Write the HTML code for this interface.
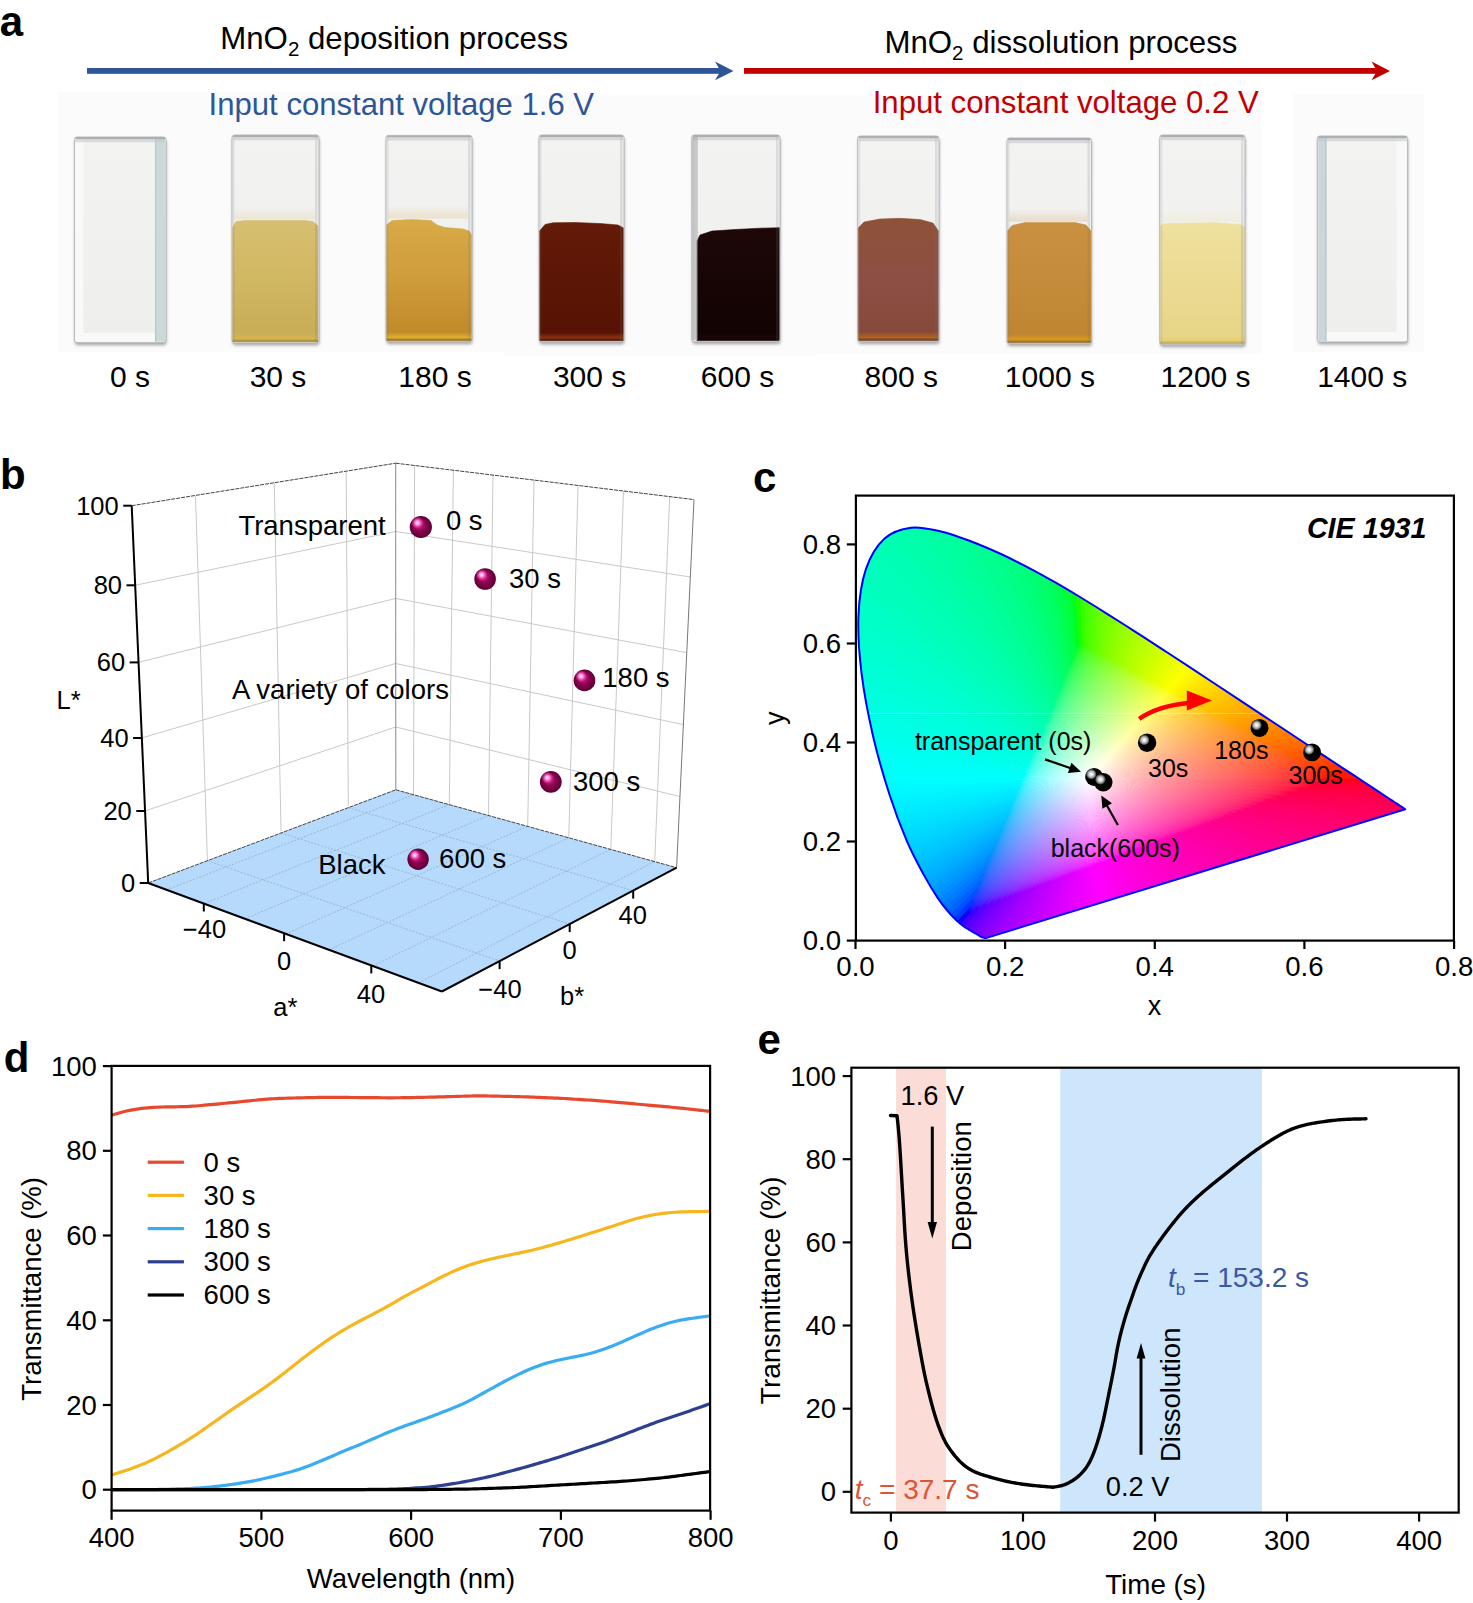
<!DOCTYPE html>
<html><head><meta charset="utf-8"><title>figure</title>
<style>html,body{margin:0;padding:0;background:#fff;}svg{display:block;}</style></head>
<body><svg width="1473" height="1603" viewBox="0 0 1473 1603" font-family="Liberation Sans, sans-serif">
<defs>
<filter id="shblur" x="-10%" y="-10%" width="120%" height="120%"><feGaussianBlur stdDeviation="1.4"/></filter>
<linearGradient id="emptyg" x1="0" y1="0" x2="0" y2="1"><stop offset="0" stop-color="#f3f3f2"/><stop offset="1" stop-color="#eeeeed"/></linearGradient>
<linearGradient id="liq1" gradientUnits="userSpaceOnUse" x1="0" y1="220.5" x2="0" y2="341.8"><stop offset="0" stop-color="#d6bf70"/><stop offset="0.5" stop-color="#d0b762"/><stop offset="0.93" stop-color="#c9ad56"/><stop offset="0.975" stop-color="#d6b64c"/><stop offset="1" stop-color="#978240"/></linearGradient>
<linearGradient id="sb1" x1="0" y1="0" x2="0" y2="1"><stop offset="0" stop-color="#d6bf70" stop-opacity="0"/><stop offset="1" stop-color="#d6bf70" stop-opacity="0.22"/></linearGradient>
<linearGradient id="liq2" gradientUnits="userSpaceOnUse" x1="0" y1="219.5" x2="0" y2="340.5"><stop offset="0" stop-color="#d8aa48"/><stop offset="0.5" stop-color="#cf9c3a"/><stop offset="0.93" stop-color="#c18a2a"/><stop offset="0.975" stop-color="#e0b02c"/><stop offset="1" stop-color="#916820"/></linearGradient>
<linearGradient id="sb2" x1="0" y1="0" x2="0" y2="1"><stop offset="0" stop-color="#d8aa48" stop-opacity="0"/><stop offset="1" stop-color="#d8aa48" stop-opacity="0.22"/></linearGradient>
<linearGradient id="liq3" gradientUnits="userSpaceOnUse" x1="0" y1="222.5" x2="0" y2="340.8"><stop offset="0" stop-color="#641b08"/><stop offset="0.5" stop-color="#5c1605"/><stop offset="0.93" stop-color="#561204"/><stop offset="0.975" stop-color="#8a3210"/><stop offset="1" stop-color="#400e03"/></linearGradient>
<linearGradient id="sb3" x1="0" y1="0" x2="0" y2="1"><stop offset="0" stop-color="#641b08" stop-opacity="0"/><stop offset="1" stop-color="#641b08" stop-opacity="0.22"/></linearGradient>
<linearGradient id="liq4" gradientUnits="userSpaceOnUse" x1="0" y1="227.7" x2="0" y2="340.5"><stop offset="0" stop-color="#1e0807"/><stop offset="0.5" stop-color="#170505"/><stop offset="0.93" stop-color="#120303"/><stop offset="0.975" stop-color="#1a0605"/><stop offset="1" stop-color="#0e0202"/></linearGradient>
<linearGradient id="sb4" x1="0" y1="0" x2="0" y2="1"><stop offset="0" stop-color="#1e0807" stop-opacity="0"/><stop offset="1" stop-color="#1e0807" stop-opacity="0.22"/></linearGradient>
<linearGradient id="liq5" gradientUnits="userSpaceOnUse" x1="0" y1="218.3" x2="0" y2="340.5"><stop offset="0" stop-color="#8f5238"/><stop offset="0.5" stop-color="#8c4f44"/><stop offset="0.93" stop-color="#864a3c"/><stop offset="0.975" stop-color="#b0651e"/><stop offset="1" stop-color="#64382d"/></linearGradient>
<linearGradient id="sb5" x1="0" y1="0" x2="0" y2="1"><stop offset="0" stop-color="#8f5238" stop-opacity="0"/><stop offset="1" stop-color="#8f5238" stop-opacity="0.22"/></linearGradient>
<linearGradient id="liq6" gradientUnits="userSpaceOnUse" x1="0" y1="222.6" x2="0" y2="342.5"><stop offset="0" stop-color="#c89040"/><stop offset="0.5" stop-color="#c48c3a"/><stop offset="0.93" stop-color="#bf8532"/><stop offset="0.975" stop-color="#d89a1e"/><stop offset="1" stop-color="#8f6426"/></linearGradient>
<linearGradient id="sb6" x1="0" y1="0" x2="0" y2="1"><stop offset="0" stop-color="#c89040" stop-opacity="0"/><stop offset="1" stop-color="#c89040" stop-opacity="0.22"/></linearGradient>
<linearGradient id="liq7" gradientUnits="userSpaceOnUse" x1="0" y1="222.8" x2="0" y2="343.6"><stop offset="0" stop-color="#eee09e"/><stop offset="0.5" stop-color="#ebdb92"/><stop offset="0.93" stop-color="#e7d588"/><stop offset="0.975" stop-color="#e8d070"/><stop offset="1" stop-color="#ada066"/></linearGradient>
<linearGradient id="sb7" x1="0" y1="0" x2="0" y2="1"><stop offset="0" stop-color="#eee09e" stop-opacity="0"/><stop offset="1" stop-color="#eee09e" stop-opacity="0.22"/></linearGradient>
<radialGradient id="sph" cx="0.5" cy="0.5" r="0.5" fx="0.36" fy="0.3"><stop offset="0" stop-color="#f070c0"/><stop offset="0.25" stop-color="#c8207e"/><stop offset="0.55" stop-color="#8e0350"/><stop offset="0.85" stop-color="#6c003c"/><stop offset="1" stop-color="#5a0032"/></radialGradient>
<radialGradient id="mhl"><stop offset="0" stop-color="#ffe2ff"/><stop offset="0.3" stop-color="#ffb0ec" stop-opacity="0.95"/><stop offset="0.65" stop-color="#ff5cc4" stop-opacity="0.55"/><stop offset="1" stop-color="#ff40b0" stop-opacity="0"/></radialGradient>
<clipPath id="cieclip"><path d="M985.76,938.12 C985.11,937.97 983.08,937.67 981.87,937.18 C980.66,936.70 980.04,936.09 978.50,935.20 C976.97,934.31 974.34,932.81 972.67,931.83 C971.00,930.86 970.05,930.35 968.48,929.36 C966.91,928.37 965.17,927.31 963.24,925.89 C961.31,924.47 959.36,923.16 956.88,920.84 C954.40,918.52 951.58,915.85 948.35,911.97 C945.12,908.10 941.59,903.79 937.50,897.61 C933.41,891.43 928.91,884.28 923.81,874.88 C918.71,865.48 912.63,854.60 906.90,841.20 C901.18,827.81 895.10,812.00 889.47,794.50 C883.83,777.00 877.72,756.30 873.08,736.21 C868.44,716.12 864.08,693.94 861.64,673.96 C859.19,653.97 857.71,633.79 858.42,616.31 C859.13,598.83 861.54,582.04 865.90,569.06 C870.26,556.09 877.07,545.36 884.60,538.46 C892.14,531.56 901.70,528.83 911.09,527.66 C920.48,526.49 930.92,529.12 940.94,531.42 C950.97,533.73 961.43,537.80 971.25,541.48 C981.06,545.16 990.49,549.25 999.83,553.51 C1009.17,557.77 1018.20,562.30 1027.29,567.03 C1036.38,571.76 1045.39,576.77 1054.37,581.89 C1063.35,587.01 1072.24,592.34 1081.16,597.74 C1090.07,603.14 1098.95,608.68 1107.87,614.28 C1116.78,619.88 1125.75,625.60 1134.65,631.32 C1143.56,637.04 1152.44,642.84 1161.29,648.60 C1170.14,654.36 1179.03,660.16 1187.78,665.88 C1196.52,671.61 1205.21,677.35 1213.74,682.97 C1222.27,688.59 1230.72,694.18 1238.95,699.61 C1247.18,705.04 1255.30,710.41 1263.12,715.56 C1270.94,720.71 1278.62,725.74 1285.86,730.51 C1293.11,735.29 1300.13,739.97 1306.59,744.23 C1313.05,748.50 1318.97,752.40 1324.62,756.12 C1330.27,759.84 1335.64,763.39 1340.48,766.57 C1345.32,769.75 1349.67,772.57 1353.65,775.19 C1357.63,777.80 1361.15,780.15 1364.35,782.27 C1367.56,784.39 1370.32,786.23 1372.88,787.91 C1375.44,789.60 1377.64,791.03 1379.69,792.37 C1381.73,793.72 1383.48,794.88 1385.15,795.99 C1386.82,797.09 1388.33,798.09 1389.71,799.01 C1391.10,799.92 1392.33,800.75 1393.46,801.48 C1394.58,802.22 1395.29,802.66 1396.45,803.42 C1397.61,804.18 1398.96,805.07 1400.41,806.04 C1401.87,807.01 1404.40,808.68 1405.20,809.21 Z"/></clipPath>
<linearGradient id="w0" gradientUnits="userSpaceOnUse" x1="1089.5" y1="777.7" x2="1362.4" y2="781.0"><stop offset="0.000" stop-color="#ffffff"/><stop offset="0.062" stop-color="#ffdfdf"/><stop offset="0.138" stop-color="#ffc1c2"/><stop offset="0.225" stop-color="#ffa6a8"/><stop offset="0.325" stop-color="#ff8d8f"/><stop offset="0.750" stop-color="#ff323c"/><stop offset="0.825" stop-color="#ff1a2b"/><stop offset="0.863" stop-color="#ff011f"/><stop offset="1.000" stop-color="#ff001f"/></linearGradient>
<linearGradient id="w1" gradientUnits="userSpaceOnUse" x1="1089.5" y1="777.7" x2="1372.9" y2="787.9"><stop offset="0.000" stop-color="#ffffff"/><stop offset="0.050" stop-color="#ffe3e4"/><stop offset="0.100" stop-color="#ffcccf"/><stop offset="0.250" stop-color="#ff9aa0"/><stop offset="0.412" stop-color="#ff727b"/><stop offset="0.675" stop-color="#ff344b"/><stop offset="0.738" stop-color="#ff1f3f"/><stop offset="0.787" stop-color="#ff0036"/><stop offset="1.000" stop-color="#ff0036"/></linearGradient>
<linearGradient id="w2" gradientUnits="userSpaceOnUse" x1="1089.5" y1="777.7" x2="1384.4" y2="795.5"><stop offset="0.000" stop-color="#ffffff"/><stop offset="0.050" stop-color="#ffe1e3"/><stop offset="0.100" stop-color="#ffcacd"/><stop offset="0.237" stop-color="#ff99a1"/><stop offset="0.388" stop-color="#ff707f"/><stop offset="0.613" stop-color="#ff3555"/><stop offset="0.675" stop-color="#ff1c4a"/><stop offset="0.713" stop-color="#ff0044"/><stop offset="1.000" stop-color="#ff0044"/></linearGradient>
<linearGradient id="w3" gradientUnits="userSpaceOnUse" x1="1089.5" y1="777.7" x2="1396.9" y2="803.7"><stop offset="0.000" stop-color="#ffffff"/><stop offset="0.050" stop-color="#ffe0e2"/><stop offset="0.100" stop-color="#ffc7cc"/><stop offset="0.225" stop-color="#ff97a3"/><stop offset="0.362" stop-color="#ff6f83"/><stop offset="0.550" stop-color="#ff385f"/><stop offset="0.613" stop-color="#ff1d55"/><stop offset="0.637" stop-color="#ff0750"/><stop offset="0.650" stop-color="#ff0050"/><stop offset="1.000" stop-color="#ff0050"/></linearGradient>
<linearGradient id="w4" gradientUnits="userSpaceOnUse" x1="1089.5" y1="777.7" x2="1398.2" y2="811.4"><stop offset="0.000" stop-color="#ffffff"/><stop offset="0.050" stop-color="#ffdfe2"/><stop offset="0.100" stop-color="#ffc5cc"/><stop offset="0.225" stop-color="#ff95a4"/><stop offset="0.350" stop-color="#ff6e86"/><stop offset="0.525" stop-color="#ff3766"/><stop offset="0.575" stop-color="#ff1f5e"/><stop offset="0.613" stop-color="#ff0059"/><stop offset="1.000" stop-color="#ff0059"/></linearGradient>
<linearGradient id="w5" gradientUnits="userSpaceOnUse" x1="1089.5" y1="777.7" x2="1381.0" y2="816.6"><stop offset="0.000" stop-color="#ffffff"/><stop offset="0.050" stop-color="#ffe0e4"/><stop offset="0.100" stop-color="#ffc7cf"/><stop offset="0.225" stop-color="#ff97a8"/><stop offset="0.362" stop-color="#ff6c89"/><stop offset="0.525" stop-color="#ff396e"/><stop offset="0.588" stop-color="#ff1a64"/><stop offset="0.613" stop-color="#ff0061"/><stop offset="1.000" stop-color="#ff0061"/></linearGradient>
<linearGradient id="w6" gradientUnits="userSpaceOnUse" x1="1089.5" y1="777.7" x2="1365.6" y2="821.4"><stop offset="0.000" stop-color="#ffffff"/><stop offset="0.050" stop-color="#ffe1e5"/><stop offset="0.100" stop-color="#ffc8d1"/><stop offset="0.237" stop-color="#ff94a9"/><stop offset="0.362" stop-color="#ff6e8f"/><stop offset="0.525" stop-color="#ff3b74"/><stop offset="0.575" stop-color="#ff256d"/><stop offset="0.600" stop-color="#ff136a"/><stop offset="0.613" stop-color="#ff0468"/><stop offset="0.625" stop-color="#ff0068"/><stop offset="1.000" stop-color="#ff0068"/></linearGradient>
<linearGradient id="w7" gradientUnits="userSpaceOnUse" x1="1089.5" y1="777.7" x2="1351.6" y2="825.7"><stop offset="0.000" stop-color="#ffffff"/><stop offset="0.050" stop-color="#ffe2e6"/><stop offset="0.100" stop-color="#ffc9d3"/><stop offset="0.237" stop-color="#ff96ac"/><stop offset="0.375" stop-color="#ff6c91"/><stop offset="0.537" stop-color="#ff3879"/><stop offset="0.588" stop-color="#ff2072"/><stop offset="0.625" stop-color="#ff006e"/><stop offset="1.000" stop-color="#ff006e"/></linearGradient>
<linearGradient id="w8" gradientUnits="userSpaceOnUse" x1="1089.5" y1="777.7" x2="1338.8" y2="829.6"><stop offset="0.000" stop-color="#ffffff"/><stop offset="0.100" stop-color="#ffcbd5"/><stop offset="0.237" stop-color="#ff98b0"/><stop offset="0.375" stop-color="#ff6e96"/><stop offset="0.537" stop-color="#ff3a7e"/><stop offset="0.588" stop-color="#ff2278"/><stop offset="0.600" stop-color="#ff1a76"/><stop offset="0.625" stop-color="#ff0074"/><stop offset="1.000" stop-color="#ff0074"/></linearGradient>
<linearGradient id="w9" gradientUnits="userSpaceOnUse" x1="1089.5" y1="777.7" x2="1327.1" y2="833.2"><stop offset="0.000" stop-color="#ffffff"/><stop offset="0.100" stop-color="#ffccd7"/><stop offset="0.237" stop-color="#ff99b3"/><stop offset="0.375" stop-color="#ff709a"/><stop offset="0.537" stop-color="#ff3c83"/><stop offset="0.600" stop-color="#ff1c7c"/><stop offset="0.613" stop-color="#ff117a"/><stop offset="0.625" stop-color="#ff0079"/><stop offset="1.000" stop-color="#ff0079"/></linearGradient>
<linearGradient id="w10" gradientUnits="userSpaceOnUse" x1="1089.5" y1="777.7" x2="1316.4" y2="836.5"><stop offset="0.000" stop-color="#ffffff"/><stop offset="0.100" stop-color="#ffcdd8"/><stop offset="0.250" stop-color="#ff97b3"/><stop offset="0.375" stop-color="#ff719d"/><stop offset="0.537" stop-color="#ff3d88"/><stop offset="0.588" stop-color="#ff2682"/><stop offset="0.613" stop-color="#ff147f"/><stop offset="0.625" stop-color="#ff047e"/><stop offset="0.637" stop-color="#ff007e"/><stop offset="1.000" stop-color="#ff007e"/></linearGradient>
<linearGradient id="w11" gradientUnits="userSpaceOnUse" x1="1089.5" y1="777.7" x2="1306.4" y2="839.6"><stop offset="0.000" stop-color="#ffffff"/><stop offset="0.050" stop-color="#ffe4eb"/><stop offset="0.113" stop-color="#ffc8d6"/><stop offset="0.250" stop-color="#ff98b6"/><stop offset="0.375" stop-color="#ff72a1"/><stop offset="0.537" stop-color="#ff3f8c"/><stop offset="0.600" stop-color="#ff2085"/><stop offset="0.613" stop-color="#ff1784"/><stop offset="0.625" stop-color="#ff0883"/><stop offset="0.637" stop-color="#ff0082"/><stop offset="1.000" stop-color="#ff0082"/></linearGradient>
<linearGradient id="w12" gradientUnits="userSpaceOnUse" x1="1089.5" y1="777.7" x2="1297.2" y2="842.4"><stop offset="0.000" stop-color="#ffffff"/><stop offset="0.087" stop-color="#ffd4df"/><stop offset="0.212" stop-color="#ffa5c0"/><stop offset="0.362" stop-color="#ff77a6"/><stop offset="0.550" stop-color="#ff3b8f"/><stop offset="0.600" stop-color="#ff228a"/><stop offset="0.637" stop-color="#ff0086"/><stop offset="1.000" stop-color="#ff0086"/></linearGradient>
<linearGradient id="w13" gradientUnits="userSpaceOnUse" x1="1089.5" y1="777.7" x2="1288.6" y2="845.0"><stop offset="0.000" stop-color="#ffffff"/><stop offset="0.087" stop-color="#ffd5e0"/><stop offset="0.212" stop-color="#ffa6c2"/><stop offset="0.362" stop-color="#ff79a9"/><stop offset="0.550" stop-color="#ff3d93"/><stop offset="0.600" stop-color="#ff248e"/><stop offset="0.613" stop-color="#ff1b8c"/><stop offset="0.637" stop-color="#ff008a"/><stop offset="1.000" stop-color="#ff008a"/></linearGradient>
<linearGradient id="w14" gradientUnits="userSpaceOnUse" x1="1089.5" y1="777.7" x2="1280.6" y2="847.5"><stop offset="0.000" stop-color="#ffffff"/><stop offset="0.087" stop-color="#ffd5e2"/><stop offset="0.212" stop-color="#ffa8c4"/><stop offset="0.362" stop-color="#ff7aac"/><stop offset="0.550" stop-color="#ff3e96"/><stop offset="0.613" stop-color="#ff1d90"/><stop offset="0.625" stop-color="#ff128f"/><stop offset="0.637" stop-color="#ff008e"/><stop offset="1.000" stop-color="#ff008e"/></linearGradient>
<linearGradient id="w15" gradientUnits="userSpaceOnUse" x1="1089.5" y1="777.7" x2="1273.0" y2="849.8"><stop offset="0.000" stop-color="#ffffff"/><stop offset="0.100" stop-color="#ffd1df"/><stop offset="0.225" stop-color="#ffa5c4"/><stop offset="0.375" stop-color="#ff77ad"/><stop offset="0.550" stop-color="#ff3f9a"/><stop offset="0.613" stop-color="#ff1f94"/><stop offset="0.625" stop-color="#ff1493"/><stop offset="0.637" stop-color="#ff0292"/><stop offset="1.000" stop-color="#ff0092"/></linearGradient>
<linearGradient id="w16" gradientUnits="userSpaceOnUse" x1="1089.5" y1="777.7" x2="1265.9" y2="852.0"><stop offset="0.000" stop-color="#ffffff"/><stop offset="0.100" stop-color="#ffd2e1"/><stop offset="0.225" stop-color="#ffa6c6"/><stop offset="0.375" stop-color="#ff79b0"/><stop offset="0.550" stop-color="#ff409d"/><stop offset="0.600" stop-color="#ff2998"/><stop offset="0.625" stop-color="#ff1696"/><stop offset="0.637" stop-color="#ff0595"/><stop offset="0.650" stop-color="#ff0095"/><stop offset="1.000" stop-color="#ff0095"/></linearGradient>
<linearGradient id="w17" gradientUnits="userSpaceOnUse" x1="1089.5" y1="777.7" x2="1259.2" y2="854.1"><stop offset="0.000" stop-color="#ffffff"/><stop offset="0.100" stop-color="#ffd2e2"/><stop offset="0.225" stop-color="#ffa7c8"/><stop offset="0.375" stop-color="#ff7ab2"/><stop offset="0.550" stop-color="#ff41a0"/><stop offset="0.613" stop-color="#ff229b"/><stop offset="0.625" stop-color="#ff189a"/><stop offset="0.637" stop-color="#ff0899"/><stop offset="0.650" stop-color="#ff0098"/><stop offset="1.000" stop-color="#ff0098"/></linearGradient>
<linearGradient id="w18" gradientUnits="userSpaceOnUse" x1="1089.5" y1="777.7" x2="1252.9" y2="856.0"><stop offset="0.000" stop-color="#ffffff"/><stop offset="0.100" stop-color="#ffd3e3"/><stop offset="0.225" stop-color="#ffa8ca"/><stop offset="0.375" stop-color="#ff7bb5"/><stop offset="0.550" stop-color="#ff42a3"/><stop offset="0.613" stop-color="#ff249e"/><stop offset="0.650" stop-color="#ff009b"/><stop offset="1.000" stop-color="#ff009b"/></linearGradient>
<linearGradient id="w19" gradientUnits="userSpaceOnUse" x1="1089.5" y1="777.7" x2="1246.9" y2="857.9"><stop offset="0.000" stop-color="#ffffff"/><stop offset="0.100" stop-color="#ffd4e4"/><stop offset="0.225" stop-color="#ffa9cc"/><stop offset="0.375" stop-color="#ff7cb7"/><stop offset="0.550" stop-color="#ff44a6"/><stop offset="0.613" stop-color="#ff25a1"/><stop offset="0.625" stop-color="#ff1ca0"/><stop offset="0.650" stop-color="#ff009e"/><stop offset="1.000" stop-color="#ff009e"/></linearGradient>
<linearGradient id="w20" gradientUnits="userSpaceOnUse" x1="1089.5" y1="777.7" x2="1241.2" y2="859.6"><stop offset="0.000" stop-color="#ffffff"/><stop offset="0.100" stop-color="#ffd4e5"/><stop offset="0.225" stop-color="#ffa9cd"/><stop offset="0.375" stop-color="#ff7dba"/><stop offset="0.550" stop-color="#ff45a9"/><stop offset="0.613" stop-color="#ff26a4"/><stop offset="0.625" stop-color="#ff1da3"/><stop offset="0.650" stop-color="#ff00a1"/><stop offset="1.000" stop-color="#ff00a1"/></linearGradient>
<linearGradient id="w21" gradientUnits="userSpaceOnUse" x1="1089.5" y1="777.7" x2="1235.7" y2="861.3"><stop offset="0.000" stop-color="#ffffff"/><stop offset="0.100" stop-color="#ffd5e6"/><stop offset="0.225" stop-color="#ffaacf"/><stop offset="0.463" stop-color="#ff64b3"/><stop offset="0.550" stop-color="#ff46ab"/><stop offset="0.613" stop-color="#ff27a7"/><stop offset="0.637" stop-color="#ff12a5"/><stop offset="0.650" stop-color="#ff00a4"/><stop offset="1.000" stop-color="#ff00a4"/></linearGradient>
<linearGradient id="w22" gradientUnits="userSpaceOnUse" x1="1089.5" y1="777.7" x2="1230.5" y2="862.9"><stop offset="0.000" stop-color="#ffffff"/><stop offset="0.100" stop-color="#ffd5e7"/><stop offset="0.225" stop-color="#ffabd1"/><stop offset="0.463" stop-color="#ff64b5"/><stop offset="0.550" stop-color="#ff47ae"/><stop offset="0.600" stop-color="#ff30aa"/><stop offset="0.625" stop-color="#ff20a8"/><stop offset="0.637" stop-color="#ff14a8"/><stop offset="0.650" stop-color="#ff00a7"/><stop offset="1.000" stop-color="#ff00a7"/></linearGradient>
<linearGradient id="w23" gradientUnits="userSpaceOnUse" x1="1089.5" y1="777.7" x2="1225.5" y2="864.4"><stop offset="0.000" stop-color="#ffffff"/><stop offset="0.100" stop-color="#ffd6e7"/><stop offset="0.225" stop-color="#ffacd2"/><stop offset="0.463" stop-color="#ff65b8"/><stop offset="0.550" stop-color="#ff47b0"/><stop offset="0.600" stop-color="#ff31ad"/><stop offset="0.625" stop-color="#ff21ab"/><stop offset="0.637" stop-color="#ff16aa"/><stop offset="0.650" stop-color="#ff03a9"/><stop offset="1.000" stop-color="#ff00a9"/></linearGradient>
<linearGradient id="w24" gradientUnits="userSpaceOnUse" x1="1089.5" y1="777.7" x2="1220.7" y2="865.9"><stop offset="0.000" stop-color="#ffffff"/><stop offset="0.100" stop-color="#ffd6e8"/><stop offset="0.225" stop-color="#ffadd4"/><stop offset="0.450" stop-color="#ff6abb"/><stop offset="0.550" stop-color="#ff48b3"/><stop offset="0.613" stop-color="#ff2bae"/><stop offset="0.637" stop-color="#ff18ad"/><stop offset="0.650" stop-color="#ff05ac"/><stop offset="0.662" stop-color="#ff00ac"/><stop offset="1.000" stop-color="#ff00ac"/></linearGradient>
<linearGradient id="w25" gradientUnits="userSpaceOnUse" x1="1089.5" y1="777.7" x2="1216.1" y2="867.3"><stop offset="0.000" stop-color="#ffffff"/><stop offset="0.100" stop-color="#ffd7e9"/><stop offset="0.225" stop-color="#ffadd5"/><stop offset="0.450" stop-color="#ff6bbd"/><stop offset="0.550" stop-color="#ff49b5"/><stop offset="0.613" stop-color="#ff2cb1"/><stop offset="0.637" stop-color="#ff19af"/><stop offset="0.650" stop-color="#ff08ae"/><stop offset="0.662" stop-color="#ff00ae"/><stop offset="1.000" stop-color="#ff00ae"/></linearGradient>
<linearGradient id="w26" gradientUnits="userSpaceOnUse" x1="1089.5" y1="777.7" x2="1211.6" y2="868.7"><stop offset="0.000" stop-color="#ffffff"/><stop offset="0.100" stop-color="#ffd7ea"/><stop offset="0.225" stop-color="#ffaed7"/><stop offset="0.450" stop-color="#ff6cbf"/><stop offset="0.550" stop-color="#ff4ab7"/><stop offset="0.588" stop-color="#ff3ab5"/><stop offset="0.625" stop-color="#ff25b2"/><stop offset="0.662" stop-color="#ff00b1"/><stop offset="1.000" stop-color="#ff00b1"/></linearGradient>
<linearGradient id="w27" gradientUnits="userSpaceOnUse" x1="1089.5" y1="777.7" x2="1207.3" y2="870.0"><stop offset="0.000" stop-color="#ffffff"/><stop offset="0.100" stop-color="#ffd8eb"/><stop offset="0.225" stop-color="#ffafd8"/><stop offset="0.450" stop-color="#ff6dc1"/><stop offset="0.550" stop-color="#ff4bba"/><stop offset="0.588" stop-color="#ff3bb7"/><stop offset="0.625" stop-color="#ff26b5"/><stop offset="0.662" stop-color="#ff00b3"/><stop offset="1.000" stop-color="#ff00b3"/></linearGradient>
<linearGradient id="w28" gradientUnits="userSpaceOnUse" x1="1089.5" y1="777.7" x2="1203.2" y2="871.3"><stop offset="0.000" stop-color="#ffffff"/><stop offset="0.100" stop-color="#ffd8eb"/><stop offset="0.225" stop-color="#ffb0d9"/><stop offset="0.450" stop-color="#ff6dc3"/><stop offset="0.550" stop-color="#ff4cbc"/><stop offset="0.588" stop-color="#ff3cb9"/><stop offset="0.625" stop-color="#ff27b7"/><stop offset="0.637" stop-color="#ff1db6"/><stop offset="0.662" stop-color="#ff00b5"/><stop offset="1.000" stop-color="#ff00b5"/></linearGradient>
<linearGradient id="w29" gradientUnits="userSpaceOnUse" x1="1089.5" y1="777.7" x2="1199.2" y2="872.5"><stop offset="0.000" stop-color="#ffffff"/><stop offset="0.100" stop-color="#ffd9ec"/><stop offset="0.225" stop-color="#ffb0db"/><stop offset="0.450" stop-color="#ff6ec5"/><stop offset="0.550" stop-color="#ff4dbe"/><stop offset="0.625" stop-color="#ff28b9"/><stop offset="0.637" stop-color="#ff1eb9"/><stop offset="0.662" stop-color="#ff00b8"/><stop offset="1.000" stop-color="#ff00b8"/></linearGradient>
<linearGradient id="w30" gradientUnits="userSpaceOnUse" x1="1089.5" y1="777.7" x2="1195.3" y2="873.7"><stop offset="0.000" stop-color="#ffffff"/><stop offset="0.100" stop-color="#ffd9ed"/><stop offset="0.225" stop-color="#ffb1dc"/><stop offset="0.450" stop-color="#ff6fc7"/><stop offset="0.550" stop-color="#ff4dc0"/><stop offset="0.625" stop-color="#ff29bc"/><stop offset="0.650" stop-color="#ff12ba"/><stop offset="0.662" stop-color="#ff00ba"/><stop offset="1.000" stop-color="#ff00ba"/></linearGradient>
<linearGradient id="w31" gradientUnits="userSpaceOnUse" x1="1089.5" y1="777.7" x2="1191.5" y2="874.9"><stop offset="0.000" stop-color="#ffffff"/><stop offset="0.100" stop-color="#ffdaed"/><stop offset="0.225" stop-color="#ffb2dd"/><stop offset="0.450" stop-color="#ff70c9"/><stop offset="0.550" stop-color="#ff4ec2"/><stop offset="0.625" stop-color="#ff2abe"/><stop offset="0.650" stop-color="#ff14bd"/><stop offset="0.662" stop-color="#ff00bc"/><stop offset="1.000" stop-color="#ff00bc"/></linearGradient>
<linearGradient id="w32" gradientUnits="userSpaceOnUse" x1="1089.5" y1="777.7" x2="1187.8" y2="876.0"><stop offset="0.000" stop-color="#ffffff"/><stop offset="0.100" stop-color="#ffdaee"/><stop offset="0.237" stop-color="#ffafdd"/><stop offset="0.450" stop-color="#ff71cb"/><stop offset="0.550" stop-color="#ff4fc4"/><stop offset="0.625" stop-color="#ff2bc0"/><stop offset="0.650" stop-color="#ff15bf"/><stop offset="0.662" stop-color="#ff00be"/><stop offset="1.000" stop-color="#ff00be"/></linearGradient>
<linearGradient id="w33" gradientUnits="userSpaceOnUse" x1="1089.5" y1="777.7" x2="1184.2" y2="877.1"><stop offset="0.000" stop-color="#ffffff"/><stop offset="0.100" stop-color="#ffdaef"/><stop offset="0.237" stop-color="#ffafde"/><stop offset="0.450" stop-color="#ff71cc"/><stop offset="0.550" stop-color="#ff50c6"/><stop offset="0.625" stop-color="#ff2cc2"/><stop offset="0.650" stop-color="#ff16c1"/><stop offset="0.662" stop-color="#ff01c0"/><stop offset="1.000" stop-color="#ff00c0"/></linearGradient>
<linearGradient id="w34" gradientUnits="userSpaceOnUse" x1="1089.5" y1="777.7" x2="1180.7" y2="878.2"><stop offset="0.000" stop-color="#ffffff"/><stop offset="0.100" stop-color="#ffdbef"/><stop offset="0.237" stop-color="#ffb0df"/><stop offset="0.450" stop-color="#ff72ce"/><stop offset="0.550" stop-color="#ff50c8"/><stop offset="0.625" stop-color="#ff2dc4"/><stop offset="0.650" stop-color="#ff18c3"/><stop offset="0.662" stop-color="#ff03c2"/><stop offset="0.675" stop-color="#ff00c2"/><stop offset="1.000" stop-color="#ff00c2"/></linearGradient>
<linearGradient id="w35" gradientUnits="userSpaceOnUse" x1="1089.5" y1="777.7" x2="1177.3" y2="879.3"><stop offset="0.000" stop-color="#ffffff"/><stop offset="0.100" stop-color="#ffdbf0"/><stop offset="0.237" stop-color="#ffb1e1"/><stop offset="0.450" stop-color="#ff73d0"/><stop offset="0.550" stop-color="#ff51ca"/><stop offset="0.625" stop-color="#ff2ec6"/><stop offset="0.650" stop-color="#ff19c5"/><stop offset="0.662" stop-color="#ff05c5"/><stop offset="0.675" stop-color="#ff00c4"/><stop offset="1.000" stop-color="#ff00c4"/></linearGradient>
<linearGradient id="w36" gradientUnits="userSpaceOnUse" x1="1089.5" y1="777.7" x2="1173.9" y2="880.3"><stop offset="0.000" stop-color="#ffffff"/><stop offset="0.100" stop-color="#ffdcf1"/><stop offset="0.237" stop-color="#ffb1e2"/><stop offset="0.450" stop-color="#ff74d2"/><stop offset="0.550" stop-color="#ff52cc"/><stop offset="0.625" stop-color="#ff2ec8"/><stop offset="0.650" stop-color="#ff1ac7"/><stop offset="0.662" stop-color="#ff07c7"/><stop offset="0.675" stop-color="#ff00c6"/><stop offset="1.000" stop-color="#ff00c6"/></linearGradient>
<linearGradient id="w37" gradientUnits="userSpaceOnUse" x1="1089.5" y1="777.7" x2="1170.7" y2="881.3"><stop offset="0.000" stop-color="#ffffff"/><stop offset="0.100" stop-color="#ffdcf1"/><stop offset="0.237" stop-color="#ffb2e3"/><stop offset="0.450" stop-color="#ff74d3"/><stop offset="0.550" stop-color="#ff53ce"/><stop offset="0.625" stop-color="#ff2fca"/><stop offset="0.650" stop-color="#ff1bc9"/><stop offset="0.662" stop-color="#ff09c9"/><stop offset="0.675" stop-color="#ff00c9"/><stop offset="1.000" stop-color="#ff00c9"/></linearGradient>
<linearGradient id="w38" gradientUnits="userSpaceOnUse" x1="1089.5" y1="777.7" x2="1167.4" y2="882.3"><stop offset="0.000" stop-color="#ffffff"/><stop offset="0.237" stop-color="#ffb2e4"/><stop offset="0.450" stop-color="#ff75d5"/><stop offset="0.550" stop-color="#ff53d0"/><stop offset="0.625" stop-color="#ff30cc"/><stop offset="0.650" stop-color="#ff1dcb"/><stop offset="0.662" stop-color="#ff0bcb"/><stop offset="0.675" stop-color="#ff00cb"/><stop offset="1.000" stop-color="#ff00cb"/></linearGradient>
<linearGradient id="w39" gradientUnits="userSpaceOnUse" x1="1089.5" y1="777.7" x2="1164.3" y2="883.3"><stop offset="0.000" stop-color="#ffffff"/><stop offset="0.237" stop-color="#ffb3e5"/><stop offset="0.450" stop-color="#ff76d7"/><stop offset="0.550" stop-color="#ff54d2"/><stop offset="0.625" stop-color="#ff31ce"/><stop offset="0.650" stop-color="#ff1ecd"/><stop offset="0.675" stop-color="#ff00cd"/><stop offset="1.000" stop-color="#ff00cd"/></linearGradient>
<linearGradient id="w40" gradientUnits="userSpaceOnUse" x1="1089.5" y1="777.7" x2="1161.1" y2="884.2"><stop offset="0.000" stop-color="#ffffff"/><stop offset="0.237" stop-color="#ffb4e6"/><stop offset="0.438" stop-color="#ff7ad9"/><stop offset="0.550" stop-color="#ff55d4"/><stop offset="0.600" stop-color="#ff3fd1"/><stop offset="0.637" stop-color="#ff29d0"/><stop offset="0.650" stop-color="#ff1fcf"/><stop offset="0.675" stop-color="#ff00cf"/><stop offset="1.000" stop-color="#ff00cf"/></linearGradient>
<linearGradient id="w41" gradientUnits="userSpaceOnUse" x1="1089.5" y1="777.7" x2="1158.1" y2="885.2"><stop offset="0.000" stop-color="#ffffff"/><stop offset="0.237" stop-color="#ffb4e7"/><stop offset="0.438" stop-color="#ff7bdb"/><stop offset="0.550" stop-color="#ff56d5"/><stop offset="0.600" stop-color="#ff40d3"/><stop offset="0.637" stop-color="#ff2ad2"/><stop offset="0.650" stop-color="#ff20d1"/><stop offset="0.675" stop-color="#ff00d1"/><stop offset="1.000" stop-color="#ff00d1"/></linearGradient>
<linearGradient id="w42" gradientUnits="userSpaceOnUse" x1="1089.5" y1="777.7" x2="1155.0" y2="886.1"><stop offset="0.000" stop-color="#ffffff"/><stop offset="0.237" stop-color="#ffb5e9"/><stop offset="0.438" stop-color="#ff7cdd"/><stop offset="0.550" stop-color="#ff56d7"/><stop offset="0.600" stop-color="#ff41d5"/><stop offset="0.637" stop-color="#ff2bd4"/><stop offset="0.650" stop-color="#ff21d3"/><stop offset="0.675" stop-color="#ff00d3"/><stop offset="1.000" stop-color="#ff00d3"/></linearGradient>
<linearGradient id="w43" gradientUnits="userSpaceOnUse" x1="1089.5" y1="777.7" x2="1152.0" y2="887.0"><stop offset="0.000" stop-color="#ffffff"/><stop offset="0.237" stop-color="#ffb5ea"/><stop offset="0.438" stop-color="#ff7cde"/><stop offset="0.550" stop-color="#ff57d9"/><stop offset="0.600" stop-color="#ff42d7"/><stop offset="0.637" stop-color="#ff2cd6"/><stop offset="0.662" stop-color="#ff14d5"/><stop offset="0.675" stop-color="#ff00d5"/><stop offset="1.000" stop-color="#ff00d5"/></linearGradient>
<linearGradient id="w44" gradientUnits="userSpaceOnUse" x1="1089.5" y1="777.7" x2="1149.0" y2="887.9"><stop offset="0.000" stop-color="#ffffff"/><stop offset="0.237" stop-color="#ffb6eb"/><stop offset="0.438" stop-color="#ff7de0"/><stop offset="0.550" stop-color="#ff58db"/><stop offset="0.600" stop-color="#ff42d9"/><stop offset="0.637" stop-color="#ff2dd8"/><stop offset="0.662" stop-color="#ff15d7"/><stop offset="0.675" stop-color="#ff00d7"/><stop offset="1.000" stop-color="#ff00d7"/></linearGradient>
<linearGradient id="w45" gradientUnits="userSpaceOnUse" x1="1089.5" y1="777.7" x2="1146.1" y2="888.8"><stop offset="0.000" stop-color="#ffffff"/><stop offset="0.237" stop-color="#ffb7ec"/><stop offset="0.438" stop-color="#ff7ee1"/><stop offset="0.550" stop-color="#ff58dd"/><stop offset="0.600" stop-color="#ff43db"/><stop offset="0.637" stop-color="#ff2eda"/><stop offset="0.662" stop-color="#ff16d9"/><stop offset="0.675" stop-color="#ff00d9"/><stop offset="1.000" stop-color="#ff00d9"/></linearGradient>
<linearGradient id="w46" gradientUnits="userSpaceOnUse" x1="1089.5" y1="777.7" x2="1143.2" y2="889.7"><stop offset="0.000" stop-color="#ffffff"/><stop offset="0.237" stop-color="#ffb7ed"/><stop offset="0.438" stop-color="#ff7fe3"/><stop offset="0.550" stop-color="#ff59df"/><stop offset="0.600" stop-color="#ff44dd"/><stop offset="0.637" stop-color="#ff2fdc"/><stop offset="0.662" stop-color="#ff18db"/><stop offset="0.675" stop-color="#ff00db"/><stop offset="1.000" stop-color="#ff00db"/></linearGradient>
<linearGradient id="w47" gradientUnits="userSpaceOnUse" x1="1089.5" y1="777.7" x2="1140.3" y2="890.6"><stop offset="0.000" stop-color="#ffffff"/><stop offset="0.237" stop-color="#ffb8ee"/><stop offset="0.438" stop-color="#ff7fe5"/><stop offset="0.550" stop-color="#ff5ae1"/><stop offset="0.600" stop-color="#ff45df"/><stop offset="0.637" stop-color="#ff2fde"/><stop offset="0.662" stop-color="#ff19dd"/><stop offset="0.675" stop-color="#ff01dd"/><stop offset="1.000" stop-color="#ff00dd"/></linearGradient>
<linearGradient id="w48" gradientUnits="userSpaceOnUse" x1="1089.5" y1="777.7" x2="1137.4" y2="891.5"><stop offset="0.000" stop-color="#ffffff"/><stop offset="0.237" stop-color="#ffb9ef"/><stop offset="0.425" stop-color="#ff84e7"/><stop offset="0.537" stop-color="#ff5fe3"/><stop offset="0.600" stop-color="#ff45e1"/><stop offset="0.637" stop-color="#ff30e0"/><stop offset="0.662" stop-color="#ff1adf"/><stop offset="0.675" stop-color="#ff03df"/><stop offset="0.688" stop-color="#ff00df"/><stop offset="1.000" stop-color="#ff00df"/></linearGradient>
<linearGradient id="w49" gradientUnits="userSpaceOnUse" x1="1089.5" y1="777.7" x2="1134.6" y2="892.4"><stop offset="0.000" stop-color="#ffffff"/><stop offset="0.237" stop-color="#ffb9f0"/><stop offset="0.425" stop-color="#ff84e9"/><stop offset="0.537" stop-color="#ff60e5"/><stop offset="0.600" stop-color="#ff46e3"/><stop offset="0.637" stop-color="#ff31e2"/><stop offset="0.662" stop-color="#ff1be2"/><stop offset="0.675" stop-color="#ff06e1"/><stop offset="0.688" stop-color="#ff00e1"/><stop offset="1.000" stop-color="#ff00e1"/></linearGradient>
<linearGradient id="w50" gradientUnits="userSpaceOnUse" x1="1089.5" y1="777.7" x2="1131.7" y2="893.3"><stop offset="0.000" stop-color="#ffffff"/><stop offset="0.425" stop-color="#ff85ea"/><stop offset="0.537" stop-color="#ff61e7"/><stop offset="0.600" stop-color="#ff47e5"/><stop offset="0.637" stop-color="#ff32e4"/><stop offset="0.662" stop-color="#ff1de4"/><stop offset="0.675" stop-color="#ff08e3"/><stop offset="0.688" stop-color="#ff00e3"/><stop offset="1.000" stop-color="#ff00e3"/></linearGradient>
<linearGradient id="w51" gradientUnits="userSpaceOnUse" x1="1089.5" y1="777.7" x2="1128.9" y2="894.1"><stop offset="0.000" stop-color="#ffffff"/><stop offset="0.412" stop-color="#ff8aec"/><stop offset="0.537" stop-color="#ff62e9"/><stop offset="0.600" stop-color="#ff48e7"/><stop offset="0.637" stop-color="#ff33e6"/><stop offset="0.662" stop-color="#ff1ee6"/><stop offset="0.675" stop-color="#ff0ae6"/><stop offset="0.688" stop-color="#ff00e5"/><stop offset="1.000" stop-color="#ff00e5"/></linearGradient>
<linearGradient id="w52" gradientUnits="userSpaceOnUse" x1="1089.5" y1="777.7" x2="1126.0" y2="895.0"><stop offset="0.000" stop-color="#ffffff"/><stop offset="0.412" stop-color="#ff8aee"/><stop offset="0.537" stop-color="#ff62eb"/><stop offset="0.600" stop-color="#ff49e9"/><stop offset="0.637" stop-color="#ff34e8"/><stop offset="0.662" stop-color="#ff1fe8"/><stop offset="0.675" stop-color="#ff0ce8"/><stop offset="0.688" stop-color="#ff00e8"/><stop offset="1.000" stop-color="#ff00e8"/></linearGradient>
<linearGradient id="w53" gradientUnits="userSpaceOnUse" x1="1089.5" y1="777.7" x2="1123.2" y2="895.9"><stop offset="0.000" stop-color="#ffffff"/><stop offset="0.412" stop-color="#ff8bf0"/><stop offset="0.537" stop-color="#ff63ed"/><stop offset="0.600" stop-color="#ff49eb"/><stop offset="0.637" stop-color="#ff35eb"/><stop offset="0.662" stop-color="#ff20ea"/><stop offset="0.688" stop-color="#ff00ea"/><stop offset="1.000" stop-color="#ff00ea"/></linearGradient>
<linearGradient id="w54" gradientUnits="userSpaceOnUse" x1="1089.5" y1="777.7" x2="1120.3" y2="896.8"><stop offset="0.000" stop-color="#ffffff"/><stop offset="0.400" stop-color="#ff90f2"/><stop offset="0.537" stop-color="#ff64ef"/><stop offset="0.600" stop-color="#ff4aed"/><stop offset="0.637" stop-color="#ff35ed"/><stop offset="0.662" stop-color="#ff21ec"/><stop offset="0.688" stop-color="#ff00ec"/><stop offset="1.000" stop-color="#ff00ec"/></linearGradient>
<linearGradient id="w55" gradientUnits="userSpaceOnUse" x1="1089.5" y1="777.7" x2="1117.5" y2="897.6"><stop offset="0.000" stop-color="#ffffff"/><stop offset="0.400" stop-color="#ff90f3"/><stop offset="0.537" stop-color="#ff65f1"/><stop offset="0.600" stop-color="#ff4bf0"/><stop offset="0.637" stop-color="#ff36ef"/><stop offset="0.662" stop-color="#ff22ef"/><stop offset="0.688" stop-color="#ff00ee"/><stop offset="1.000" stop-color="#ff00ee"/></linearGradient>
<linearGradient id="w56" gradientUnits="userSpaceOnUse" x1="1089.5" y1="777.7" x2="1114.6" y2="898.5"><stop offset="0.000" stop-color="#ffffff"/><stop offset="0.400" stop-color="#ff91f5"/><stop offset="0.537" stop-color="#ff66f3"/><stop offset="0.600" stop-color="#ff4cf2"/><stop offset="0.637" stop-color="#ff37f1"/><stop offset="0.662" stop-color="#ff23f1"/><stop offset="0.688" stop-color="#ff00f1"/><stop offset="1.000" stop-color="#ff00f1"/></linearGradient>
<linearGradient id="w57" gradientUnits="userSpaceOnUse" x1="1089.5" y1="777.7" x2="1111.8" y2="899.4"><stop offset="0.000" stop-color="#ffffff"/><stop offset="0.388" stop-color="#ff96f7"/><stop offset="0.537" stop-color="#ff66f5"/><stop offset="0.600" stop-color="#ff4df4"/><stop offset="0.637" stop-color="#ff38f4"/><stop offset="0.662" stop-color="#ff25f3"/><stop offset="0.675" stop-color="#ff15f3"/><stop offset="0.688" stop-color="#ff00f3"/><stop offset="1.000" stop-color="#ff00f3"/></linearGradient>
<linearGradient id="w58" gradientUnits="userSpaceOnUse" x1="1089.5" y1="777.7" x2="1108.9" y2="900.3"><stop offset="0.000" stop-color="#ffffff"/><stop offset="0.388" stop-color="#ff96f9"/><stop offset="0.537" stop-color="#ff67f7"/><stop offset="0.600" stop-color="#ff4ef6"/><stop offset="0.637" stop-color="#ff39f6"/><stop offset="0.662" stop-color="#ff26f6"/><stop offset="0.675" stop-color="#ff17f6"/><stop offset="0.688" stop-color="#ff00f6"/><stop offset="1.000" stop-color="#ff00f6"/></linearGradient>
<linearGradient id="w59" gradientUnits="userSpaceOnUse" x1="1089.5" y1="777.7" x2="1106.0" y2="901.2"><stop offset="0.000" stop-color="#ffffff"/><stop offset="0.388" stop-color="#ff97fa"/><stop offset="0.537" stop-color="#ff68f9"/><stop offset="0.600" stop-color="#ff4ef9"/><stop offset="0.650" stop-color="#ff31f8"/><stop offset="0.675" stop-color="#ff18f8"/><stop offset="0.688" stop-color="#ff00f8"/><stop offset="1.000" stop-color="#ff00f8"/></linearGradient>
<linearGradient id="w60" gradientUnits="userSpaceOnUse" x1="1089.5" y1="777.7" x2="1103.0" y2="902.1"><stop offset="0.000" stop-color="#ffffff"/><stop offset="0.375" stop-color="#ff9cfc"/><stop offset="0.537" stop-color="#ff69fb"/><stop offset="0.600" stop-color="#ff4ffb"/><stop offset="0.650" stop-color="#ff32fb"/><stop offset="0.675" stop-color="#ff1afb"/><stop offset="0.688" stop-color="#ff00fb"/><stop offset="1.000" stop-color="#ff00fb"/></linearGradient>
<linearGradient id="w61" gradientUnits="userSpaceOnUse" x1="1089.5" y1="777.7" x2="1100.1" y2="903.0"><stop offset="0.000" stop-color="#ffffff"/><stop offset="0.375" stop-color="#ff9cfe"/><stop offset="0.537" stop-color="#ff6afe"/><stop offset="0.600" stop-color="#ff50fe"/><stop offset="0.650" stop-color="#ff33fe"/><stop offset="0.675" stop-color="#ff1bfd"/><stop offset="0.688" stop-color="#ff00fd"/><stop offset="1.000" stop-color="#ff00fd"/></linearGradient>
<linearGradient id="w62" gradientUnits="userSpaceOnUse" x1="1089.5" y1="777.7" x2="1097.1" y2="903.9"><stop offset="0.000" stop-color="#ffffff"/><stop offset="0.375" stop-color="#fe9dff"/><stop offset="0.537" stop-color="#fe6aff"/><stop offset="0.600" stop-color="#fe51ff"/><stop offset="0.650" stop-color="#fe34ff"/><stop offset="0.675" stop-color="#fe1dff"/><stop offset="0.688" stop-color="#fe03ff"/><stop offset="0.700" stop-color="#fe00ff"/><stop offset="1.000" stop-color="#fe00ff"/></linearGradient>
<linearGradient id="w63" gradientUnits="userSpaceOnUse" x1="1089.5" y1="777.7" x2="1094.1" y2="904.8"><stop offset="0.000" stop-color="#ffffff"/><stop offset="0.375" stop-color="#fc9dff"/><stop offset="0.537" stop-color="#fc6aff"/><stop offset="0.600" stop-color="#fb51ff"/><stop offset="0.637" stop-color="#fb3dff"/><stop offset="0.662" stop-color="#fb2bff"/><stop offset="0.675" stop-color="#fb1eff"/><stop offset="0.688" stop-color="#fb06ff"/><stop offset="0.700" stop-color="#fb00ff"/><stop offset="1.000" stop-color="#fb00ff"/></linearGradient>
<linearGradient id="w64" gradientUnits="userSpaceOnUse" x1="1089.5" y1="777.7" x2="1091.0" y2="905.8"><stop offset="0.000" stop-color="#ffffff"/><stop offset="0.375" stop-color="#fa9cff"/><stop offset="0.537" stop-color="#f96aff"/><stop offset="0.600" stop-color="#f951ff"/><stop offset="0.637" stop-color="#f93dff"/><stop offset="0.662" stop-color="#f82bff"/><stop offset="0.675" stop-color="#f81fff"/><stop offset="0.688" stop-color="#f808ff"/><stop offset="0.700" stop-color="#f800ff"/><stop offset="1.000" stop-color="#f800ff"/></linearGradient>
<linearGradient id="w65" gradientUnits="userSpaceOnUse" x1="1089.5" y1="777.7" x2="1087.9" y2="906.7"><stop offset="0.000" stop-color="#ffffff"/><stop offset="0.375" stop-color="#f99cff"/><stop offset="0.537" stop-color="#f76aff"/><stop offset="0.600" stop-color="#f651ff"/><stop offset="0.650" stop-color="#f635ff"/><stop offset="0.675" stop-color="#f520ff"/><stop offset="0.688" stop-color="#f50bff"/><stop offset="0.700" stop-color="#f500ff"/><stop offset="1.000" stop-color="#f500ff"/></linearGradient>
<linearGradient id="w66" gradientUnits="userSpaceOnUse" x1="1089.5" y1="777.7" x2="1084.7" y2="907.7"><stop offset="0.000" stop-color="#ffffff"/><stop offset="0.388" stop-color="#f698ff"/><stop offset="0.550" stop-color="#f465ff"/><stop offset="0.613" stop-color="#f34bff"/><stop offset="0.650" stop-color="#f336ff"/><stop offset="0.675" stop-color="#f320ff"/><stop offset="0.688" stop-color="#f20dff"/><stop offset="0.700" stop-color="#f200ff"/><stop offset="1.000" stop-color="#f200ff"/></linearGradient>
<linearGradient id="w67" gradientUnits="userSpaceOnUse" x1="1089.5" y1="777.7" x2="1081.5" y2="908.7"><stop offset="0.000" stop-color="#ffffff"/><stop offset="0.400" stop-color="#f494ff"/><stop offset="0.550" stop-color="#f265ff"/><stop offset="0.613" stop-color="#f14bff"/><stop offset="0.650" stop-color="#f036ff"/><stop offset="0.675" stop-color="#f021ff"/><stop offset="0.700" stop-color="#ef00ff"/><stop offset="1.000" stop-color="#ef00ff"/></linearGradient>
<linearGradient id="w68" gradientUnits="userSpaceOnUse" x1="1089.5" y1="777.7" x2="1078.3" y2="909.7"><stop offset="0.000" stop-color="#ffffff"/><stop offset="0.400" stop-color="#f294ff"/><stop offset="0.550" stop-color="#ef65ff"/><stop offset="0.613" stop-color="#ee4bff"/><stop offset="0.650" stop-color="#ed37ff"/><stop offset="0.675" stop-color="#ed22ff"/><stop offset="0.700" stop-color="#ec00ff"/><stop offset="1.000" stop-color="#ec00ff"/></linearGradient>
<linearGradient id="w69" gradientUnits="userSpaceOnUse" x1="1089.5" y1="777.7" x2="1074.9" y2="910.7"><stop offset="0.000" stop-color="#ffffff"/><stop offset="0.400" stop-color="#f094ff"/><stop offset="0.550" stop-color="#ec65ff"/><stop offset="0.613" stop-color="#eb4cff"/><stop offset="0.650" stop-color="#ea37ff"/><stop offset="0.675" stop-color="#ea23ff"/><stop offset="0.700" stop-color="#e900ff"/><stop offset="1.000" stop-color="#e900ff"/></linearGradient>
<linearGradient id="w70" gradientUnits="userSpaceOnUse" x1="1089.5" y1="777.7" x2="1071.5" y2="911.8"><stop offset="0.000" stop-color="#ffffff"/><stop offset="0.400" stop-color="#ee94ff"/><stop offset="0.550" stop-color="#ea65ff"/><stop offset="0.613" stop-color="#e84cff"/><stop offset="0.650" stop-color="#e737ff"/><stop offset="0.675" stop-color="#e724ff"/><stop offset="0.688" stop-color="#e615ff"/><stop offset="0.700" stop-color="#e600ff"/><stop offset="1.000" stop-color="#e600ff"/></linearGradient>
<linearGradient id="w71" gradientUnits="userSpaceOnUse" x1="1089.5" y1="777.7" x2="1068.1" y2="912.8"><stop offset="0.000" stop-color="#ffffff"/><stop offset="0.400" stop-color="#ec93ff"/><stop offset="0.550" stop-color="#e765ff"/><stop offset="0.613" stop-color="#e54cff"/><stop offset="0.650" stop-color="#e438ff"/><stop offset="0.675" stop-color="#e325ff"/><stop offset="0.688" stop-color="#e316ff"/><stop offset="0.700" stop-color="#e300ff"/><stop offset="1.000" stop-color="#e300ff"/></linearGradient>
<linearGradient id="w72" gradientUnits="userSpaceOnUse" x1="1089.5" y1="777.7" x2="1064.5" y2="913.9"><stop offset="0.000" stop-color="#ffffff"/><stop offset="0.412" stop-color="#e990ff"/><stop offset="0.562" stop-color="#e460ff"/><stop offset="0.625" stop-color="#e246ff"/><stop offset="0.662" stop-color="#e130ff"/><stop offset="0.688" stop-color="#e018ff"/><stop offset="0.700" stop-color="#e000ff"/><stop offset="1.000" stop-color="#e000ff"/></linearGradient>
<linearGradient id="w73" gradientUnits="userSpaceOnUse" x1="1089.5" y1="777.7" x2="1060.8" y2="915.0"><stop offset="0.000" stop-color="#ffffff"/><stop offset="0.425" stop-color="#e68cff"/><stop offset="0.562" stop-color="#e160ff"/><stop offset="0.625" stop-color="#de46ff"/><stop offset="0.662" stop-color="#dd30ff"/><stop offset="0.688" stop-color="#dd19ff"/><stop offset="0.700" stop-color="#dc00ff"/><stop offset="1.000" stop-color="#dc00ff"/></linearGradient>
<linearGradient id="w74" gradientUnits="userSpaceOnUse" x1="1089.5" y1="777.7" x2="1057.1" y2="916.2"><stop offset="0.000" stop-color="#ffffff"/><stop offset="0.425" stop-color="#e38cff"/><stop offset="0.562" stop-color="#de60ff"/><stop offset="0.625" stop-color="#db46ff"/><stop offset="0.662" stop-color="#da31ff"/><stop offset="0.688" stop-color="#d91aff"/><stop offset="0.700" stop-color="#d902ff"/><stop offset="1.000" stop-color="#d900ff"/></linearGradient>
<linearGradient id="w75" gradientUnits="userSpaceOnUse" x1="1089.5" y1="777.7" x2="1053.2" y2="917.4"><stop offset="0.000" stop-color="#ffffff"/><stop offset="0.425" stop-color="#e18bff"/><stop offset="0.562" stop-color="#da60ff"/><stop offset="0.625" stop-color="#d847ff"/><stop offset="0.662" stop-color="#d631ff"/><stop offset="0.688" stop-color="#d51cff"/><stop offset="0.700" stop-color="#d506ff"/><stop offset="0.713" stop-color="#d500ff"/><stop offset="1.000" stop-color="#d500ff"/></linearGradient>
<linearGradient id="w76" gradientUnits="userSpaceOnUse" x1="1089.5" y1="777.7" x2="1049.3" y2="918.6"><stop offset="0.000" stop-color="#ffffff"/><stop offset="0.250" stop-color="#e9baff"/><stop offset="0.450" stop-color="#dd84ff"/><stop offset="0.562" stop-color="#d760ff"/><stop offset="0.625" stop-color="#d447ff"/><stop offset="0.662" stop-color="#d332ff"/><stop offset="0.688" stop-color="#d21dff"/><stop offset="0.700" stop-color="#d109ff"/><stop offset="0.713" stop-color="#d100ff"/><stop offset="1.000" stop-color="#d100ff"/></linearGradient>
<linearGradient id="w77" gradientUnits="userSpaceOnUse" x1="1089.5" y1="777.7" x2="1045.1" y2="919.9"><stop offset="0.000" stop-color="#ffffff"/><stop offset="0.250" stop-color="#e7baff"/><stop offset="0.450" stop-color="#da84ff"/><stop offset="0.562" stop-color="#d460ff"/><stop offset="0.625" stop-color="#d147ff"/><stop offset="0.662" stop-color="#cf32ff"/><stop offset="0.688" stop-color="#ce1eff"/><stop offset="0.700" stop-color="#cd0cff"/><stop offset="0.713" stop-color="#cd00ff"/><stop offset="1.000" stop-color="#cd00ff"/></linearGradient>
<linearGradient id="w78" gradientUnits="userSpaceOnUse" x1="1089.5" y1="777.7" x2="1040.9" y2="921.2"><stop offset="0.000" stop-color="#ffffff"/><stop offset="0.250" stop-color="#e5b9ff"/><stop offset="0.450" stop-color="#d783ff"/><stop offset="0.562" stop-color="#d060ff"/><stop offset="0.625" stop-color="#cd47ff"/><stop offset="0.662" stop-color="#cb33ff"/><stop offset="0.688" stop-color="#ca1fff"/><stop offset="0.713" stop-color="#c900ff"/><stop offset="1.000" stop-color="#c900ff"/></linearGradient>
<linearGradient id="w79" gradientUnits="userSpaceOnUse" x1="1089.5" y1="777.7" x2="1036.5" y2="922.5"><stop offset="0.000" stop-color="#ffffff"/><stop offset="0.250" stop-color="#e3b9ff"/><stop offset="0.450" stop-color="#d483ff"/><stop offset="0.562" stop-color="#cd60ff"/><stop offset="0.625" stop-color="#c947ff"/><stop offset="0.662" stop-color="#c734ff"/><stop offset="0.688" stop-color="#c620ff"/><stop offset="0.713" stop-color="#c500ff"/><stop offset="1.000" stop-color="#c500ff"/></linearGradient>
<linearGradient id="w80" gradientUnits="userSpaceOnUse" x1="1089.5" y1="777.7" x2="1032.0" y2="923.9"><stop offset="0.000" stop-color="#ffffff"/><stop offset="0.250" stop-color="#e1b9ff"/><stop offset="0.463" stop-color="#d07fff"/><stop offset="0.575" stop-color="#c85cff"/><stop offset="0.637" stop-color="#c442ff"/><stop offset="0.675" stop-color="#c22cff"/><stop offset="0.700" stop-color="#c113ff"/><stop offset="0.713" stop-color="#c000ff"/><stop offset="1.000" stop-color="#c000ff"/></linearGradient>
<linearGradient id="w81" gradientUnits="userSpaceOnUse" x1="1089.5" y1="777.7" x2="1027.2" y2="925.4"><stop offset="0.000" stop-color="#ffffff"/><stop offset="0.250" stop-color="#dfb8ff"/><stop offset="0.463" stop-color="#cc7fff"/><stop offset="0.575" stop-color="#c45cff"/><stop offset="0.637" stop-color="#c042ff"/><stop offset="0.675" stop-color="#be2dff"/><stop offset="0.700" stop-color="#bc15ff"/><stop offset="0.713" stop-color="#bc00ff"/><stop offset="1.000" stop-color="#bc00ff"/></linearGradient>
<linearGradient id="w82" gradientUnits="userSpaceOnUse" x1="1089.5" y1="777.7" x2="1022.3" y2="926.9"><stop offset="0.000" stop-color="#ffffff"/><stop offset="0.250" stop-color="#ddb8ff"/><stop offset="0.463" stop-color="#c97fff"/><stop offset="0.575" stop-color="#c05bff"/><stop offset="0.637" stop-color="#bc42ff"/><stop offset="0.675" stop-color="#b92dff"/><stop offset="0.700" stop-color="#b717ff"/><stop offset="0.713" stop-color="#b700ff"/><stop offset="1.000" stop-color="#b700ff"/></linearGradient>
<linearGradient id="w83" gradientUnits="userSpaceOnUse" x1="1089.5" y1="777.7" x2="1017.2" y2="928.5"><stop offset="0.000" stop-color="#ffffff"/><stop offset="0.250" stop-color="#dbb7ff"/><stop offset="0.463" stop-color="#c57eff"/><stop offset="0.575" stop-color="#bc5bff"/><stop offset="0.637" stop-color="#b743ff"/><stop offset="0.675" stop-color="#b42eff"/><stop offset="0.700" stop-color="#b219ff"/><stop offset="0.713" stop-color="#b103ff"/><stop offset="0.725" stop-color="#b100ff"/><stop offset="1.000" stop-color="#b100ff"/></linearGradient>
<linearGradient id="w84" gradientUnits="userSpaceOnUse" x1="1089.5" y1="777.7" x2="1011.8" y2="930.1"><stop offset="0.000" stop-color="#ffffff"/><stop offset="0.250" stop-color="#d8b7ff"/><stop offset="0.463" stop-color="#c17eff"/><stop offset="0.575" stop-color="#b75bff"/><stop offset="0.637" stop-color="#b243ff"/><stop offset="0.675" stop-color="#af2fff"/><stop offset="0.700" stop-color="#ad1bff"/><stop offset="0.713" stop-color="#ac07ff"/><stop offset="0.725" stop-color="#ac00ff"/><stop offset="1.000" stop-color="#ac00ff"/></linearGradient>
<linearGradient id="w85" gradientUnits="userSpaceOnUse" x1="1089.5" y1="777.7" x2="1006.1" y2="931.9"><stop offset="0.000" stop-color="#ffffff"/><stop offset="0.250" stop-color="#d6b7ff"/><stop offset="0.475" stop-color="#bc7aff"/><stop offset="0.588" stop-color="#b157ff"/><stop offset="0.637" stop-color="#ac43ff"/><stop offset="0.675" stop-color="#a930ff"/><stop offset="0.700" stop-color="#a71cff"/><stop offset="0.713" stop-color="#a60bff"/><stop offset="0.725" stop-color="#a600ff"/><stop offset="1.000" stop-color="#a600ff"/></linearGradient>
<linearGradient id="w86" gradientUnits="userSpaceOnUse" x1="1089.5" y1="777.7" x2="1000.2" y2="933.7"><stop offset="0.000" stop-color="#ffffff"/><stop offset="0.250" stop-color="#d3b6ff"/><stop offset="0.475" stop-color="#b77aff"/><stop offset="0.588" stop-color="#ab57ff"/><stop offset="0.675" stop-color="#a330ff"/><stop offset="0.700" stop-color="#a11eff"/><stop offset="0.725" stop-color="#9f00ff"/><stop offset="1.000" stop-color="#9f00ff"/></linearGradient>
<linearGradient id="w87" gradientUnits="userSpaceOnUse" x1="1089.5" y1="777.7" x2="994.0" y2="935.6"><stop offset="0.000" stop-color="#ffffff"/><stop offset="0.250" stop-color="#d0b6ff"/><stop offset="0.475" stop-color="#b27aff"/><stop offset="0.588" stop-color="#a657ff"/><stop offset="0.675" stop-color="#9d31ff"/><stop offset="0.700" stop-color="#9a1fff"/><stop offset="0.725" stop-color="#9800ff"/><stop offset="1.000" stop-color="#9800ff"/></linearGradient>
<linearGradient id="w88" gradientUnits="userSpaceOnUse" x1="1089.5" y1="777.7" x2="987.4" y2="937.6"><stop offset="0.000" stop-color="#ffffff"/><stop offset="0.125" stop-color="#e4d8ff"/><stop offset="0.263" stop-color="#cbb2ff"/><stop offset="0.487" stop-color="#ac76ff"/><stop offset="0.600" stop-color="#9e53ff"/><stop offset="0.650" stop-color="#983fff"/><stop offset="0.688" stop-color="#942aff"/><stop offset="0.713" stop-color="#9214ff"/><stop offset="0.725" stop-color="#9000ff"/><stop offset="1.000" stop-color="#9000ff"/></linearGradient>
<linearGradient id="w89" gradientUnits="userSpaceOnUse" x1="1089.5" y1="777.7" x2="982.1" y2="937.3"><stop offset="0.000" stop-color="#ffffff"/><stop offset="0.125" stop-color="#e2d8ff"/><stop offset="0.263" stop-color="#c9b2ff"/><stop offset="0.500" stop-color="#a574ff"/><stop offset="0.613" stop-color="#9752ff"/><stop offset="0.662" stop-color="#913eff"/><stop offset="0.700" stop-color="#8c2aff"/><stop offset="0.725" stop-color="#8915ff"/><stop offset="0.738" stop-color="#8800ff"/><stop offset="1.000" stop-color="#8800ff"/></linearGradient>
<linearGradient id="w90" gradientUnits="userSpaceOnUse" x1="1089.5" y1="777.7" x2="978.1" y2="934.9"><stop offset="0.000" stop-color="#ffffff"/><stop offset="0.125" stop-color="#e1d9ff"/><stop offset="0.263" stop-color="#c7b4ff"/><stop offset="0.512" stop-color="#9f74ff"/><stop offset="0.625" stop-color="#9054ff"/><stop offset="0.688" stop-color="#883cff"/><stop offset="0.725" stop-color="#8328ff"/><stop offset="0.750" stop-color="#8013ff"/><stop offset="0.762" stop-color="#7e00ff"/><stop offset="1.000" stop-color="#7e00ff"/></linearGradient>
<linearGradient id="w91" gradientUnits="userSpaceOnUse" x1="1089.5" y1="777.7" x2="974.0" y2="932.6"><stop offset="0.000" stop-color="#ffffff"/><stop offset="0.125" stop-color="#e0d9ff"/><stop offset="0.263" stop-color="#c5b5ff"/><stop offset="0.525" stop-color="#9975ff"/><stop offset="0.650" stop-color="#8752ff"/><stop offset="0.713" stop-color="#7e3bff"/><stop offset="0.750" stop-color="#7828ff"/><stop offset="0.775" stop-color="#7514ff"/><stop offset="0.787" stop-color="#7300ff"/><stop offset="1.000" stop-color="#7300ff"/></linearGradient>
<linearGradient id="w92" gradientUnits="userSpaceOnUse" x1="1089.5" y1="777.7" x2="969.9" y2="930.2"><stop offset="0.000" stop-color="#ffffff"/><stop offset="0.125" stop-color="#dfdaff"/><stop offset="0.263" stop-color="#c2b7ff"/><stop offset="0.550" stop-color="#9072ff"/><stop offset="0.675" stop-color="#7c50ff"/><stop offset="0.762" stop-color="#6e2fff"/><stop offset="0.800" stop-color="#6816ff"/><stop offset="0.812" stop-color="#6604ff"/><stop offset="0.825" stop-color="#6600ff"/><stop offset="1.000" stop-color="#6600ff"/></linearGradient>
<linearGradient id="w93" gradientUnits="userSpaceOnUse" x1="1089.5" y1="777.7" x2="965.9" y2="927.7"><stop offset="0.000" stop-color="#ffffff"/><stop offset="0.125" stop-color="#dedbff"/><stop offset="0.263" stop-color="#c0b8ff"/><stop offset="0.575" stop-color="#8771ff"/><stop offset="0.700" stop-color="#7150ff"/><stop offset="0.762" stop-color="#653bff"/><stop offset="0.800" stop-color="#5e2aff"/><stop offset="0.825" stop-color="#5a1aff"/><stop offset="0.850" stop-color="#5600ff"/><stop offset="1.000" stop-color="#5600ff"/></linearGradient>
<linearGradient id="w94" gradientUnits="userSpaceOnUse" x1="1089.5" y1="777.7" x2="962.1" y2="925.0"><stop offset="0.000" stop-color="#ffffff"/><stop offset="0.250" stop-color="#c1bdff"/><stop offset="0.600" stop-color="#7c6fff"/><stop offset="0.738" stop-color="#614cff"/><stop offset="0.800" stop-color="#5338ff"/><stop offset="0.838" stop-color="#4a27ff"/><stop offset="0.863" stop-color="#4417ff"/><stop offset="0.875" stop-color="#4108ff"/><stop offset="0.887" stop-color="#3f00ff"/><stop offset="1.000" stop-color="#3f00ff"/></linearGradient>
<linearGradient id="w95" gradientUnits="userSpaceOnUse" x1="1089.5" y1="777.7" x2="958.3" y2="922.1"><stop offset="0.000" stop-color="#ffffff"/><stop offset="0.225" stop-color="#c4c4ff"/><stop offset="0.637" stop-color="#6d6cff"/><stop offset="0.762" stop-color="#504eff"/><stop offset="0.825" stop-color="#3f3bff"/><stop offset="0.875" stop-color="#2c26ff"/><stop offset="0.900" stop-color="#2017ff"/><stop offset="0.925" stop-color="#1200ff"/><stop offset="1.000" stop-color="#1200ff"/></linearGradient>
<linearGradient id="w96" gradientUnits="userSpaceOnUse" x1="1089.5" y1="777.7" x2="954.9" y2="918.9"><stop offset="0.000" stop-color="#ffffff"/><stop offset="0.237" stop-color="#bfc2ff"/><stop offset="0.588" stop-color="#727bff"/><stop offset="0.725" stop-color="#4f5eff"/><stop offset="0.825" stop-color="#2b46ff"/><stop offset="0.850" stop-color="#1c3fff"/><stop offset="0.863" stop-color="#113bff"/><stop offset="0.875" stop-color="#0037ff"/><stop offset="1.000" stop-color="#0037ff"/></linearGradient>
<linearGradient id="w97" gradientUnits="userSpaceOnUse" x1="1089.5" y1="777.7" x2="951.5" y2="915.6"><stop offset="0.000" stop-color="#ffffff"/><stop offset="0.250" stop-color="#bbc1ff"/><stop offset="0.550" stop-color="#7487ff"/><stop offset="0.675" stop-color="#526fff"/><stop offset="0.738" stop-color="#3d63ff"/><stop offset="0.775" stop-color="#2c5bff"/><stop offset="0.800" stop-color="#1c55ff"/><stop offset="0.825" stop-color="#0050ff"/><stop offset="1.000" stop-color="#0050ff"/></linearGradient>
<linearGradient id="w98" gradientUnits="userSpaceOnUse" x1="1089.5" y1="777.7" x2="948.4" y2="912.1"><stop offset="0.000" stop-color="#ffffff"/><stop offset="0.250" stop-color="#b9c3ff"/><stop offset="0.512" stop-color="#7892ff"/><stop offset="0.637" stop-color="#547bff"/><stop offset="0.700" stop-color="#3d70ff"/><stop offset="0.738" stop-color="#2a69ff"/><stop offset="0.762" stop-color="#1765ff"/><stop offset="0.775" stop-color="#0562ff"/><stop offset="0.787" stop-color="#0062ff"/><stop offset="1.000" stop-color="#0062ff"/></linearGradient>
<linearGradient id="w99" gradientUnits="userSpaceOnUse" x1="1089.5" y1="777.7" x2="945.4" y2="908.4"><stop offset="0.000" stop-color="#ffffff"/><stop offset="0.250" stop-color="#b7c5ff"/><stop offset="0.487" stop-color="#7999ff"/><stop offset="0.600" stop-color="#5787ff"/><stop offset="0.662" stop-color="#3f7cff"/><stop offset="0.700" stop-color="#2b76ff"/><stop offset="0.725" stop-color="#1672ff"/><stop offset="0.738" stop-color="#0170ff"/><stop offset="1.000" stop-color="#0070ff"/></linearGradient>
<linearGradient id="w100" gradientUnits="userSpaceOnUse" x1="1089.5" y1="777.7" x2="942.5" y2="904.7"><stop offset="0.000" stop-color="#ffffff"/><stop offset="0.237" stop-color="#b8c9ff"/><stop offset="0.463" stop-color="#7ba1ff"/><stop offset="0.575" stop-color="#578fff"/><stop offset="0.625" stop-color="#4387ff"/><stop offset="0.662" stop-color="#2f81ff"/><stop offset="0.688" stop-color="#1a7dff"/><stop offset="0.700" stop-color="#077cff"/><stop offset="0.713" stop-color="#007bff"/><stop offset="1.000" stop-color="#007bff"/></linearGradient>
<linearGradient id="w101" gradientUnits="userSpaceOnUse" x1="1089.5" y1="777.7" x2="939.8" y2="900.9"><stop offset="0.000" stop-color="#ffffff"/><stop offset="0.237" stop-color="#b7cbff"/><stop offset="0.438" stop-color="#7ea8ff"/><stop offset="0.550" stop-color="#5897ff"/><stop offset="0.600" stop-color="#4290ff"/><stop offset="0.637" stop-color="#2c8aff"/><stop offset="0.662" stop-color="#1386ff"/><stop offset="0.675" stop-color="#0085ff"/><stop offset="1.000" stop-color="#0085ff"/></linearGradient>
<linearGradient id="w102" gradientUnits="userSpaceOnUse" x1="1089.5" y1="777.7" x2="937.1" y2="897.0"><stop offset="0.000" stop-color="#ffffff"/><stop offset="0.225" stop-color="#b9cfff"/><stop offset="0.412" stop-color="#81afff"/><stop offset="0.512" stop-color="#5fa0ff"/><stop offset="0.562" stop-color="#4999ff"/><stop offset="0.600" stop-color="#3594ff"/><stop offset="0.625" stop-color="#2090ff"/><stop offset="0.650" stop-color="#008eff"/><stop offset="1.000" stop-color="#008eff"/></linearGradient>
<linearGradient id="w103" gradientUnits="userSpaceOnUse" x1="1089.5" y1="777.7" x2="934.6" y2="893.1"><stop offset="0.000" stop-color="#ffffff"/><stop offset="0.212" stop-color="#bbd3ff"/><stop offset="0.400" stop-color="#81b4ff"/><stop offset="0.500" stop-color="#5da6ff"/><stop offset="0.575" stop-color="#369bff"/><stop offset="0.600" stop-color="#2198ff"/><stop offset="0.625" stop-color="#0096ff"/><stop offset="1.000" stop-color="#0096ff"/></linearGradient>
<linearGradient id="w104" gradientUnits="userSpaceOnUse" x1="1089.5" y1="777.7" x2="932.1" y2="889.1"><stop offset="0.000" stop-color="#ffffff"/><stop offset="0.212" stop-color="#b9d4ff"/><stop offset="0.375" stop-color="#85baff"/><stop offset="0.475" stop-color="#60acff"/><stop offset="0.525" stop-color="#49a6ff"/><stop offset="0.562" stop-color="#30a1ff"/><stop offset="0.575" stop-color="#249fff"/><stop offset="0.600" stop-color="#009dff"/><stop offset="1.000" stop-color="#009dff"/></linearGradient>
<linearGradient id="w105" gradientUnits="userSpaceOnUse" x1="1089.5" y1="777.7" x2="929.6" y2="885.1"><stop offset="0.000" stop-color="#ffffff"/><stop offset="0.200" stop-color="#bcd8ff"/><stop offset="0.362" stop-color="#86bfff"/><stop offset="0.463" stop-color="#5fb1ff"/><stop offset="0.500" stop-color="#4dadff"/><stop offset="0.537" stop-color="#35a8ff"/><stop offset="0.562" stop-color="#1ba5ff"/><stop offset="0.575" stop-color="#00a3ff"/><stop offset="1.000" stop-color="#00a3ff"/></linearGradient>
<linearGradient id="w106" gradientUnits="userSpaceOnUse" x1="1089.5" y1="777.7" x2="927.3" y2="881.1"><stop offset="0.000" stop-color="#ffffff"/><stop offset="0.200" stop-color="#bbd9ff"/><stop offset="0.350" stop-color="#87c3ff"/><stop offset="0.438" stop-color="#64b8ff"/><stop offset="0.512" stop-color="#3baeff"/><stop offset="0.537" stop-color="#23acff"/><stop offset="0.550" stop-color="#0eaaff"/><stop offset="0.562" stop-color="#00aaff"/><stop offset="1.000" stop-color="#00aaff"/></linearGradient>
<linearGradient id="w107" gradientUnits="userSpaceOnUse" x1="1089.5" y1="777.7" x2="925.0" y2="877.1"><stop offset="0.000" stop-color="#ffffff"/><stop offset="0.150" stop-color="#cae3ff"/><stop offset="0.312" stop-color="#92cbff"/><stop offset="0.425" stop-color="#64bcff"/><stop offset="0.463" stop-color="#51b8ff"/><stop offset="0.500" stop-color="#38b3ff"/><stop offset="0.525" stop-color="#1db1ff"/><stop offset="0.537" stop-color="#00afff"/><stop offset="1.000" stop-color="#00afff"/></linearGradient>
<linearGradient id="w108" gradientUnits="userSpaceOnUse" x1="1089.5" y1="777.7" x2="922.8" y2="873.0"><stop offset="0.000" stop-color="#ffffff"/><stop offset="0.138" stop-color="#cee6ff"/><stop offset="0.300" stop-color="#94ceff"/><stop offset="0.412" stop-color="#65c0ff"/><stop offset="0.450" stop-color="#51bcff"/><stop offset="0.487" stop-color="#36b8ff"/><stop offset="0.500" stop-color="#29b7ff"/><stop offset="0.525" stop-color="#00b5ff"/><stop offset="1.000" stop-color="#00b5ff"/></linearGradient>
<linearGradient id="w109" gradientUnits="userSpaceOnUse" x1="1089.5" y1="777.7" x2="920.6" y2="868.9"><stop offset="0.000" stop-color="#ffffff"/><stop offset="0.287" stop-color="#96d2ff"/><stop offset="0.400" stop-color="#66c5ff"/><stop offset="0.438" stop-color="#51c1ff"/><stop offset="0.475" stop-color="#34bdff"/><stop offset="0.487" stop-color="#26bbff"/><stop offset="0.500" stop-color="#0fbaff"/><stop offset="0.512" stop-color="#00baff"/><stop offset="1.000" stop-color="#00baff"/></linearGradient>
<linearGradient id="w110" gradientUnits="userSpaceOnUse" x1="1089.5" y1="777.7" x2="918.4" y2="864.8"><stop offset="0.000" stop-color="#ffffff"/><stop offset="0.275" stop-color="#99d6ff"/><stop offset="0.388" stop-color="#67c9ff"/><stop offset="0.450" stop-color="#3fc2ff"/><stop offset="0.475" stop-color="#24c0ff"/><stop offset="0.487" stop-color="#07beff"/><stop offset="0.500" stop-color="#00beff"/><stop offset="1.000" stop-color="#00beff"/></linearGradient>
<linearGradient id="w111" gradientUnits="userSpaceOnUse" x1="1089.5" y1="777.7" x2="916.2" y2="860.7"><stop offset="0.000" stop-color="#ffffff"/><stop offset="0.263" stop-color="#9cd9ff"/><stop offset="0.375" stop-color="#69cdff"/><stop offset="0.425" stop-color="#4ac8ff"/><stop offset="0.450" stop-color="#33c5ff"/><stop offset="0.463" stop-color="#23c4ff"/><stop offset="0.475" stop-color="#03c3ff"/><stop offset="1.000" stop-color="#00c3ff"/></linearGradient>
<linearGradient id="w112" gradientUnits="userSpaceOnUse" x1="1089.5" y1="777.7" x2="914.1" y2="856.6"><stop offset="0.000" stop-color="#ffffff"/><stop offset="0.250" stop-color="#9fddff"/><stop offset="0.362" stop-color="#6bd1ff"/><stop offset="0.412" stop-color="#4bccff"/><stop offset="0.438" stop-color="#34c9ff"/><stop offset="0.450" stop-color="#23c8ff"/><stop offset="0.463" stop-color="#01c7ff"/><stop offset="1.000" stop-color="#00c7ff"/></linearGradient>
<linearGradient id="w113" gradientUnits="userSpaceOnUse" x1="1089.5" y1="777.7" x2="912.0" y2="852.4"><stop offset="0.000" stop-color="#ffffff"/><stop offset="0.237" stop-color="#a2e0ff"/><stop offset="0.350" stop-color="#6dd4ff"/><stop offset="0.400" stop-color="#4dd0ff"/><stop offset="0.425" stop-color="#36cdff"/><stop offset="0.438" stop-color="#25ccff"/><stop offset="0.450" stop-color="#03cbff"/><stop offset="0.463" stop-color="#00cbff"/><stop offset="1.000" stop-color="#00cbff"/></linearGradient>
<linearGradient id="w114" gradientUnits="userSpaceOnUse" x1="1089.5" y1="777.7" x2="910.0" y2="848.2"><stop offset="0.000" stop-color="#ffffff"/><stop offset="0.225" stop-color="#a6e3ff"/><stop offset="0.338" stop-color="#70d8ff"/><stop offset="0.400" stop-color="#45d2ff"/><stop offset="0.425" stop-color="#28d0ff"/><stop offset="0.438" stop-color="#09cfff"/><stop offset="0.450" stop-color="#00cfff"/><stop offset="1.000" stop-color="#00cfff"/></linearGradient>
<linearGradient id="w115" gradientUnits="userSpaceOnUse" x1="1089.5" y1="777.7" x2="908.1" y2="843.9"><stop offset="0.000" stop-color="#ffffff"/><stop offset="0.212" stop-color="#a9e6ff"/><stop offset="0.325" stop-color="#73dbff"/><stop offset="0.375" stop-color="#52d7ff"/><stop offset="0.400" stop-color="#3cd5ff"/><stop offset="0.412" stop-color="#2cd4ff"/><stop offset="0.425" stop-color="#11d3ff"/><stop offset="0.438" stop-color="#00d3ff"/><stop offset="1.000" stop-color="#00d3ff"/></linearGradient>
<linearGradient id="w116" gradientUnits="userSpaceOnUse" x1="1089.5" y1="777.7" x2="906.2" y2="839.7"><stop offset="0.000" stop-color="#ffffff"/><stop offset="0.212" stop-color="#a8e7ff"/><stop offset="0.325" stop-color="#6fdeff"/><stop offset="0.362" stop-color="#56dbff"/><stop offset="0.388" stop-color="#40d9ff"/><stop offset="0.400" stop-color="#30d8ff"/><stop offset="0.425" stop-color="#00d7ff"/><stop offset="1.000" stop-color="#00d6ff"/></linearGradient>
<linearGradient id="w117" gradientUnits="userSpaceOnUse" x1="1089.5" y1="777.7" x2="904.4" y2="835.3"><stop offset="0.000" stop-color="#ffffff"/><stop offset="0.200" stop-color="#aceaff"/><stop offset="0.312" stop-color="#73e1ff"/><stop offset="0.350" stop-color="#5adeff"/><stop offset="0.375" stop-color="#44dcff"/><stop offset="0.388" stop-color="#36dcff"/><stop offset="0.400" stop-color="#21dbff"/><stop offset="0.412" stop-color="#00daff"/><stop offset="1.000" stop-color="#00daff"/></linearGradient>
<linearGradient id="w118" gradientUnits="userSpaceOnUse" x1="1089.5" y1="777.7" x2="902.7" y2="831.0"><stop offset="0.000" stop-color="#ffffff"/><stop offset="0.200" stop-color="#abecff"/><stop offset="0.312" stop-color="#6fe3ff"/><stop offset="0.350" stop-color="#54e1ff"/><stop offset="0.375" stop-color="#3bdfff"/><stop offset="0.388" stop-color="#29deff"/><stop offset="0.400" stop-color="#02ddff"/><stop offset="1.000" stop-color="#00ddff"/></linearGradient>
<linearGradient id="w119" gradientUnits="userSpaceOnUse" x1="1089.5" y1="777.7" x2="900.9" y2="826.6"><stop offset="0.000" stop-color="#ffffff"/><stop offset="0.188" stop-color="#afeeff"/><stop offset="0.300" stop-color="#74e6ff"/><stop offset="0.338" stop-color="#59e4ff"/><stop offset="0.362" stop-color="#41e2ff"/><stop offset="0.375" stop-color="#30e2ff"/><stop offset="0.388" stop-color="#15e1ff"/><stop offset="0.400" stop-color="#00e1ff"/><stop offset="1.000" stop-color="#00e1ff"/></linearGradient>
<linearGradient id="w120" gradientUnits="userSpaceOnUse" x1="1089.5" y1="777.7" x2="899.2" y2="822.1"><stop offset="0.000" stop-color="#ffffff"/><stop offset="0.188" stop-color="#aef0ff"/><stop offset="0.250" stop-color="#8eecff"/><stop offset="0.300" stop-color="#70e9ff"/><stop offset="0.338" stop-color="#53e6ff"/><stop offset="0.362" stop-color="#38e5ff"/><stop offset="0.375" stop-color="#22e4ff"/><stop offset="0.388" stop-color="#00e4ff"/><stop offset="1.000" stop-color="#00e4ff"/></linearGradient>
<linearGradient id="w121" gradientUnits="userSpaceOnUse" x1="1089.5" y1="777.7" x2="897.5" y2="817.7"><stop offset="0.000" stop-color="#ffffff"/><stop offset="0.188" stop-color="#adf1ff"/><stop offset="0.287" stop-color="#75ecff"/><stop offset="0.325" stop-color="#59eaff"/><stop offset="0.350" stop-color="#3fe8ff"/><stop offset="0.362" stop-color="#2ce8ff"/><stop offset="0.375" stop-color="#05e7ff"/><stop offset="0.388" stop-color="#00e7ff"/><stop offset="1.000" stop-color="#00e7ff"/></linearGradient>
<linearGradient id="w122" gradientUnits="userSpaceOnUse" x1="1089.5" y1="777.7" x2="895.9" y2="813.1"><stop offset="0.000" stop-color="#ffffff"/><stop offset="0.188" stop-color="#abf3ff"/><stop offset="0.287" stop-color="#72eeff"/><stop offset="0.312" stop-color="#5fedff"/><stop offset="0.338" stop-color="#46ebff"/><stop offset="0.350" stop-color="#35ebff"/><stop offset="0.375" stop-color="#00eaff"/><stop offset="1.000" stop-color="#00eaff"/></linearGradient>
<linearGradient id="w123" gradientUnits="userSpaceOnUse" x1="1089.5" y1="777.7" x2="894.2" y2="808.6"><stop offset="0.000" stop-color="#ffffff"/><stop offset="0.175" stop-color="#b0f5ff"/><stop offset="0.275" stop-color="#77f1ff"/><stop offset="0.312" stop-color="#5aefff"/><stop offset="0.338" stop-color="#3eeeff"/><stop offset="0.350" stop-color="#29edff"/><stop offset="0.362" stop-color="#00edff"/><stop offset="1.000" stop-color="#00edff"/></linearGradient>
<linearGradient id="w124" gradientUnits="userSpaceOnUse" x1="1089.5" y1="777.7" x2="892.6" y2="804.0"><stop offset="0.000" stop-color="#ffffff"/><stop offset="0.175" stop-color="#aff7ff"/><stop offset="0.225" stop-color="#94f5ff"/><stop offset="0.275" stop-color="#74f3ff"/><stop offset="0.300" stop-color="#60f2ff"/><stop offset="0.325" stop-color="#47f1ff"/><stop offset="0.338" stop-color="#35f1ff"/><stop offset="0.350" stop-color="#18f0ff"/><stop offset="0.362" stop-color="#00f0ff"/><stop offset="1.000" stop-color="#00f0ff"/></linearGradient>
<linearGradient id="w125" gradientUnits="userSpaceOnUse" x1="1089.5" y1="777.7" x2="891.0" y2="799.3"><stop offset="0.000" stop-color="#ffffff"/><stop offset="0.163" stop-color="#b5f9ff"/><stop offset="0.263" stop-color="#7af5ff"/><stop offset="0.300" stop-color="#5cf4ff"/><stop offset="0.325" stop-color="#3ff3ff"/><stop offset="0.338" stop-color="#29f3ff"/><stop offset="0.350" stop-color="#00f3ff"/><stop offset="1.000" stop-color="#00f3ff"/></linearGradient>
<linearGradient id="w126" gradientUnits="userSpaceOnUse" x1="1089.5" y1="777.7" x2="889.5" y2="794.6"><stop offset="0.000" stop-color="#ffffff"/><stop offset="0.163" stop-color="#b4faff"/><stop offset="0.212" stop-color="#98f9ff"/><stop offset="0.263" stop-color="#77f7ff"/><stop offset="0.287" stop-color="#63f7ff"/><stop offset="0.312" stop-color="#48f6ff"/><stop offset="0.325" stop-color="#36f6ff"/><stop offset="0.338" stop-color="#17f6ff"/><stop offset="0.350" stop-color="#00f6ff"/><stop offset="1.000" stop-color="#00f6ff"/></linearGradient>
<linearGradient id="w127" gradientUnits="userSpaceOnUse" x1="1089.5" y1="777.7" x2="888.0" y2="789.8"><stop offset="0.000" stop-color="#ffffff"/><stop offset="0.163" stop-color="#b3fbff"/><stop offset="0.212" stop-color="#96faff"/><stop offset="0.263" stop-color="#74faff"/><stop offset="0.287" stop-color="#5ef9ff"/><stop offset="0.312" stop-color="#41f9ff"/><stop offset="0.325" stop-color="#2af9ff"/><stop offset="0.338" stop-color="#00f8ff"/><stop offset="1.000" stop-color="#00f8ff"/></linearGradient>
<linearGradient id="w128" gradientUnits="userSpaceOnUse" x1="1089.5" y1="777.7" x2="886.5" y2="785.0"><stop offset="0.000" stop-color="#ffffff"/><stop offset="0.150" stop-color="#b8fdff"/><stop offset="0.200" stop-color="#9cfcff"/><stop offset="0.250" stop-color="#7bfcff"/><stop offset="0.275" stop-color="#66fcff"/><stop offset="0.300" stop-color="#4bfbff"/><stop offset="0.312" stop-color="#38fbff"/><stop offset="0.338" stop-color="#00fbff"/><stop offset="1.000" stop-color="#00fbff"/></linearGradient>
<linearGradient id="w129" gradientUnits="userSpaceOnUse" x1="1089.5" y1="777.7" x2="885.0" y2="780.1"><stop offset="0.000" stop-color="#ffffff"/><stop offset="0.150" stop-color="#b7feff"/><stop offset="0.200" stop-color="#9bfeff"/><stop offset="0.250" stop-color="#78feff"/><stop offset="0.275" stop-color="#62feff"/><stop offset="0.300" stop-color="#44feff"/><stop offset="0.312" stop-color="#2efeff"/><stop offset="0.325" stop-color="#00feff"/><stop offset="1.000" stop-color="#00feff"/></linearGradient>
<linearGradient id="w130" gradientUnits="userSpaceOnUse" x1="1089.5" y1="777.7" x2="883.5" y2="775.2"><stop offset="0.000" stop-color="#ffffff"/><stop offset="0.150" stop-color="#b6fffe"/><stop offset="0.237" stop-color="#7efffe"/><stop offset="0.263" stop-color="#69fffe"/><stop offset="0.287" stop-color="#4efffe"/><stop offset="0.300" stop-color="#3cfffe"/><stop offset="0.325" stop-color="#00fffd"/><stop offset="1.000" stop-color="#00fffd"/></linearGradient>
<linearGradient id="w131" gradientUnits="userSpaceOnUse" x1="1089.5" y1="777.7" x2="882.0" y2="770.1"><stop offset="0.000" stop-color="#ffffff"/><stop offset="0.150" stop-color="#b4fffd"/><stop offset="0.237" stop-color="#7afffc"/><stop offset="0.263" stop-color="#64fffb"/><stop offset="0.287" stop-color="#47fffb"/><stop offset="0.300" stop-color="#31fffb"/><stop offset="0.312" stop-color="#00fffb"/><stop offset="1.000" stop-color="#00fffb"/></linearGradient>
<linearGradient id="w132" gradientUnits="userSpaceOnUse" x1="1089.5" y1="777.7" x2="880.5" y2="765.0"><stop offset="0.000" stop-color="#ffffff"/><stop offset="0.150" stop-color="#b2fffb"/><stop offset="0.200" stop-color="#93fffa"/><stop offset="0.237" stop-color="#77fffa"/><stop offset="0.263" stop-color="#5ffff9"/><stop offset="0.287" stop-color="#3ffff9"/><stop offset="0.300" stop-color="#25fff8"/><stop offset="0.312" stop-color="#00fff8"/><stop offset="1.000" stop-color="#00fff8"/></linearGradient>
<linearGradient id="w133" gradientUnits="userSpaceOnUse" x1="1089.5" y1="777.7" x2="879.1" y2="759.8"><stop offset="0.000" stop-color="#ffffff"/><stop offset="0.138" stop-color="#b7fffa"/><stop offset="0.225" stop-color="#7dfff8"/><stop offset="0.250" stop-color="#67fff7"/><stop offset="0.275" stop-color="#4bfff7"/><stop offset="0.287" stop-color="#36fff6"/><stop offset="0.300" stop-color="#10fff6"/><stop offset="0.312" stop-color="#00fff6"/><stop offset="1.000" stop-color="#00fff6"/></linearGradient>
<linearGradient id="w134" gradientUnits="userSpaceOnUse" x1="1089.5" y1="777.7" x2="877.7" y2="754.5"><stop offset="0.000" stop-color="#ffffff"/><stop offset="0.138" stop-color="#b5fff9"/><stop offset="0.188" stop-color="#96fff7"/><stop offset="0.225" stop-color="#7afff6"/><stop offset="0.250" stop-color="#63fff5"/><stop offset="0.275" stop-color="#43fff4"/><stop offset="0.287" stop-color="#2bfff4"/><stop offset="0.300" stop-color="#00fff4"/><stop offset="1.000" stop-color="#00fff4"/></linearGradient>
<linearGradient id="w135" gradientUnits="userSpaceOnUse" x1="1089.5" y1="777.7" x2="876.2" y2="749.2"><stop offset="0.000" stop-color="#ffffff"/><stop offset="0.138" stop-color="#b4fff8"/><stop offset="0.188" stop-color="#93fff5"/><stop offset="0.225" stop-color="#76fff4"/><stop offset="0.250" stop-color="#5efff3"/><stop offset="0.275" stop-color="#3cfff2"/><stop offset="0.300" stop-color="#00fff1"/><stop offset="1.000" stop-color="#00fff1"/></linearGradient>
<linearGradient id="w136" gradientUnits="userSpaceOnUse" x1="1089.5" y1="777.7" x2="874.9" y2="743.7"><stop offset="0.000" stop-color="#ffffff"/><stop offset="0.138" stop-color="#b2fff6"/><stop offset="0.188" stop-color="#91fff4"/><stop offset="0.225" stop-color="#72fff2"/><stop offset="0.250" stop-color="#59fff1"/><stop offset="0.263" stop-color="#48fff0"/><stop offset="0.275" stop-color="#33ffef"/><stop offset="0.287" stop-color="#01ffef"/><stop offset="1.000" stop-color="#00ffef"/></linearGradient>
<linearGradient id="w137" gradientUnits="userSpaceOnUse" x1="1089.5" y1="777.7" x2="873.5" y2="738.1"><stop offset="0.000" stop-color="#ffffff"/><stop offset="0.138" stop-color="#b0fff5"/><stop offset="0.212" stop-color="#7afff0"/><stop offset="0.237" stop-color="#62ffef"/><stop offset="0.263" stop-color="#42ffee"/><stop offset="0.275" stop-color="#28ffed"/><stop offset="0.287" stop-color="#00ffed"/><stop offset="1.000" stop-color="#00ffed"/></linearGradient>
<linearGradient id="w138" gradientUnits="userSpaceOnUse" x1="1089.5" y1="777.7" x2="872.2" y2="732.4"><stop offset="0.000" stop-color="#ffffff"/><stop offset="0.138" stop-color="#aefff3"/><stop offset="0.212" stop-color="#77ffee"/><stop offset="0.250" stop-color="#4effec"/><stop offset="0.263" stop-color="#3affeb"/><stop offset="0.275" stop-color="#18ffeb"/><stop offset="0.287" stop-color="#00ffea"/><stop offset="1.000" stop-color="#00ffea"/></linearGradient>
<linearGradient id="w139" gradientUnits="userSpaceOnUse" x1="1089.5" y1="777.7" x2="870.9" y2="726.6"><stop offset="0.000" stop-color="#ffffff"/><stop offset="0.138" stop-color="#acfff2"/><stop offset="0.212" stop-color="#73ffec"/><stop offset="0.237" stop-color="#59ffeb"/><stop offset="0.250" stop-color="#48ffea"/><stop offset="0.263" stop-color="#31ffe9"/><stop offset="0.275" stop-color="#00ffe8"/><stop offset="1.000" stop-color="#00ffe8"/></linearGradient>
<linearGradient id="w140" gradientUnits="userSpaceOnUse" x1="1089.5" y1="777.7" x2="869.7" y2="720.7"><stop offset="0.000" stop-color="#ffffff"/><stop offset="0.138" stop-color="#abfff1"/><stop offset="0.175" stop-color="#90ffed"/><stop offset="0.212" stop-color="#6fffea"/><stop offset="0.237" stop-color="#54ffe8"/><stop offset="0.250" stop-color="#41ffe8"/><stop offset="0.263" stop-color="#27ffe7"/><stop offset="0.275" stop-color="#00ffe6"/><stop offset="1.000" stop-color="#00ffe6"/></linearGradient>
<linearGradient id="w141" gradientUnits="userSpaceOnUse" x1="1089.5" y1="777.7" x2="868.4" y2="714.6"><stop offset="0.000" stop-color="#ffffff"/><stop offset="0.125" stop-color="#b1fff0"/><stop offset="0.200" stop-color="#78ffe9"/><stop offset="0.237" stop-color="#4fffe6"/><stop offset="0.250" stop-color="#3affe5"/><stop offset="0.263" stop-color="#18ffe4"/><stop offset="0.275" stop-color="#00ffe4"/><stop offset="1.000" stop-color="#00ffe4"/></linearGradient>
<linearGradient id="w142" gradientUnits="userSpaceOnUse" x1="1089.5" y1="777.7" x2="867.2" y2="708.4"><stop offset="0.000" stop-color="#ffffff"/><stop offset="0.125" stop-color="#afffef"/><stop offset="0.200" stop-color="#75ffe7"/><stop offset="0.225" stop-color="#5affe5"/><stop offset="0.237" stop-color="#49ffe4"/><stop offset="0.250" stop-color="#32ffe3"/><stop offset="0.263" stop-color="#00ffe2"/><stop offset="1.000" stop-color="#00ffe2"/></linearGradient>
<linearGradient id="w143" gradientUnits="userSpaceOnUse" x1="1089.5" y1="777.7" x2="866.0" y2="702.1"><stop offset="0.000" stop-color="#ffffff"/><stop offset="0.125" stop-color="#aeffee"/><stop offset="0.200" stop-color="#71ffe5"/><stop offset="0.225" stop-color="#55ffe3"/><stop offset="0.237" stop-color="#43ffe2"/><stop offset="0.250" stop-color="#28ffe1"/><stop offset="0.263" stop-color="#00ffe0"/><stop offset="1.000" stop-color="#00ffe0"/></linearGradient>
<linearGradient id="w144" gradientUnits="userSpaceOnUse" x1="1089.5" y1="777.7" x2="864.8" y2="695.6"><stop offset="0.000" stop-color="#ffffff"/><stop offset="0.125" stop-color="#acffec"/><stop offset="0.188" stop-color="#7affe5"/><stop offset="0.212" stop-color="#60ffe2"/><stop offset="0.237" stop-color="#3cffdf"/><stop offset="0.250" stop-color="#1bffde"/><stop offset="0.263" stop-color="#00ffde"/><stop offset="1.000" stop-color="#00ffde"/></linearGradient>
<linearGradient id="w145" gradientUnits="userSpaceOnUse" x1="1089.5" y1="777.7" x2="863.8" y2="688.9"><stop offset="0.000" stop-color="#ffffff"/><stop offset="0.125" stop-color="#aaffeb"/><stop offset="0.188" stop-color="#77ffe3"/><stop offset="0.212" stop-color="#5cffe0"/><stop offset="0.225" stop-color="#4bffde"/><stop offset="0.237" stop-color="#35ffdd"/><stop offset="0.250" stop-color="#03ffdc"/><stop offset="0.263" stop-color="#00ffdc"/><stop offset="1.000" stop-color="#00ffdc"/></linearGradient>
<linearGradient id="w146" gradientUnits="userSpaceOnUse" x1="1089.5" y1="777.7" x2="862.7" y2="682.1"><stop offset="0.000" stop-color="#ffffff"/><stop offset="0.125" stop-color="#a9ffe9"/><stop offset="0.188" stop-color="#74ffe1"/><stop offset="0.212" stop-color="#58ffde"/><stop offset="0.225" stop-color="#46ffdc"/><stop offset="0.237" stop-color="#2cffdb"/><stop offset="0.250" stop-color="#00ffda"/><stop offset="1.000" stop-color="#00ffda"/></linearGradient>
<linearGradient id="w147" gradientUnits="userSpaceOnUse" x1="1089.5" y1="777.7" x2="861.8" y2="675.2"><stop offset="0.000" stop-color="#ffffff"/><stop offset="0.125" stop-color="#a7ffe8"/><stop offset="0.188" stop-color="#71ffdf"/><stop offset="0.212" stop-color="#53ffdc"/><stop offset="0.225" stop-color="#40ffda"/><stop offset="0.250" stop-color="#00ffd8"/><stop offset="1.000" stop-color="#00ffd8"/></linearGradient>
<linearGradient id="w148" gradientUnits="userSpaceOnUse" x1="1089.5" y1="777.7" x2="860.9" y2="668.1"><stop offset="0.000" stop-color="#ffffff"/><stop offset="0.125" stop-color="#a5ffe6"/><stop offset="0.188" stop-color="#6effdd"/><stop offset="0.212" stop-color="#4fffd9"/><stop offset="0.225" stop-color="#39ffd8"/><stop offset="0.237" stop-color="#13ffd6"/><stop offset="0.250" stop-color="#00ffd6"/><stop offset="1.000" stop-color="#00ffd6"/></linearGradient>
<linearGradient id="w149" gradientUnits="userSpaceOnUse" x1="1089.5" y1="777.7" x2="860.2" y2="660.8"><stop offset="0.000" stop-color="#ffffff"/><stop offset="0.125" stop-color="#a3ffe5"/><stop offset="0.188" stop-color="#6bffdb"/><stop offset="0.212" stop-color="#4affd7"/><stop offset="0.225" stop-color="#32ffd5"/><stop offset="0.237" stop-color="#00ffd4"/><stop offset="1.000" stop-color="#00ffd4"/></linearGradient>
<linearGradient id="w150" gradientUnits="userSpaceOnUse" x1="1089.5" y1="777.7" x2="859.5" y2="653.4"><stop offset="0.000" stop-color="#ffffff"/><stop offset="0.113" stop-color="#abffe6"/><stop offset="0.175" stop-color="#75ffdb"/><stop offset="0.200" stop-color="#58ffd7"/><stop offset="0.212" stop-color="#45ffd5"/><stop offset="0.225" stop-color="#2affd3"/><stop offset="0.237" stop-color="#00ffd2"/><stop offset="1.000" stop-color="#00ffd2"/></linearGradient>
<linearGradient id="w151" gradientUnits="userSpaceOnUse" x1="1089.5" y1="777.7" x2="859.0" y2="645.8"><stop offset="0.000" stop-color="#ffffff"/><stop offset="0.113" stop-color="#aaffe4"/><stop offset="0.175" stop-color="#72ffd9"/><stop offset="0.200" stop-color="#54ffd4"/><stop offset="0.212" stop-color="#40ffd2"/><stop offset="0.237" stop-color="#00ffd0"/><stop offset="1.000" stop-color="#00ffd0"/></linearGradient>
<linearGradient id="w152" gradientUnits="userSpaceOnUse" x1="1089.5" y1="777.7" x2="858.5" y2="638.1"><stop offset="0.000" stop-color="#ffffff"/><stop offset="0.113" stop-color="#a8ffe3"/><stop offset="0.175" stop-color="#6fffd7"/><stop offset="0.200" stop-color="#50ffd2"/><stop offset="0.212" stop-color="#3affd0"/><stop offset="0.225" stop-color="#13ffce"/><stop offset="0.237" stop-color="#00ffce"/><stop offset="1.000" stop-color="#00ffce"/></linearGradient>
<linearGradient id="w153" gradientUnits="userSpaceOnUse" x1="1089.5" y1="777.7" x2="858.3" y2="630.2"><stop offset="0.000" stop-color="#ffffff"/><stop offset="0.113" stop-color="#a7ffe1"/><stop offset="0.175" stop-color="#6dffd5"/><stop offset="0.200" stop-color="#4cffd0"/><stop offset="0.212" stop-color="#34ffce"/><stop offset="0.225" stop-color="#00ffcc"/><stop offset="1.000" stop-color="#00ffcc"/></linearGradient>
<linearGradient id="w154" gradientUnits="userSpaceOnUse" x1="1089.5" y1="777.7" x2="858.3" y2="622.2"><stop offset="0.000" stop-color="#ffffff"/><stop offset="0.125" stop-color="#9bffdd"/><stop offset="0.175" stop-color="#6affd2"/><stop offset="0.200" stop-color="#48ffce"/><stop offset="0.212" stop-color="#2effcb"/><stop offset="0.225" stop-color="#00ffca"/><stop offset="1.000" stop-color="#00ffca"/></linearGradient>
<linearGradient id="w155" gradientUnits="userSpaceOnUse" x1="1089.5" y1="777.7" x2="858.5" y2="614.1"><stop offset="0.000" stop-color="#ffffff"/><stop offset="0.125" stop-color="#99ffdb"/><stop offset="0.175" stop-color="#67ffd0"/><stop offset="0.200" stop-color="#44ffcb"/><stop offset="0.212" stop-color="#27ffc9"/><stop offset="0.225" stop-color="#00ffc8"/><stop offset="1.000" stop-color="#00ffc8"/></linearGradient>
<linearGradient id="w156" gradientUnits="userSpaceOnUse" x1="1089.5" y1="777.7" x2="859.0" y2="606.0"><stop offset="0.000" stop-color="#ffffff"/><stop offset="0.113" stop-color="#a3ffdd"/><stop offset="0.163" stop-color="#73ffd1"/><stop offset="0.188" stop-color="#55ffcc"/><stop offset="0.200" stop-color="#40ffc9"/><stop offset="0.225" stop-color="#00ffc6"/><stop offset="1.000" stop-color="#00ffc6"/></linearGradient>
<linearGradient id="w157" gradientUnits="userSpaceOnUse" x1="1089.5" y1="777.7" x2="859.9" y2="597.8"><stop offset="0.000" stop-color="#ffffff"/><stop offset="0.113" stop-color="#a1ffdb"/><stop offset="0.163" stop-color="#71ffcf"/><stop offset="0.188" stop-color="#52ffc9"/><stop offset="0.200" stop-color="#3cffc7"/><stop offset="0.212" stop-color="#18ffc4"/><stop offset="0.225" stop-color="#00ffc4"/><stop offset="1.000" stop-color="#00ffc4"/></linearGradient>
<linearGradient id="w158" gradientUnits="userSpaceOnUse" x1="1089.5" y1="777.7" x2="861.0" y2="589.6"><stop offset="0.000" stop-color="#ffffff"/><stop offset="0.113" stop-color="#a0ffda"/><stop offset="0.163" stop-color="#70ffcd"/><stop offset="0.188" stop-color="#4fffc7"/><stop offset="0.200" stop-color="#39ffc5"/><stop offset="0.212" stop-color="#0fffc2"/><stop offset="0.225" stop-color="#00ffc2"/><stop offset="1.000" stop-color="#00ffc2"/></linearGradient>
<linearGradient id="w159" gradientUnits="userSpaceOnUse" x1="1089.5" y1="777.7" x2="862.5" y2="581.5"><stop offset="0.000" stop-color="#ffffff"/><stop offset="0.113" stop-color="#9fffd8"/><stop offset="0.163" stop-color="#6effcb"/><stop offset="0.188" stop-color="#4dffc5"/><stop offset="0.200" stop-color="#36ffc2"/><stop offset="0.212" stop-color="#03ffbf"/><stop offset="0.225" stop-color="#00ffbf"/><stop offset="1.000" stop-color="#00ffbf"/></linearGradient>
<linearGradient id="w160" gradientUnits="userSpaceOnUse" x1="1089.5" y1="777.7" x2="864.5" y2="573.5"><stop offset="0.000" stop-color="#ffffff"/><stop offset="0.113" stop-color="#9effd7"/><stop offset="0.163" stop-color="#6dffc9"/><stop offset="0.188" stop-color="#4cffc3"/><stop offset="0.200" stop-color="#34ffc0"/><stop offset="0.212" stop-color="#00ffbd"/><stop offset="1.000" stop-color="#00ffbd"/></linearGradient>
<linearGradient id="w161" gradientUnits="userSpaceOnUse" x1="1089.5" y1="777.7" x2="867.1" y2="565.8"><stop offset="0.000" stop-color="#ffffff"/><stop offset="0.113" stop-color="#9effd6"/><stop offset="0.163" stop-color="#6cffc7"/><stop offset="0.188" stop-color="#4bffc1"/><stop offset="0.200" stop-color="#33ffbe"/><stop offset="0.212" stop-color="#00ffbb"/><stop offset="1.000" stop-color="#00ffbb"/></linearGradient>
<linearGradient id="w162" gradientUnits="userSpaceOnUse" x1="1089.5" y1="777.7" x2="870.2" y2="558.4"><stop offset="0.000" stop-color="#ffffff"/><stop offset="0.113" stop-color="#9dffd4"/><stop offset="0.163" stop-color="#6cffc6"/><stop offset="0.188" stop-color="#4bffbf"/><stop offset="0.200" stop-color="#33ffbc"/><stop offset="0.212" stop-color="#00ffb9"/><stop offset="1.000" stop-color="#00ffb9"/></linearGradient>
<linearGradient id="w163" gradientUnits="userSpaceOnUse" x1="1089.5" y1="777.7" x2="874.0" y2="551.6"><stop offset="0.000" stop-color="#ffffff"/><stop offset="0.113" stop-color="#9dffd3"/><stop offset="0.163" stop-color="#6cffc4"/><stop offset="0.188" stop-color="#4bffbd"/><stop offset="0.200" stop-color="#34ffba"/><stop offset="0.212" stop-color="#00ffb7"/><stop offset="1.000" stop-color="#00ffb7"/></linearGradient>
<linearGradient id="w164" gradientUnits="userSpaceOnUse" x1="1089.5" y1="777.7" x2="878.4" y2="545.2"><stop offset="0.000" stop-color="#ffffff"/><stop offset="0.075" stop-color="#beffdf"/><stop offset="0.125" stop-color="#92ffce"/><stop offset="0.163" stop-color="#6dffc2"/><stop offset="0.188" stop-color="#4cffbb"/><stop offset="0.200" stop-color="#36ffb8"/><stop offset="0.212" stop-color="#07ffb5"/><stop offset="0.225" stop-color="#00ffb4"/><stop offset="1.000" stop-color="#00ffb4"/></linearGradient>
<linearGradient id="w165" gradientUnits="userSpaceOnUse" x1="1089.5" y1="777.7" x2="883.5" y2="539.5"><stop offset="0.000" stop-color="#ffffff"/><stop offset="0.075" stop-color="#beffde"/><stop offset="0.163" stop-color="#6effc1"/><stop offset="0.188" stop-color="#4fffba"/><stop offset="0.200" stop-color="#39ffb6"/><stop offset="0.212" stop-color="#14ffb3"/><stop offset="0.225" stop-color="#00ffb2"/><stop offset="1.000" stop-color="#00ffb2"/></linearGradient>
<linearGradient id="w166" gradientUnits="userSpaceOnUse" x1="1089.5" y1="777.7" x2="889.5" y2="534.7"><stop offset="0.000" stop-color="#ffffff"/><stop offset="0.062" stop-color="#c9ffe2"/><stop offset="0.125" stop-color="#94ffcb"/><stop offset="0.175" stop-color="#62ffbc"/><stop offset="0.200" stop-color="#3effb5"/><stop offset="0.225" stop-color="#00ffb0"/><stop offset="1.000" stop-color="#00ffb0"/></linearGradient>
<linearGradient id="w167" gradientUnits="userSpaceOnUse" x1="1089.5" y1="777.7" x2="896.4" y2="531.2"><stop offset="0.000" stop-color="#ffffff"/><stop offset="0.075" stop-color="#bfffdd"/><stop offset="0.138" stop-color="#8affc6"/><stop offset="0.175" stop-color="#65ffbb"/><stop offset="0.200" stop-color="#44ffb3"/><stop offset="0.212" stop-color="#2bffb0"/><stop offset="0.225" stop-color="#00ffad"/><stop offset="1.000" stop-color="#00ffad"/></linearGradient>
<linearGradient id="w168" gradientUnits="userSpaceOnUse" x1="1089.5" y1="777.7" x2="904.1" y2="528.9"><stop offset="0.000" stop-color="#ffffff"/><stop offset="0.075" stop-color="#c0ffdd"/><stop offset="0.138" stop-color="#8dffc6"/><stop offset="0.175" stop-color="#69ffba"/><stop offset="0.200" stop-color="#4bffb2"/><stop offset="0.212" stop-color="#36ffaf"/><stop offset="0.225" stop-color="#10ffab"/><stop offset="0.237" stop-color="#00ffab"/><stop offset="1.000" stop-color="#00ffab"/></linearGradient>
<linearGradient id="w169" gradientUnits="userSpaceOnUse" x1="1089.5" y1="777.7" x2="912.3" y2="527.6"><stop offset="0.000" stop-color="#ffffff"/><stop offset="0.087" stop-color="#b8ffd7"/><stop offset="0.150" stop-color="#85ffc1"/><stop offset="0.188" stop-color="#60ffb5"/><stop offset="0.212" stop-color="#40ffae"/><stop offset="0.225" stop-color="#27ffaa"/><stop offset="0.237" stop-color="#00ffa8"/><stop offset="1.000" stop-color="#00ffa8"/></linearGradient>
<linearGradient id="w170" gradientUnits="userSpaceOnUse" x1="1089.5" y1="777.7" x2="921.3" y2="527.7"><stop offset="0.000" stop-color="#ffffff"/><stop offset="0.087" stop-color="#b9ffd7"/><stop offset="0.150" stop-color="#88ffc1"/><stop offset="0.188" stop-color="#66ffb5"/><stop offset="0.212" stop-color="#4affae"/><stop offset="0.225" stop-color="#36ffaa"/><stop offset="0.237" stop-color="#16ffa6"/><stop offset="0.250" stop-color="#00ffa5"/><stop offset="1.000" stop-color="#00ffa5"/></linearGradient>
<linearGradient id="w171" gradientUnits="userSpaceOnUse" x1="1089.5" y1="777.7" x2="930.9" y2="529.2"><stop offset="0.000" stop-color="#ffffff"/><stop offset="0.087" stop-color="#bbffd7"/><stop offset="0.163" stop-color="#82ffbd"/><stop offset="0.200" stop-color="#61ffb1"/><stop offset="0.225" stop-color="#44ffaa"/><stop offset="0.237" stop-color="#2fffa6"/><stop offset="0.250" stop-color="#03ffa3"/><stop offset="0.263" stop-color="#00ffa3"/><stop offset="1.000" stop-color="#00ffa3"/></linearGradient>
<linearGradient id="w172" gradientUnits="userSpaceOnUse" x1="1089.5" y1="777.7" x2="940.6" y2="531.3"><stop offset="0.000" stop-color="#ffffff"/><stop offset="0.100" stop-color="#b5ffd3"/><stop offset="0.175" stop-color="#7dffb9"/><stop offset="0.212" stop-color="#5cffae"/><stop offset="0.237" stop-color="#3fffa6"/><stop offset="0.250" stop-color="#29ffa3"/><stop offset="0.263" stop-color="#00ffa0"/><stop offset="1.000" stop-color="#00ffa0"/></linearGradient>
<linearGradient id="w173" gradientUnits="userSpaceOnUse" x1="1089.5" y1="777.7" x2="950.0" y2="533.9"><stop offset="0.000" stop-color="#ffffff"/><stop offset="0.100" stop-color="#b7ffd3"/><stop offset="0.175" stop-color="#83ffb9"/><stop offset="0.212" stop-color="#65ffae"/><stop offset="0.250" stop-color="#3cffa3"/><stop offset="0.263" stop-color="#26ffa0"/><stop offset="0.275" stop-color="#00ff9d"/><stop offset="1.000" stop-color="#00ff9d"/></linearGradient>
<linearGradient id="w174" gradientUnits="userSpaceOnUse" x1="1089.5" y1="777.7" x2="959.5" y2="537.1"><stop offset="0.000" stop-color="#ffffff"/><stop offset="0.100" stop-color="#baffd3"/><stop offset="0.175" stop-color="#88ffba"/><stop offset="0.225" stop-color="#62ffab"/><stop offset="0.263" stop-color="#3affa0"/><stop offset="0.275" stop-color="#25ff9d"/><stop offset="0.287" stop-color="#00ff9a"/><stop offset="1.000" stop-color="#00ff9a"/></linearGradient>
<linearGradient id="w175" gradientUnits="userSpaceOnUse" x1="1089.5" y1="777.7" x2="968.6" y2="540.5"><stop offset="0.000" stop-color="#ffffff"/><stop offset="0.100" stop-color="#bcffd4"/><stop offset="0.188" stop-color="#85ffb6"/><stop offset="0.237" stop-color="#60ffa7"/><stop offset="0.275" stop-color="#3aff9d"/><stop offset="0.287" stop-color="#26ff9a"/><stop offset="0.300" stop-color="#00ff97"/><stop offset="1.000" stop-color="#00ff97"/></linearGradient>
<linearGradient id="w176" gradientUnits="userSpaceOnUse" x1="1089.5" y1="777.7" x2="977.4" y2="543.8"><stop offset="0.000" stop-color="#ffffff"/><stop offset="0.113" stop-color="#b7ffd0"/><stop offset="0.200" stop-color="#82ffb3"/><stop offset="0.250" stop-color="#5fffa4"/><stop offset="0.275" stop-color="#49ff9d"/><stop offset="0.300" stop-color="#29ff97"/><stop offset="0.312" stop-color="#03ff93"/><stop offset="0.325" stop-color="#00ff93"/><stop offset="1.000" stop-color="#00ff93"/></linearGradient>
<linearGradient id="w177" gradientUnits="userSpaceOnUse" x1="1089.5" y1="777.7" x2="985.8" y2="547.3"><stop offset="0.000" stop-color="#ffffff"/><stop offset="0.113" stop-color="#baffd0"/><stop offset="0.212" stop-color="#80ffb0"/><stop offset="0.263" stop-color="#5effa1"/><stop offset="0.300" stop-color="#3cff97"/><stop offset="0.312" stop-color="#2cff94"/><stop offset="0.325" stop-color="#11ff91"/><stop offset="0.338" stop-color="#00ff90"/><stop offset="1.000" stop-color="#00ff90"/></linearGradient>
<linearGradient id="w178" gradientUnits="userSpaceOnUse" x1="1089.5" y1="777.7" x2="993.9" y2="550.8"><stop offset="0.000" stop-color="#ffffff"/><stop offset="0.113" stop-color="#bdffd1"/><stop offset="0.212" stop-color="#85ffb0"/><stop offset="0.275" stop-color="#5eff9f"/><stop offset="0.300" stop-color="#4aff98"/><stop offset="0.325" stop-color="#30ff91"/><stop offset="0.338" stop-color="#1bff8e"/><stop offset="0.350" stop-color="#00ff8c"/><stop offset="1.000" stop-color="#00ff8c"/></linearGradient>
<linearGradient id="w179" gradientUnits="userSpaceOnUse" x1="1089.5" y1="777.7" x2="1001.7" y2="554.4"><stop offset="0.000" stop-color="#ffffff"/><stop offset="0.125" stop-color="#b8ffcd"/><stop offset="0.237" stop-color="#7dffaa"/><stop offset="0.300" stop-color="#56ff98"/><stop offset="0.325" stop-color="#42ff92"/><stop offset="0.350" stop-color="#24ff8b"/><stop offset="0.362" stop-color="#01ff88"/><stop offset="1.000" stop-color="#00ff88"/></linearGradient>
<linearGradient id="w180" gradientUnits="userSpaceOnUse" x1="1089.5" y1="777.7" x2="1009.1" y2="557.9"><stop offset="0.000" stop-color="#ffffff"/><stop offset="0.138" stop-color="#b5ffc9"/><stop offset="0.250" stop-color="#7cffa7"/><stop offset="0.312" stop-color="#57ff96"/><stop offset="0.338" stop-color="#45ff8f"/><stop offset="0.362" stop-color="#2bff89"/><stop offset="0.388" stop-color="#00ff84"/><stop offset="1.000" stop-color="#00ff84"/></linearGradient>
<linearGradient id="w181" gradientUnits="userSpaceOnUse" x1="1089.5" y1="777.7" x2="1016.3" y2="561.4"><stop offset="0.000" stop-color="#ffffff"/><stop offset="0.138" stop-color="#b8ffca"/><stop offset="0.263" stop-color="#7cffa4"/><stop offset="0.325" stop-color="#59ff93"/><stop offset="0.375" stop-color="#33ff86"/><stop offset="0.388" stop-color="#23ff83"/><stop offset="0.400" stop-color="#06ff80"/><stop offset="0.412" stop-color="#00ff7f"/><stop offset="1.000" stop-color="#00ff7f"/></linearGradient>
<linearGradient id="w182" gradientUnits="userSpaceOnUse" x1="1089.5" y1="777.7" x2="1023.2" y2="564.9"><stop offset="0.000" stop-color="#ffffff"/><stop offset="0.150" stop-color="#b5ffc6"/><stop offset="0.275" stop-color="#7cffa1"/><stop offset="0.350" stop-color="#54ff8d"/><stop offset="0.375" stop-color="#43ff87"/><stop offset="0.400" stop-color="#2dff80"/><stop offset="0.412" stop-color="#1cff7d"/><stop offset="0.425" stop-color="#00ff7a"/><stop offset="1.000" stop-color="#00ff7a"/></linearGradient>
<linearGradient id="w183" gradientUnits="userSpaceOnUse" x1="1089.5" y1="777.7" x2="1029.7" y2="568.3"><stop offset="0.000" stop-color="#ffffff"/><stop offset="0.150" stop-color="#b8ffc7"/><stop offset="0.287" stop-color="#7cff9f"/><stop offset="0.362" stop-color="#57ff8b"/><stop offset="0.400" stop-color="#40ff81"/><stop offset="0.425" stop-color="#29ff7b"/><stop offset="0.438" stop-color="#18ff77"/><stop offset="0.450" stop-color="#00ff75"/><stop offset="1.000" stop-color="#00ff75"/></linearGradient>
<linearGradient id="w184" gradientUnits="userSpaceOnUse" x1="1089.5" y1="777.7" x2="1036.0" y2="571.7"><stop offset="0.000" stop-color="#ffffff"/><stop offset="0.163" stop-color="#b5ffc4"/><stop offset="0.312" stop-color="#78ff99"/><stop offset="0.388" stop-color="#54ff85"/><stop offset="0.425" stop-color="#3dff7b"/><stop offset="0.450" stop-color="#27ff75"/><stop offset="0.475" stop-color="#00ff6f"/><stop offset="1.000" stop-color="#00ff6f"/></linearGradient>
<linearGradient id="w185" gradientUnits="userSpaceOnUse" x1="1089.5" y1="777.7" x2="1042.1" y2="575.0"><stop offset="0.000" stop-color="#ffffff"/><stop offset="0.163" stop-color="#b8ffc4"/><stop offset="0.338" stop-color="#74ff93"/><stop offset="0.412" stop-color="#52ff7f"/><stop offset="0.450" stop-color="#3cff76"/><stop offset="0.475" stop-color="#27ff6f"/><stop offset="0.487" stop-color="#17ff6c"/><stop offset="0.500" stop-color="#00ff69"/><stop offset="1.000" stop-color="#00ff69"/></linearGradient>
<linearGradient id="w186" gradientUnits="userSpaceOnUse" x1="1089.5" y1="777.7" x2="1047.9" y2="578.2"><stop offset="0.000" stop-color="#ffffff"/><stop offset="0.075" stop-color="#ddffe2"/><stop offset="0.175" stop-color="#b6ffc1"/><stop offset="0.350" stop-color="#76ff91"/><stop offset="0.438" stop-color="#51ff7a"/><stop offset="0.475" stop-color="#3cff70"/><stop offset="0.500" stop-color="#29ff69"/><stop offset="0.512" stop-color="#1bff66"/><stop offset="0.525" stop-color="#02ff62"/><stop offset="1.000" stop-color="#00ff62"/></linearGradient>
<linearGradient id="w187" gradientUnits="userSpaceOnUse" x1="1089.5" y1="777.7" x2="1053.5" y2="581.4"><stop offset="0.000" stop-color="#ffffff"/><stop offset="0.175" stop-color="#b9ffc2"/><stop offset="0.375" stop-color="#73ff8b"/><stop offset="0.463" stop-color="#50ff74"/><stop offset="0.525" stop-color="#2cff63"/><stop offset="0.537" stop-color="#21ff5f"/><stop offset="0.562" stop-color="#00ff5a"/><stop offset="1.000" stop-color="#00ff5a"/></linearGradient>
<linearGradient id="w188" gradientUnits="userSpaceOnUse" x1="1089.5" y1="777.7" x2="1058.9" y2="584.5"><stop offset="0.000" stop-color="#ffffff"/><stop offset="0.175" stop-color="#bcffc2"/><stop offset="0.400" stop-color="#72ff85"/><stop offset="0.487" stop-color="#51ff6e"/><stop offset="0.550" stop-color="#30ff5d"/><stop offset="0.575" stop-color="#1aff55"/><stop offset="0.588" stop-color="#05ff51"/><stop offset="0.600" stop-color="#00ff51"/><stop offset="1.000" stop-color="#00ff51"/></linearGradient>
<linearGradient id="w189" gradientUnits="userSpaceOnUse" x1="1089.5" y1="777.7" x2="1064.0" y2="587.5"><stop offset="0.000" stop-color="#ffffff"/><stop offset="0.087" stop-color="#dcffdf"/><stop offset="0.188" stop-color="#baffbf"/><stop offset="0.425" stop-color="#71ff80"/><stop offset="0.525" stop-color="#4dff65"/><stop offset="0.575" stop-color="#35ff56"/><stop offset="0.600" stop-color="#24ff4e"/><stop offset="0.613" stop-color="#17ff4a"/><stop offset="0.625" stop-color="#01ff45"/><stop offset="1.000" stop-color="#00ff45"/></linearGradient>
<linearGradient id="w190" gradientUnits="userSpaceOnUse" x1="1089.5" y1="777.7" x2="1069.0" y2="590.4"><stop offset="0.000" stop-color="#ffffff"/><stop offset="0.188" stop-color="#bdffc0"/><stop offset="0.450" stop-color="#70ff7a"/><stop offset="0.550" stop-color="#4fff5e"/><stop offset="0.625" stop-color="#2cff46"/><stop offset="0.650" stop-color="#18ff3d"/><stop offset="0.662" stop-color="#05ff37"/><stop offset="0.675" stop-color="#00ff36"/><stop offset="1.000" stop-color="#00ff36"/></linearGradient>
<linearGradient id="w191" gradientUnits="userSpaceOnUse" x1="1089.5" y1="777.7" x2="1073.8" y2="593.3"><stop offset="0.000" stop-color="#ffffff"/><stop offset="0.175" stop-color="#c3ffc4"/><stop offset="0.487" stop-color="#6dff71"/><stop offset="0.588" stop-color="#4eff54"/><stop offset="0.637" stop-color="#3aff43"/><stop offset="0.675" stop-color="#26ff33"/><stop offset="0.688" stop-color="#1cff2c"/><stop offset="0.713" stop-color="#00ff1f"/><stop offset="1.000" stop-color="#00ff1f"/></linearGradient>
<linearGradient id="w192" gradientUnits="userSpaceOnUse" x1="1089.5" y1="777.7" x2="1078.5" y2="596.1"><stop offset="0.000" stop-color="#ffffff"/><stop offset="0.188" stop-color="#c2ffc1"/><stop offset="0.512" stop-color="#6eff6b"/><stop offset="0.613" stop-color="#51ff4c"/><stop offset="0.662" stop-color="#40ff39"/><stop offset="0.700" stop-color="#30ff26"/><stop offset="0.725" stop-color="#22ff11"/><stop offset="0.738" stop-color="#1aff00"/><stop offset="1.000" stop-color="#1aff00"/></linearGradient>
<linearGradient id="w193" gradientUnits="userSpaceOnUse" x1="1089.5" y1="777.7" x2="1083.0" y2="598.8"><stop offset="0.000" stop-color="#ffffff"/><stop offset="0.200" stop-color="#c1ffbe"/><stop offset="0.500" stop-color="#78ff6f"/><stop offset="0.613" stop-color="#5cff4d"/><stop offset="0.662" stop-color="#4eff3a"/><stop offset="0.700" stop-color="#42ff27"/><stop offset="0.725" stop-color="#39ff13"/><stop offset="0.738" stop-color="#35ff00"/><stop offset="1.000" stop-color="#35ff00"/></linearGradient>
<linearGradient id="w194" gradientUnits="userSpaceOnUse" x1="1089.5" y1="777.7" x2="1087.3" y2="601.5"><stop offset="0.000" stop-color="#ffffff"/><stop offset="0.100" stop-color="#dfffdd"/><stop offset="0.225" stop-color="#bdffb8"/><stop offset="0.500" stop-color="#7fff70"/><stop offset="0.613" stop-color="#66ff4e"/><stop offset="0.662" stop-color="#5aff3b"/><stop offset="0.700" stop-color="#50ff28"/><stop offset="0.725" stop-color="#49ff15"/><stop offset="0.738" stop-color="#45ff01"/><stop offset="1.000" stop-color="#45ff00"/></linearGradient>
<linearGradient id="w195" gradientUnits="userSpaceOnUse" x1="1089.5" y1="777.7" x2="1091.6" y2="604.1"><stop offset="0.000" stop-color="#ffffff"/><stop offset="0.100" stop-color="#e0ffdd"/><stop offset="0.225" stop-color="#c0ffb9"/><stop offset="0.500" stop-color="#85ff71"/><stop offset="0.613" stop-color="#6eff4f"/><stop offset="0.662" stop-color="#63ff3c"/><stop offset="0.700" stop-color="#5bff2a"/><stop offset="0.725" stop-color="#55ff17"/><stop offset="0.738" stop-color="#52ff04"/><stop offset="0.750" stop-color="#52ff00"/><stop offset="1.000" stop-color="#52ff00"/></linearGradient>
<linearGradient id="w196" gradientUnits="userSpaceOnUse" x1="1089.5" y1="777.7" x2="1095.7" y2="606.7"><stop offset="0.000" stop-color="#ffffff"/><stop offset="0.113" stop-color="#deffda"/><stop offset="0.237" stop-color="#c0ffb6"/><stop offset="0.500" stop-color="#8bff72"/><stop offset="0.613" stop-color="#76ff50"/><stop offset="0.700" stop-color="#65ff2b"/><stop offset="0.725" stop-color="#60ff18"/><stop offset="0.738" stop-color="#5dff07"/><stop offset="0.750" stop-color="#5dff00"/><stop offset="1.000" stop-color="#5dff00"/></linearGradient>
<linearGradient id="w197" gradientUnits="userSpaceOnUse" x1="1089.5" y1="777.7" x2="1099.7" y2="609.1"><stop offset="0.000" stop-color="#ffffff"/><stop offset="0.113" stop-color="#dfffda"/><stop offset="0.250" stop-color="#c0ffb3"/><stop offset="0.500" stop-color="#90ff72"/><stop offset="0.613" stop-color="#7dff51"/><stop offset="0.700" stop-color="#6eff2c"/><stop offset="0.725" stop-color="#69ff1a"/><stop offset="0.750" stop-color="#66ff00"/><stop offset="1.000" stop-color="#66ff00"/></linearGradient>
<linearGradient id="w198" gradientUnits="userSpaceOnUse" x1="1089.5" y1="777.7" x2="1103.5" y2="611.6"><stop offset="0.000" stop-color="#ffffff"/><stop offset="0.113" stop-color="#e1ffdb"/><stop offset="0.250" stop-color="#c3ffb4"/><stop offset="0.500" stop-color="#96ff73"/><stop offset="0.613" stop-color="#83ff52"/><stop offset="0.700" stop-color="#76ff2d"/><stop offset="0.725" stop-color="#72ff1c"/><stop offset="0.750" stop-color="#6fff00"/><stop offset="1.000" stop-color="#6fff00"/></linearGradient>
<linearGradient id="w199" gradientUnits="userSpaceOnUse" x1="1089.5" y1="777.7" x2="1107.3" y2="613.9"><stop offset="0.000" stop-color="#ffffff"/><stop offset="0.113" stop-color="#e2ffdb"/><stop offset="0.250" stop-color="#c5ffb5"/><stop offset="0.500" stop-color="#9bff74"/><stop offset="0.613" stop-color="#8aff53"/><stop offset="0.700" stop-color="#7dff2e"/><stop offset="0.725" stop-color="#79ff1d"/><stop offset="0.750" stop-color="#76ff00"/><stop offset="1.000" stop-color="#76ff00"/></linearGradient>
<linearGradient id="w200" gradientUnits="userSpaceOnUse" x1="1089.5" y1="777.7" x2="1111.0" y2="616.3"><stop offset="0.000" stop-color="#ffffff"/><stop offset="0.113" stop-color="#e3ffdb"/><stop offset="0.250" stop-color="#c8ffb6"/><stop offset="0.500" stop-color="#9fff75"/><stop offset="0.613" stop-color="#90ff54"/><stop offset="0.675" stop-color="#87ff3c"/><stop offset="0.713" stop-color="#82ff28"/><stop offset="0.738" stop-color="#7fff12"/><stop offset="0.750" stop-color="#7eff00"/><stop offset="1.000" stop-color="#7eff00"/></linearGradient>
<linearGradient id="w201" gradientUnits="userSpaceOnUse" x1="1089.5" y1="777.7" x2="1114.7" y2="618.6"><stop offset="0.000" stop-color="#ffffff"/><stop offset="0.125" stop-color="#e2ffd8"/><stop offset="0.263" stop-color="#c8ffb3"/><stop offset="0.500" stop-color="#a4ff76"/><stop offset="0.613" stop-color="#95ff55"/><stop offset="0.675" stop-color="#8dff3d"/><stop offset="0.713" stop-color="#89ff29"/><stop offset="0.738" stop-color="#86ff15"/><stop offset="0.750" stop-color="#84ff00"/><stop offset="1.000" stop-color="#84ff00"/></linearGradient>
<linearGradient id="w202" gradientUnits="userSpaceOnUse" x1="1089.5" y1="777.7" x2="1118.2" y2="620.8"><stop offset="0.000" stop-color="#ffffff"/><stop offset="0.125" stop-color="#e3ffd9"/><stop offset="0.263" stop-color="#cbffb4"/><stop offset="0.500" stop-color="#a8ff77"/><stop offset="0.613" stop-color="#9bff56"/><stop offset="0.675" stop-color="#93ff3e"/><stop offset="0.713" stop-color="#8fff2b"/><stop offset="0.738" stop-color="#8cff17"/><stop offset="0.750" stop-color="#8bff03"/><stop offset="0.762" stop-color="#8bff00"/><stop offset="1.000" stop-color="#8bff00"/></linearGradient>
<linearGradient id="w203" gradientUnits="userSpaceOnUse" x1="1089.5" y1="777.7" x2="1121.7" y2="623.0"><stop offset="0.000" stop-color="#ffffff"/><stop offset="0.125" stop-color="#e5ffd9"/><stop offset="0.263" stop-color="#cdffb4"/><stop offset="0.500" stop-color="#adff78"/><stop offset="0.613" stop-color="#a0ff56"/><stop offset="0.675" stop-color="#99ff3f"/><stop offset="0.713" stop-color="#95ff2c"/><stop offset="0.738" stop-color="#93ff19"/><stop offset="0.750" stop-color="#91ff06"/><stop offset="0.762" stop-color="#91ff00"/><stop offset="1.000" stop-color="#91ff00"/></linearGradient>
<linearGradient id="w204" gradientUnits="userSpaceOnUse" x1="1089.5" y1="777.7" x2="1125.1" y2="625.2"><stop offset="0.000" stop-color="#ffffff"/><stop offset="0.263" stop-color="#d0ffb5"/><stop offset="0.500" stop-color="#b1ff78"/><stop offset="0.613" stop-color="#a5ff57"/><stop offset="0.675" stop-color="#9eff40"/><stop offset="0.713" stop-color="#9bff2d"/><stop offset="0.738" stop-color="#98ff1a"/><stop offset="0.750" stop-color="#97ff0a"/><stop offset="0.762" stop-color="#97ff00"/><stop offset="1.000" stop-color="#97ff00"/></linearGradient>
<linearGradient id="w205" gradientUnits="userSpaceOnUse" x1="1089.5" y1="777.7" x2="1128.4" y2="627.3"><stop offset="0.000" stop-color="#ffffff"/><stop offset="0.263" stop-color="#d2ffb6"/><stop offset="0.487" stop-color="#b6ff7d"/><stop offset="0.613" stop-color="#aaff58"/><stop offset="0.675" stop-color="#a4ff41"/><stop offset="0.713" stop-color="#a0ff2e"/><stop offset="0.738" stop-color="#9eff1c"/><stop offset="0.762" stop-color="#9dff00"/><stop offset="1.000" stop-color="#9dff00"/></linearGradient>
<linearGradient id="w206" gradientUnits="userSpaceOnUse" x1="1089.5" y1="777.7" x2="1131.7" y2="629.5"><stop offset="0.000" stop-color="#ffffff"/><stop offset="0.263" stop-color="#d4ffb6"/><stop offset="0.487" stop-color="#baff7d"/><stop offset="0.613" stop-color="#aeff59"/><stop offset="0.675" stop-color="#a9ff42"/><stop offset="0.713" stop-color="#a6ff30"/><stop offset="0.738" stop-color="#a4ff1e"/><stop offset="0.762" stop-color="#a2ff00"/><stop offset="1.000" stop-color="#a2ff00"/></linearGradient>
<linearGradient id="w207" gradientUnits="userSpaceOnUse" x1="1089.5" y1="777.7" x2="1135.0" y2="631.5"><stop offset="0.000" stop-color="#ffffff"/><stop offset="0.275" stop-color="#d5ffb4"/><stop offset="0.500" stop-color="#bdff7b"/><stop offset="0.625" stop-color="#b2ff56"/><stop offset="0.688" stop-color="#adff3e"/><stop offset="0.725" stop-color="#aaff29"/><stop offset="0.750" stop-color="#a8ff12"/><stop offset="0.762" stop-color="#a7ff00"/><stop offset="1.000" stop-color="#a7ff00"/></linearGradient>
<linearGradient id="w208" gradientUnits="userSpaceOnUse" x1="1089.5" y1="777.7" x2="1138.2" y2="633.6"><stop offset="0.000" stop-color="#ffffff"/><stop offset="0.275" stop-color="#d8ffb5"/><stop offset="0.500" stop-color="#c1ff7c"/><stop offset="0.625" stop-color="#b6ff57"/><stop offset="0.688" stop-color="#b2ff3f"/><stop offset="0.725" stop-color="#afff2a"/><stop offset="0.750" stop-color="#adff15"/><stop offset="0.762" stop-color="#acff00"/><stop offset="1.000" stop-color="#acff00"/></linearGradient>
<linearGradient id="w209" gradientUnits="userSpaceOnUse" x1="1089.5" y1="777.7" x2="1141.4" y2="635.6"><stop offset="0.000" stop-color="#ffffff"/><stop offset="0.275" stop-color="#daffb5"/><stop offset="0.500" stop-color="#c5ff7d"/><stop offset="0.625" stop-color="#bbff58"/><stop offset="0.688" stop-color="#b7ff40"/><stop offset="0.725" stop-color="#b4ff2c"/><stop offset="0.750" stop-color="#b2ff17"/><stop offset="0.762" stop-color="#b2ff02"/><stop offset="1.000" stop-color="#b2ff00"/></linearGradient>
<linearGradient id="w210" gradientUnits="userSpaceOnUse" x1="1089.5" y1="777.7" x2="1144.5" y2="637.7"><stop offset="0.000" stop-color="#ffffff"/><stop offset="0.275" stop-color="#dcffb6"/><stop offset="0.487" stop-color="#c9ff81"/><stop offset="0.613" stop-color="#c0ff5d"/><stop offset="0.713" stop-color="#baff35"/><stop offset="0.750" stop-color="#b7ff19"/><stop offset="0.762" stop-color="#b7ff05"/><stop offset="0.775" stop-color="#b6ff00"/><stop offset="1.000" stop-color="#b7ff00"/></linearGradient>
<linearGradient id="w211" gradientUnits="userSpaceOnUse" x1="1089.5" y1="777.7" x2="1147.6" y2="639.7"><stop offset="0.000" stop-color="#ffffff"/><stop offset="0.275" stop-color="#dfffb7"/><stop offset="0.487" stop-color="#cdff82"/><stop offset="0.613" stop-color="#c4ff5e"/><stop offset="0.713" stop-color="#beff36"/><stop offset="0.738" stop-color="#bdff26"/><stop offset="0.750" stop-color="#bcff1b"/><stop offset="0.762" stop-color="#bcff09"/><stop offset="0.775" stop-color="#bbff00"/><stop offset="1.000" stop-color="#bbff00"/></linearGradient>
<linearGradient id="w212" gradientUnits="userSpaceOnUse" x1="1089.5" y1="777.7" x2="1150.7" y2="641.7"><stop offset="0.000" stop-color="#ffffff"/><stop offset="0.275" stop-color="#e1ffb7"/><stop offset="0.500" stop-color="#d0ff7f"/><stop offset="0.625" stop-color="#c8ff5b"/><stop offset="0.688" stop-color="#c4ff43"/><stop offset="0.725" stop-color="#c2ff30"/><stop offset="0.750" stop-color="#c1ff1d"/><stop offset="0.775" stop-color="#c0ff00"/><stop offset="1.000" stop-color="#c0ff00"/></linearGradient>
<linearGradient id="w213" gradientUnits="userSpaceOnUse" x1="1089.5" y1="777.7" x2="1153.7" y2="643.7"><stop offset="0.000" stop-color="#ffffff"/><stop offset="0.275" stop-color="#e3ffb8"/><stop offset="0.500" stop-color="#d3ff80"/><stop offset="0.625" stop-color="#ccff5c"/><stop offset="0.688" stop-color="#c9ff44"/><stop offset="0.725" stop-color="#c7ff31"/><stop offset="0.750" stop-color="#c6ff1f"/><stop offset="0.775" stop-color="#c5ff00"/><stop offset="1.000" stop-color="#c5ff00"/></linearGradient>
<linearGradient id="w214" gradientUnits="userSpaceOnUse" x1="1089.5" y1="777.7" x2="1156.7" y2="645.6"><stop offset="0.000" stop-color="#ffffff"/><stop offset="0.275" stop-color="#e5ffb9"/><stop offset="0.500" stop-color="#d7ff81"/><stop offset="0.625" stop-color="#d0ff5d"/><stop offset="0.688" stop-color="#cdff45"/><stop offset="0.725" stop-color="#ccff32"/><stop offset="0.750" stop-color="#cbff21"/><stop offset="0.775" stop-color="#caff00"/><stop offset="1.000" stop-color="#caff00"/></linearGradient>
<linearGradient id="w215" gradientUnits="userSpaceOnUse" x1="1089.5" y1="777.7" x2="1159.7" y2="647.6"><stop offset="0.000" stop-color="#ffffff"/><stop offset="0.275" stop-color="#e8ffb9"/><stop offset="0.500" stop-color="#daff82"/><stop offset="0.625" stop-color="#d5ff5e"/><stop offset="0.688" stop-color="#d2ff46"/><stop offset="0.725" stop-color="#d0ff34"/><stop offset="0.750" stop-color="#cfff22"/><stop offset="0.762" stop-color="#cfff15"/><stop offset="0.775" stop-color="#ceff00"/><stop offset="1.000" stop-color="#ceff00"/></linearGradient>
<linearGradient id="w216" gradientUnits="userSpaceOnUse" x1="1089.5" y1="777.7" x2="1162.7" y2="649.5"><stop offset="0.000" stop-color="#ffffff"/><stop offset="0.212" stop-color="#eeffc9"/><stop offset="0.475" stop-color="#dfff89"/><stop offset="0.625" stop-color="#d9ff5f"/><stop offset="0.688" stop-color="#d6ff47"/><stop offset="0.738" stop-color="#d4ff2d"/><stop offset="0.762" stop-color="#d4ff18"/><stop offset="0.775" stop-color="#d3ff01"/><stop offset="1.000" stop-color="#d3ff00"/></linearGradient>
<linearGradient id="w217" gradientUnits="userSpaceOnUse" x1="1089.5" y1="777.7" x2="1165.7" y2="651.5"><stop offset="0.000" stop-color="#ffffff"/><stop offset="0.463" stop-color="#e3ff8d"/><stop offset="0.613" stop-color="#ddff64"/><stop offset="0.675" stop-color="#dbff4e"/><stop offset="0.725" stop-color="#d9ff36"/><stop offset="0.762" stop-color="#d8ff1a"/><stop offset="0.775" stop-color="#d8ff05"/><stop offset="0.787" stop-color="#d8ff00"/><stop offset="1.000" stop-color="#d8ff00"/></linearGradient>
<linearGradient id="w218" gradientUnits="userSpaceOnUse" x1="1089.5" y1="777.7" x2="1168.7" y2="653.4"><stop offset="0.000" stop-color="#ffffff"/><stop offset="0.463" stop-color="#e7ff8e"/><stop offset="0.625" stop-color="#e1ff61"/><stop offset="0.688" stop-color="#dfff4a"/><stop offset="0.725" stop-color="#deff38"/><stop offset="0.750" stop-color="#ddff27"/><stop offset="0.762" stop-color="#ddff1c"/><stop offset="0.775" stop-color="#ddff09"/><stop offset="0.787" stop-color="#ddff00"/><stop offset="1.000" stop-color="#ddff00"/></linearGradient>
<linearGradient id="w219" gradientUnits="userSpaceOnUse" x1="1089.5" y1="777.7" x2="1171.7" y2="655.4"><stop offset="0.000" stop-color="#ffffff"/><stop offset="0.463" stop-color="#eaff8f"/><stop offset="0.625" stop-color="#e5ff62"/><stop offset="0.688" stop-color="#e3ff4b"/><stop offset="0.738" stop-color="#e2ff32"/><stop offset="0.762" stop-color="#e2ff1e"/><stop offset="0.787" stop-color="#e1ff00"/><stop offset="1.000" stop-color="#e1ff00"/></linearGradient>
<linearGradient id="w220" gradientUnits="userSpaceOnUse" x1="1089.5" y1="777.7" x2="1174.7" y2="657.3"><stop offset="0.000" stop-color="#ffffff"/><stop offset="0.463" stop-color="#edff90"/><stop offset="0.625" stop-color="#e9ff63"/><stop offset="0.688" stop-color="#e8ff4c"/><stop offset="0.738" stop-color="#e7ff33"/><stop offset="0.762" stop-color="#e6ff20"/><stop offset="0.787" stop-color="#e6ff00"/><stop offset="1.000" stop-color="#e6ff00"/></linearGradient>
<linearGradient id="w221" gradientUnits="userSpaceOnUse" x1="1089.5" y1="777.7" x2="1177.7" y2="659.3"><stop offset="0.000" stop-color="#ffffff"/><stop offset="0.450" stop-color="#f1ff94"/><stop offset="0.625" stop-color="#edff64"/><stop offset="0.688" stop-color="#ecff4d"/><stop offset="0.738" stop-color="#ebff34"/><stop offset="0.762" stop-color="#ebff22"/><stop offset="0.775" stop-color="#ebff14"/><stop offset="0.787" stop-color="#ebff00"/><stop offset="1.000" stop-color="#ebff00"/></linearGradient>
<linearGradient id="w222" gradientUnits="userSpaceOnUse" x1="1089.5" y1="777.7" x2="1180.7" y2="661.2"><stop offset="0.000" stop-color="#ffffff"/><stop offset="0.450" stop-color="#f4ff95"/><stop offset="0.625" stop-color="#f2ff65"/><stop offset="0.688" stop-color="#f1ff4e"/><stop offset="0.738" stop-color="#f0ff36"/><stop offset="0.762" stop-color="#f0ff24"/><stop offset="0.775" stop-color="#f0ff16"/><stop offset="0.787" stop-color="#efff00"/><stop offset="1.000" stop-color="#f0ff00"/></linearGradient>
<linearGradient id="w223" gradientUnits="userSpaceOnUse" x1="1089.5" y1="777.7" x2="1183.7" y2="663.2"><stop offset="0.000" stop-color="#ffffff"/><stop offset="0.450" stop-color="#f8ff96"/><stop offset="0.625" stop-color="#f6ff66"/><stop offset="0.688" stop-color="#f5ff4f"/><stop offset="0.738" stop-color="#f5ff37"/><stop offset="0.762" stop-color="#f5ff26"/><stop offset="0.775" stop-color="#f4ff19"/><stop offset="0.787" stop-color="#f4ff01"/><stop offset="1.000" stop-color="#f4ff00"/></linearGradient>
<linearGradient id="w224" gradientUnits="userSpaceOnUse" x1="1089.5" y1="777.7" x2="1186.7" y2="665.2"><stop offset="0.000" stop-color="#ffffff"/><stop offset="0.438" stop-color="#fbff9a"/><stop offset="0.625" stop-color="#faff67"/><stop offset="0.688" stop-color="#faff50"/><stop offset="0.738" stop-color="#faff39"/><stop offset="0.762" stop-color="#f9ff28"/><stop offset="0.775" stop-color="#f9ff1c"/><stop offset="0.787" stop-color="#f9ff06"/><stop offset="0.800" stop-color="#f9ff00"/><stop offset="1.000" stop-color="#f9ff00"/></linearGradient>
<linearGradient id="w225" gradientUnits="userSpaceOnUse" x1="1089.5" y1="777.7" x2="1189.8" y2="667.2"><stop offset="0.000" stop-color="#ffffff"/><stop offset="0.438" stop-color="#ffff9b"/><stop offset="0.625" stop-color="#feff68"/><stop offset="0.688" stop-color="#feff52"/><stop offset="0.738" stop-color="#feff3a"/><stop offset="0.775" stop-color="#feff1e"/><stop offset="0.787" stop-color="#feff0b"/><stop offset="0.800" stop-color="#feff00"/><stop offset="1.000" stop-color="#feff00"/></linearGradient>
<linearGradient id="w226" gradientUnits="userSpaceOnUse" x1="1089.5" y1="777.7" x2="1192.8" y2="669.2"><stop offset="0.000" stop-color="#ffffff"/><stop offset="0.438" stop-color="#fffc9a"/><stop offset="0.625" stop-color="#fffb68"/><stop offset="0.700" stop-color="#fffb4c"/><stop offset="0.750" stop-color="#fffb33"/><stop offset="0.775" stop-color="#fffb20"/><stop offset="0.800" stop-color="#fffb00"/><stop offset="1.000" stop-color="#fffb00"/></linearGradient>
<linearGradient id="w227" gradientUnits="userSpaceOnUse" x1="1089.5" y1="777.7" x2="1195.9" y2="671.2"><stop offset="0.000" stop-color="#ffffff"/><stop offset="0.450" stop-color="#fff996"/><stop offset="0.625" stop-color="#fff767"/><stop offset="0.700" stop-color="#fff64c"/><stop offset="0.750" stop-color="#fff634"/><stop offset="0.775" stop-color="#fff621"/><stop offset="0.800" stop-color="#fff600"/><stop offset="1.000" stop-color="#fff600"/></linearGradient>
<linearGradient id="w228" gradientUnits="userSpaceOnUse" x1="1089.5" y1="777.7" x2="1199.0" y2="673.3"><stop offset="0.000" stop-color="#ffffff"/><stop offset="0.475" stop-color="#fff58f"/><stop offset="0.637" stop-color="#fff362"/><stop offset="0.700" stop-color="#fff24c"/><stop offset="0.750" stop-color="#fff134"/><stop offset="0.775" stop-color="#fff122"/><stop offset="0.787" stop-color="#fff114"/><stop offset="0.800" stop-color="#fff100"/><stop offset="1.000" stop-color="#fff100"/></linearGradient>
<linearGradient id="w229" gradientUnits="userSpaceOnUse" x1="1089.5" y1="777.7" x2="1202.2" y2="675.4"><stop offset="0.000" stop-color="#ffffff"/><stop offset="0.475" stop-color="#fff18e"/><stop offset="0.637" stop-color="#ffee62"/><stop offset="0.700" stop-color="#ffee4c"/><stop offset="0.750" stop-color="#ffed34"/><stop offset="0.775" stop-color="#ffec23"/><stop offset="0.787" stop-color="#ffec17"/><stop offset="0.800" stop-color="#ffec00"/><stop offset="1.000" stop-color="#ffec00"/></linearGradient>
<linearGradient id="w230" gradientUnits="userSpaceOnUse" x1="1089.5" y1="777.7" x2="1205.4" y2="677.5"><stop offset="0.000" stop-color="#ffffff"/><stop offset="0.487" stop-color="#ffee8a"/><stop offset="0.637" stop-color="#ffea61"/><stop offset="0.700" stop-color="#ffe94b"/><stop offset="0.750" stop-color="#ffe835"/><stop offset="0.787" stop-color="#ffe819"/><stop offset="0.800" stop-color="#ffe704"/><stop offset="0.812" stop-color="#ffe700"/><stop offset="1.000" stop-color="#ffe700"/></linearGradient>
<linearGradient id="w231" gradientUnits="userSpaceOnUse" x1="1089.5" y1="777.7" x2="1208.6" y2="679.6"><stop offset="0.000" stop-color="#ffffff"/><stop offset="0.512" stop-color="#ffe983"/><stop offset="0.650" stop-color="#ffe65d"/><stop offset="0.750" stop-color="#ffe435"/><stop offset="0.775" stop-color="#ffe325"/><stop offset="0.787" stop-color="#ffe31b"/><stop offset="0.800" stop-color="#ffe309"/><stop offset="0.812" stop-color="#ffe300"/><stop offset="1.000" stop-color="#ffe300"/></linearGradient>
<linearGradient id="w232" gradientUnits="userSpaceOnUse" x1="1089.5" y1="777.7" x2="1211.9" y2="681.8"><stop offset="0.000" stop-color="#ffffff"/><stop offset="0.287" stop-color="#ffeeb7"/><stop offset="0.525" stop-color="#ffe57f"/><stop offset="0.650" stop-color="#ffe25c"/><stop offset="0.713" stop-color="#ffe046"/><stop offset="0.762" stop-color="#ffdf2e"/><stop offset="0.787" stop-color="#ffde1c"/><stop offset="0.812" stop-color="#ffde00"/><stop offset="1.000" stop-color="#ffde00"/></linearGradient>
<linearGradient id="w233" gradientUnits="userSpaceOnUse" x1="1089.5" y1="777.7" x2="1215.2" y2="683.9"><stop offset="0.000" stop-color="#ffffff"/><stop offset="0.287" stop-color="#ffecb6"/><stop offset="0.525" stop-color="#ffe27e"/><stop offset="0.650" stop-color="#ffde5c"/><stop offset="0.713" stop-color="#ffdc46"/><stop offset="0.762" stop-color="#ffdb2f"/><stop offset="0.787" stop-color="#ffda1e"/><stop offset="0.812" stop-color="#ffd900"/><stop offset="1.000" stop-color="#ffd900"/></linearGradient>
<linearGradient id="w234" gradientUnits="userSpaceOnUse" x1="1089.5" y1="777.7" x2="1218.6" y2="686.2"><stop offset="0.000" stop-color="#ffffff"/><stop offset="0.287" stop-color="#ffeab5"/><stop offset="0.537" stop-color="#ffde7a"/><stop offset="0.662" stop-color="#ffd957"/><stop offset="0.725" stop-color="#ffd741"/><stop offset="0.762" stop-color="#ffd630"/><stop offset="0.787" stop-color="#ffd51f"/><stop offset="0.800" stop-color="#ffd513"/><stop offset="0.812" stop-color="#ffd500"/><stop offset="1.000" stop-color="#ffd500"/></linearGradient>
<linearGradient id="w235" gradientUnits="userSpaceOnUse" x1="1089.5" y1="777.7" x2="1222.1" y2="688.5"><stop offset="0.000" stop-color="#ffffff"/><stop offset="0.287" stop-color="#ffe7b4"/><stop offset="0.537" stop-color="#ffda79"/><stop offset="0.662" stop-color="#ffd557"/><stop offset="0.725" stop-color="#ffd341"/><stop offset="0.775" stop-color="#ffd129"/><stop offset="0.800" stop-color="#ffd115"/><stop offset="0.812" stop-color="#ffd001"/><stop offset="1.000" stop-color="#ffd000"/></linearGradient>
<linearGradient id="w236" gradientUnits="userSpaceOnUse" x1="1089.5" y1="777.7" x2="1225.6" y2="690.8"><stop offset="0.000" stop-color="#ffffff"/><stop offset="0.287" stop-color="#ffe5b3"/><stop offset="0.537" stop-color="#ffd678"/><stop offset="0.662" stop-color="#ffd156"/><stop offset="0.762" stop-color="#ffcd31"/><stop offset="0.787" stop-color="#ffcc22"/><stop offset="0.800" stop-color="#ffcc17"/><stop offset="0.812" stop-color="#ffcc06"/><stop offset="0.825" stop-color="#ffcb00"/><stop offset="1.000" stop-color="#ffcb00"/></linearGradient>
<linearGradient id="w237" gradientUnits="userSpaceOnUse" x1="1089.5" y1="777.7" x2="1229.2" y2="693.2"><stop offset="0.000" stop-color="#ffffff"/><stop offset="0.125" stop-color="#fff0db"/><stop offset="0.287" stop-color="#ffe2b2"/><stop offset="0.550" stop-color="#ffd274"/><stop offset="0.675" stop-color="#ffcc52"/><stop offset="0.738" stop-color="#ffca3c"/><stop offset="0.775" stop-color="#ffc82b"/><stop offset="0.800" stop-color="#ffc719"/><stop offset="0.825" stop-color="#ffc700"/><stop offset="1.000" stop-color="#ffc700"/></linearGradient>
<linearGradient id="w238" gradientUnits="userSpaceOnUse" x1="1089.5" y1="777.7" x2="1232.9" y2="695.6"><stop offset="0.000" stop-color="#ffffff"/><stop offset="0.125" stop-color="#ffefda"/><stop offset="0.287" stop-color="#ffe0b1"/><stop offset="0.550" stop-color="#ffce73"/><stop offset="0.675" stop-color="#ffc852"/><stop offset="0.738" stop-color="#ffc53c"/><stop offset="0.775" stop-color="#ffc42b"/><stop offset="0.800" stop-color="#ffc31b"/><stop offset="0.825" stop-color="#ffc200"/><stop offset="1.000" stop-color="#ffc200"/></linearGradient>
<linearGradient id="w239" gradientUnits="userSpaceOnUse" x1="1089.5" y1="777.7" x2="1236.7" y2="698.1"><stop offset="0.000" stop-color="#ffffff"/><stop offset="0.125" stop-color="#ffeeda"/><stop offset="0.287" stop-color="#ffddb0"/><stop offset="0.562" stop-color="#ffca70"/><stop offset="0.688" stop-color="#ffc34e"/><stop offset="0.750" stop-color="#ffc137"/><stop offset="0.787" stop-color="#ffbf25"/><stop offset="0.812" stop-color="#ffbe11"/><stop offset="0.825" stop-color="#ffbd00"/><stop offset="1.000" stop-color="#ffbd00"/></linearGradient>
<linearGradient id="w240" gradientUnits="userSpaceOnUse" x1="1089.5" y1="777.7" x2="1240.6" y2="700.7"><stop offset="0.000" stop-color="#ffffff"/><stop offset="0.125" stop-color="#ffecd9"/><stop offset="0.287" stop-color="#ffdbaf"/><stop offset="0.562" stop-color="#ffc66f"/><stop offset="0.688" stop-color="#ffbf4d"/><stop offset="0.750" stop-color="#ffbc38"/><stop offset="0.787" stop-color="#ffba26"/><stop offset="0.812" stop-color="#ffb913"/><stop offset="0.825" stop-color="#ffb902"/><stop offset="1.000" stop-color="#ffb900"/></linearGradient>
<linearGradient id="w241" gradientUnits="userSpaceOnUse" x1="1089.5" y1="777.7" x2="1244.5" y2="703.3"><stop offset="0.000" stop-color="#ffffff"/><stop offset="0.125" stop-color="#ffebd8"/><stop offset="0.287" stop-color="#ffd8ae"/><stop offset="0.562" stop-color="#ffc26e"/><stop offset="0.688" stop-color="#ffbb4d"/><stop offset="0.750" stop-color="#ffb838"/><stop offset="0.787" stop-color="#ffb627"/><stop offset="0.812" stop-color="#ffb516"/><stop offset="0.825" stop-color="#ffb406"/><stop offset="0.838" stop-color="#ffb400"/><stop offset="1.000" stop-color="#ffb400"/></linearGradient>
<linearGradient id="w242" gradientUnits="userSpaceOnUse" x1="1089.5" y1="777.7" x2="1248.7" y2="706.0"><stop offset="0.000" stop-color="#ffffff"/><stop offset="0.125" stop-color="#ffe9d7"/><stop offset="0.287" stop-color="#ffd5ad"/><stop offset="0.575" stop-color="#ffbd6a"/><stop offset="0.700" stop-color="#ffb649"/><stop offset="0.787" stop-color="#ffb128"/><stop offset="0.812" stop-color="#ffb018"/><stop offset="0.838" stop-color="#ffaf00"/><stop offset="1.000" stop-color="#ffaf00"/></linearGradient>
<linearGradient id="w243" gradientUnits="userSpaceOnUse" x1="1089.5" y1="777.7" x2="1252.9" y2="708.8"><stop offset="0.000" stop-color="#ffffff"/><stop offset="0.125" stop-color="#ffe8d7"/><stop offset="0.287" stop-color="#ffd3ac"/><stop offset="0.588" stop-color="#ffb967"/><stop offset="0.700" stop-color="#ffb149"/><stop offset="0.787" stop-color="#ffac29"/><stop offset="0.812" stop-color="#ffab1a"/><stop offset="0.838" stop-color="#ffaa00"/><stop offset="1.000" stop-color="#ffaa00"/></linearGradient>
<linearGradient id="w244" gradientUnits="userSpaceOnUse" x1="1089.5" y1="777.7" x2="1257.3" y2="711.7"><stop offset="0.000" stop-color="#ffffff"/><stop offset="0.125" stop-color="#ffe7d6"/><stop offset="0.287" stop-color="#ffd0ab"/><stop offset="0.588" stop-color="#ffb466"/><stop offset="0.713" stop-color="#ffac45"/><stop offset="0.800" stop-color="#ffa723"/><stop offset="0.825" stop-color="#ffa611"/><stop offset="0.838" stop-color="#ffa501"/><stop offset="1.000" stop-color="#ffa500"/></linearGradient>
<linearGradient id="w245" gradientUnits="userSpaceOnUse" x1="1089.5" y1="777.7" x2="1261.8" y2="714.7"><stop offset="0.000" stop-color="#ffffff"/><stop offset="0.125" stop-color="#ffe5d5"/><stop offset="0.287" stop-color="#ffcdaa"/><stop offset="0.475" stop-color="#ffb97f"/><stop offset="0.713" stop-color="#ffa745"/><stop offset="0.800" stop-color="#ffa224"/><stop offset="0.825" stop-color="#ffa114"/><stop offset="0.838" stop-color="#ffa006"/><stop offset="0.850" stop-color="#ffa000"/><stop offset="1.000" stop-color="#ffa000"/></linearGradient>
<linearGradient id="w246" gradientUnits="userSpaceOnUse" x1="1089.5" y1="777.7" x2="1266.5" y2="717.8"><stop offset="0.000" stop-color="#ffffff"/><stop offset="0.125" stop-color="#ffe3d4"/><stop offset="0.287" stop-color="#ffcaa9"/><stop offset="0.487" stop-color="#ffb47b"/><stop offset="0.725" stop-color="#ffa241"/><stop offset="0.800" stop-color="#ff9d25"/><stop offset="0.825" stop-color="#ff9b16"/><stop offset="0.850" stop-color="#ff9a00"/><stop offset="1.000" stop-color="#ff9a00"/></linearGradient>
<linearGradient id="w247" gradientUnits="userSpaceOnUse" x1="1089.5" y1="777.7" x2="1271.4" y2="721.0"><stop offset="0.000" stop-color="#ffffff"/><stop offset="0.125" stop-color="#ffe2d4"/><stop offset="0.287" stop-color="#ffc7a8"/><stop offset="0.487" stop-color="#ffb07a"/><stop offset="0.725" stop-color="#ff9d41"/><stop offset="0.812" stop-color="#ff9720"/><stop offset="0.838" stop-color="#ff950e"/><stop offset="0.850" stop-color="#ff9500"/><stop offset="1.000" stop-color="#ff9500"/></linearGradient>
<linearGradient id="w248" gradientUnits="userSpaceOnUse" x1="1089.5" y1="777.7" x2="1276.4" y2="724.3"><stop offset="0.000" stop-color="#ffffff"/><stop offset="0.125" stop-color="#ffe0d3"/><stop offset="0.287" stop-color="#ffc4a7"/><stop offset="0.487" stop-color="#ffac7a"/><stop offset="0.738" stop-color="#ff973d"/><stop offset="0.812" stop-color="#ff9121"/><stop offset="0.838" stop-color="#ff9011"/><stop offset="0.850" stop-color="#ff8f03"/><stop offset="0.863" stop-color="#ff8f00"/><stop offset="1.000" stop-color="#ff8f00"/></linearGradient>
<linearGradient id="w249" gradientUnits="userSpaceOnUse" x1="1089.5" y1="777.7" x2="1281.7" y2="727.8"><stop offset="0.000" stop-color="#ffffff"/><stop offset="0.125" stop-color="#ffded2"/><stop offset="0.287" stop-color="#ffc1a6"/><stop offset="0.487" stop-color="#ffa879"/><stop offset="0.738" stop-color="#ff913e"/><stop offset="0.812" stop-color="#ff8c22"/><stop offset="0.863" stop-color="#ff8900"/><stop offset="1.000" stop-color="#ff8900"/></linearGradient>
<linearGradient id="w250" gradientUnits="userSpaceOnUse" x1="1089.5" y1="777.7" x2="1287.3" y2="731.4"><stop offset="0.000" stop-color="#ffffff"/><stop offset="0.125" stop-color="#ffddd1"/><stop offset="0.287" stop-color="#ffbea5"/><stop offset="0.500" stop-color="#ffa275"/><stop offset="0.750" stop-color="#ff8b3a"/><stop offset="0.825" stop-color="#ff851e"/><stop offset="0.863" stop-color="#ff8200"/><stop offset="1.000" stop-color="#ff8200"/></linearGradient>
<linearGradient id="w251" gradientUnits="userSpaceOnUse" x1="1089.5" y1="777.7" x2="1293.0" y2="735.3"><stop offset="0.000" stop-color="#ffffff"/><stop offset="0.075" stop-color="#ffe8e1"/><stop offset="0.175" stop-color="#ffd0c1"/><stop offset="0.412" stop-color="#ffa887"/><stop offset="0.637" stop-color="#ff8f56"/><stop offset="0.750" stop-color="#ff853a"/><stop offset="0.825" stop-color="#ff7f1f"/><stop offset="0.850" stop-color="#ff7d10"/><stop offset="0.863" stop-color="#ff7c03"/><stop offset="1.000" stop-color="#ff7c00"/></linearGradient>
<linearGradient id="w252" gradientUnits="userSpaceOnUse" x1="1089.5" y1="777.7" x2="1299.1" y2="739.3"><stop offset="0.000" stop-color="#ffffff"/><stop offset="0.075" stop-color="#ffe6e0"/><stop offset="0.175" stop-color="#ffcdc0"/><stop offset="0.412" stop-color="#ffa486"/><stop offset="0.650" stop-color="#ff8853"/><stop offset="0.762" stop-color="#ff7e37"/><stop offset="0.825" stop-color="#ff7821"/><stop offset="0.850" stop-color="#ff7613"/><stop offset="0.875" stop-color="#ff7500"/><stop offset="1.000" stop-color="#ff7500"/></linearGradient>
<linearGradient id="w253" gradientUnits="userSpaceOnUse" x1="1089.5" y1="777.7" x2="1305.4" y2="743.5"><stop offset="0.000" stop-color="#ffffff"/><stop offset="0.075" stop-color="#ffe5e0"/><stop offset="0.163" stop-color="#ffcdc3"/><stop offset="0.275" stop-color="#ffb6a4"/><stop offset="0.400" stop-color="#ffa287"/><stop offset="0.650" stop-color="#ff8353"/><stop offset="0.762" stop-color="#ff7737"/><stop offset="0.838" stop-color="#ff701d"/><stop offset="0.863" stop-color="#ff6e0d"/><stop offset="0.875" stop-color="#ff6d00"/><stop offset="1.000" stop-color="#ff6d00"/></linearGradient>
<linearGradient id="w254" gradientUnits="userSpaceOnUse" x1="1089.5" y1="777.7" x2="1312.1" y2="747.9"><stop offset="0.000" stop-color="#ffffff"/><stop offset="0.075" stop-color="#ffe3df"/><stop offset="0.163" stop-color="#ffcbc2"/><stop offset="0.275" stop-color="#ffb2a3"/><stop offset="0.400" stop-color="#ff9d86"/><stop offset="0.762" stop-color="#ff7038"/><stop offset="0.838" stop-color="#ff691e"/><stop offset="0.887" stop-color="#ff6400"/><stop offset="1.000" stop-color="#ff6400"/></linearGradient>
<linearGradient id="w255" gradientUnits="userSpaceOnUse" x1="1089.5" y1="777.7" x2="1319.2" y2="752.6"><stop offset="0.000" stop-color="#ffffff"/><stop offset="0.075" stop-color="#ffe2de"/><stop offset="0.163" stop-color="#ffc8c0"/><stop offset="0.263" stop-color="#ffb1a5"/><stop offset="0.388" stop-color="#ff9a88"/><stop offset="0.775" stop-color="#ff6735"/><stop offset="0.850" stop-color="#ff5f1a"/><stop offset="0.887" stop-color="#ff5b00"/><stop offset="1.000" stop-color="#ff5b00"/></linearGradient>
<linearGradient id="w256" gradientUnits="userSpaceOnUse" x1="1089.5" y1="777.7" x2="1326.8" y2="757.5"><stop offset="0.000" stop-color="#ffffff"/><stop offset="0.062" stop-color="#ffe5e2"/><stop offset="0.150" stop-color="#ffc9c3"/><stop offset="0.250" stop-color="#ffb0a7"/><stop offset="0.375" stop-color="#ff9889"/><stop offset="0.550" stop-color="#ff7c66"/><stop offset="0.775" stop-color="#ff5f35"/><stop offset="0.850" stop-color="#ff561c"/><stop offset="0.875" stop-color="#ff530f"/><stop offset="0.887" stop-color="#ff5104"/><stop offset="0.900" stop-color="#ff5000"/><stop offset="1.000" stop-color="#ff5000"/></linearGradient>
<linearGradient id="w257" gradientUnits="userSpaceOnUse" x1="1089.5" y1="777.7" x2="1334.8" y2="762.8"><stop offset="0.000" stop-color="#ffffff"/><stop offset="0.062" stop-color="#ffe4e2"/><stop offset="0.150" stop-color="#ffc6c2"/><stop offset="0.250" stop-color="#ffaca5"/><stop offset="0.362" stop-color="#ff958b"/><stop offset="0.775" stop-color="#ff5535"/><stop offset="0.850" stop-color="#ff4b1e"/><stop offset="0.875" stop-color="#ff4713"/><stop offset="0.900" stop-color="#ff4400"/><stop offset="1.000" stop-color="#ff4400"/></linearGradient>
<linearGradient id="w258" gradientUnits="userSpaceOnUse" x1="1089.5" y1="777.7" x2="1343.4" y2="768.5"><stop offset="0.000" stop-color="#ffffff"/><stop offset="0.062" stop-color="#ffe2e1"/><stop offset="0.150" stop-color="#ffc3c1"/><stop offset="0.350" stop-color="#ff928c"/><stop offset="0.787" stop-color="#ff4833"/><stop offset="0.863" stop-color="#ff3c1b"/><stop offset="0.912" stop-color="#ff3400"/><stop offset="1.000" stop-color="#ff3400"/></linearGradient>
<linearGradient id="w259" gradientUnits="userSpaceOnUse" x1="1089.5" y1="777.7" x2="1352.6" y2="774.5"><stop offset="0.000" stop-color="#ffffff"/><stop offset="0.062" stop-color="#ffe0e0"/><stop offset="0.125" stop-color="#ffc9c8"/><stop offset="0.300" stop-color="#ff9896"/><stop offset="0.787" stop-color="#ff3b33"/><stop offset="0.875" stop-color="#ff2618"/><stop offset="0.912" stop-color="#ff1a01"/><stop offset="1.000" stop-color="#ff1900"/></linearGradient>
<radialGradient id="bhl"><stop offset="0" stop-color="#ffffff"/><stop offset="0.25" stop-color="#ececec"/><stop offset="0.6" stop-color="#a4a4a4"/><stop offset="0.85" stop-color="#505050" stop-opacity="0.8"/><stop offset="1" stop-color="#000" stop-opacity="0"/></radialGradient>
<clipPath id="dclip"><rect x="111.6" y="1065.9" width="598.5" height="444.7"/></clipPath>
</defs>
<rect width="1473" height="1603" fill="#fff"/>
<text x="-0.2" y="36.3" font-size="42" text-anchor="start" font-weight="bold" fill="#000">a</text>
<text x="0.0" y="489.3" font-size="42" text-anchor="start" font-weight="bold" fill="#000">b</text>
<text x="753.1" y="492.3" font-size="42" text-anchor="start" font-weight="bold" fill="#000">c</text>
<text x="3.7" y="1072.4" font-size="42" text-anchor="start" font-weight="bold" fill="#000">d</text>
<text x="757.5" y="1054.2" font-size="42" text-anchor="start" font-weight="bold" fill="#000">e</text>
<rect x="58" y="92" width="446" height="260" fill="#fbfbfb"/>
<rect x="504" y="95" width="311" height="261" fill="#fbfbfb"/>
<rect x="815" y="95" width="315" height="259" fill="#fbfbfb"/>
<rect x="1130" y="92" width="132" height="262" fill="#fbfbfb"/>
<rect x="1293" y="94" width="131" height="258" fill="#fbfbfb"/>
<text x="220.3" y="48.9" font-size="31.2" fill="#000">MnO<tspan font-size="20.5" dy="6.9">2</tspan><tspan dy="-6.9"> deposition process</tspan></text>
<text x="884.5" y="53" font-size="31.2" fill="#000">MnO<tspan font-size="20.5" dy="6.9">2</tspan><tspan dy="-6.9"> dissolution process</tspan></text>
<rect x="87" y="68" width="634" height="5.8" fill="#2e5596"/>
<path d="M733.5,70.9 L715,61.5 L720.5,70.9 L715,80.2 Z" fill="#2e5596"/>
<rect x="744" y="68" width="634" height="5.8" fill="#c00000"/>
<path d="M1390,70.9 L1371.5,61.5 L1377,70.9 L1371.5,80.2 Z" fill="#c00000"/>
<text x="208.6" y="114.7" font-size="31.1" text-anchor="start" fill="#2e5596">Input constant voltage 1.6 V</text>
<text x="872.7" y="113.0" font-size="31.15" text-anchor="start" fill="#c00000">Input constant voltage 0.2 V</text>
<rect x="74.9" y="139.5" width="91.6" height="205.7" rx="3" fill="#5a5a5a" opacity="0.5" filter="url(#shblur)"/>
<rect x="74.4" y="137.0" width="91.6" height="205.7" rx="2.5" fill="url(#emptyg)"/>
<rect x="75.4" y="139.0" width="8" height="202.7" fill="#f9f9f9"/>
<rect x="75.4" y="332.7" width="89.6" height="9" fill="#f8f9f9"/>
<rect x="155.0" y="139.0" width="10" height="202.7" fill="#ccd9db"/>
<rect x="155.0" y="139.0" width="1.2" height="202.7" fill="#b9c6c8"/>
<rect x="75.4" y="137.0" width="89.6" height="2.2" rx="1" fill="#a3a7ab" opacity="0.9"/>
<rect x="75.4" y="139.2" width="89.6" height="3" fill="#c5c8cb" opacity="0.6"/>
<rect x="74.4" y="137.0" width="91.6" height="205.7" rx="2.5" fill="none" stroke="#b0b2b4" stroke-width="0.9"/>
<text x="130.0" y="387.0" font-size="30" text-anchor="middle" fill="#000">0 s</text>
<rect x="232.5" y="137.5" width="87.0" height="208.0" rx="3" fill="#5a5a5a" opacity="0.5" filter="url(#shblur)"/>
<rect x="232.0" y="135.0" width="87.0" height="208.0" rx="2.5" fill="url(#emptyg)"/>
<path d="M232.5,341.8 L232.5,228.0 L236.0,221.5 L245.0,220.5 L305.0,220.5 L313.0,221.5 L318.0,226.0 L318.0,341.8 Z" fill="url(#liq1)" stroke="url(#liq1)" stroke-width="0.6" stroke-linejoin="round"/>
<rect x="315.0" y="137.0" width="2.5" height="205.0" fill="#6f7577" opacity="0.18"/>
<rect x="233.0" y="137.0" width="1.5" height="205.0" fill="#6f7577" opacity="0.15"/>
<rect x="234.0" y="206.5" width="81.0" height="13" fill="url(#sb1)"/>
<rect x="233.0" y="135.0" width="85.0" height="2.2" rx="1" fill="#a3a7ab" opacity="0.9"/>
<rect x="233.0" y="137.2" width="85.0" height="3" fill="#c5c8cb" opacity="0.6"/>
<rect x="232.0" y="135.0" width="87.0" height="208.0" rx="2.5" fill="none" stroke="#b0b2b4" stroke-width="0.9"/>
<text x="278.0" y="387.0" font-size="30" text-anchor="middle" fill="#000">30 s</text>
<rect x="386.5" y="137.9" width="86.0" height="206.3" rx="3" fill="#5a5a5a" opacity="0.5" filter="url(#shblur)"/>
<rect x="386.0" y="135.4" width="86.0" height="206.3" rx="2.5" fill="url(#emptyg)"/>
<path d="M386.5,340.5 L386.5,225.0 L392.0,220.5 L411.0,219.5 L431.0,220.5 L437.0,225.0 L445.0,227.5 L463.0,229.0 L469.0,231.0 L471.5,235.0 L471.5,340.5 Z" fill="url(#liq2)" stroke="url(#liq2)" stroke-width="0.6" stroke-linejoin="round"/>
<rect x="468.0" y="137.4" width="2.5" height="203.3" fill="#6f7577" opacity="0.18"/>
<rect x="387.0" y="137.4" width="1.5" height="203.3" fill="#6f7577" opacity="0.15"/>
<rect x="388.0" y="205.5" width="80.0" height="13" fill="url(#sb2)"/>
<rect x="387.0" y="135.4" width="84.0" height="2.2" rx="1" fill="#a3a7ab" opacity="0.9"/>
<rect x="387.0" y="137.6" width="84.0" height="3" fill="#c5c8cb" opacity="0.6"/>
<rect x="386.0" y="135.4" width="86.0" height="206.3" rx="2.5" fill="none" stroke="#b0b2b4" stroke-width="0.9"/>
<text x="435.0" y="387.0" font-size="30" text-anchor="middle" fill="#000">180 s</text>
<rect x="539.5" y="137.5" width="85.0" height="207.0" rx="3" fill="#5a5a5a" opacity="0.5" filter="url(#shblur)"/>
<rect x="539.0" y="135.0" width="85.0" height="207.0" rx="2.5" fill="url(#emptyg)"/>
<path d="M539.5,340.8 L539.5,231.0 L545.0,224.5 L553.0,222.8 L575.0,222.5 L600.0,223.5 L618.0,225.0 L623.5,228.0 L623.5,340.8 Z" fill="url(#liq3)" stroke="url(#liq3)" stroke-width="0.6" stroke-linejoin="round"/>
<rect x="620.0" y="137.0" width="2.5" height="204.0" fill="#6f7577" opacity="0.18"/>
<rect x="540.0" y="137.0" width="1.5" height="204.0" fill="#6f7577" opacity="0.15"/>
<rect x="540.0" y="135.0" width="83.0" height="2.2" rx="1" fill="#a3a7ab" opacity="0.9"/>
<rect x="540.0" y="137.2" width="83.0" height="3" fill="#c5c8cb" opacity="0.6"/>
<rect x="539.0" y="135.0" width="85.0" height="207.0" rx="2.5" fill="none" stroke="#b0b2b4" stroke-width="0.9"/>
<text x="589.6" y="387.0" font-size="30" text-anchor="middle" fill="#000">300 s</text>
<rect x="692.3" y="137.5" width="88.2" height="206.7" rx="3" fill="#5a5a5a" opacity="0.5" filter="url(#shblur)"/>
<rect x="691.8" y="135.0" width="88.2" height="206.7" rx="2.5" fill="url(#emptyg)"/>
<path d="M697.0,340.5 L697.0,241.0 L700.0,235.0 L712.0,231.0 L735.0,229.5 L760.0,228.2 L779.5,227.7 L779.5,340.5 Z" fill="url(#liq4)" stroke="url(#liq4)" stroke-width="0.6" stroke-linejoin="round"/>
<rect x="776.0" y="137.0" width="2.5" height="203.7" fill="#6f7577" opacity="0.18"/>
<rect x="692.8" y="137.0" width="1.5" height="203.7" fill="#6f7577" opacity="0.15"/>
<rect x="692.8" y="135.0" width="86.2" height="2.2" rx="1" fill="#a3a7ab" opacity="0.9"/>
<rect x="692.8" y="137.2" width="86.2" height="3" fill="#c5c8cb" opacity="0.6"/>
<rect x="691.8" y="135.0" width="88.2" height="206.7" rx="2.5" fill="none" stroke="#b0b2b4" stroke-width="0.9"/>
<text x="737.5" y="387.0" font-size="30" text-anchor="middle" fill="#000">600 s</text>
<rect x="858.2" y="138.5" width="81.3" height="205.7" rx="3" fill="#5a5a5a" opacity="0.5" filter="url(#shblur)"/>
<rect x="857.7" y="136.0" width="81.3" height="205.7" rx="2.5" fill="url(#emptyg)"/>
<path d="M858.2,340.5 L858.2,228.0 L864.0,222.0 L880.0,219.0 L900.0,218.3 L920.0,219.5 L933.0,223.0 L938.5,231.0 L938.5,340.5 Z" fill="url(#liq5)" stroke="url(#liq5)" stroke-width="0.6" stroke-linejoin="round"/>
<rect x="935.0" y="138.0" width="2.5" height="202.7" fill="#6f7577" opacity="0.18"/>
<rect x="858.7" y="138.0" width="1.5" height="202.7" fill="#6f7577" opacity="0.15"/>
<rect x="858.7" y="136.0" width="79.3" height="2.2" rx="1" fill="#a3a7ab" opacity="0.9"/>
<rect x="858.7" y="138.2" width="79.3" height="3" fill="#c5c8cb" opacity="0.6"/>
<rect x="857.7" y="136.0" width="81.3" height="205.7" rx="2.5" fill="none" stroke="#b0b2b4" stroke-width="0.9"/>
<text x="901.3" y="387.0" font-size="30" text-anchor="middle" fill="#000">800 s</text>
<rect x="1007.5" y="140.5" width="84.5" height="205.7" rx="3" fill="#5a5a5a" opacity="0.5" filter="url(#shblur)"/>
<rect x="1007.0" y="138.0" width="84.5" height="205.7" rx="2.5" fill="url(#emptyg)"/>
<path d="M1007.5,342.5 L1007.5,231.0 L1012.0,225.5 L1025.0,222.6 L1075.0,222.6 L1086.0,225.0 L1091.0,231.0 L1091.0,342.5 Z" fill="url(#liq6)" stroke="url(#liq6)" stroke-width="0.6" stroke-linejoin="round"/>
<rect x="1087.5" y="140.0" width="2.5" height="202.7" fill="#6f7577" opacity="0.18"/>
<rect x="1008.0" y="140.0" width="1.5" height="202.7" fill="#6f7577" opacity="0.15"/>
<rect x="1009.0" y="208.6" width="78.5" height="13" fill="url(#sb6)"/>
<rect x="1008.0" y="138.0" width="82.5" height="2.2" rx="1" fill="#a3a7ab" opacity="0.9"/>
<rect x="1008.0" y="140.2" width="82.5" height="3" fill="#c5c8cb" opacity="0.6"/>
<rect x="1007.0" y="138.0" width="84.5" height="205.7" rx="2.5" fill="none" stroke="#b0b2b4" stroke-width="0.9"/>
<text x="1049.9" y="387.0" font-size="30" text-anchor="middle" fill="#000">1000 s</text>
<rect x="1160.3" y="137.5" width="85.2" height="209.8" rx="3" fill="#5a5a5a" opacity="0.5" filter="url(#shblur)"/>
<rect x="1159.8" y="135.0" width="85.2" height="209.8" rx="2.5" fill="url(#emptyg)"/>
<path d="M1160.3,343.6 L1160.3,226.0 L1163.0,223.8 L1190.0,223.0 L1215.0,222.8 L1240.0,224.5 L1244.5,227.0 L1244.5,343.6 Z" fill="url(#liq7)" stroke="url(#liq7)" stroke-width="0.6" stroke-linejoin="round"/>
<rect x="1241.0" y="137.0" width="2.5" height="206.8" fill="#6f7577" opacity="0.18"/>
<rect x="1160.8" y="137.0" width="1.5" height="206.8" fill="#6f7577" opacity="0.15"/>
<rect x="1161.8" y="208.8" width="79.2" height="13" fill="url(#sb7)"/>
<rect x="1160.8" y="135.0" width="83.2" height="2.2" rx="1" fill="#a3a7ab" opacity="0.9"/>
<rect x="1160.8" y="137.2" width="83.2" height="3" fill="#c5c8cb" opacity="0.6"/>
<rect x="1159.8" y="135.0" width="85.2" height="209.8" rx="2.5" fill="none" stroke="#b0b2b4" stroke-width="0.9"/>
<text x="1205.6" y="387.0" font-size="30" text-anchor="middle" fill="#000">1200 s</text>
<rect x="1317.8" y="138.5" width="90.3" height="206.0" rx="3" fill="#5a5a5a" opacity="0.5" filter="url(#shblur)"/>
<rect x="1317.3" y="136.0" width="90.3" height="206.0" rx="2.5" fill="url(#emptyg)"/>
<rect x="1396.6" y="138.0" width="10" height="203.0" fill="#f9f9f9"/>
<rect x="1318.3" y="332.0" width="88.3" height="9" fill="#f8f9f9"/>
<rect x="1318.3" y="138.0" width="8" height="203.0" fill="#c9d7da"/>
<rect x="1325.3" y="138.0" width="1.2" height="203.0" fill="#b7c5c8"/>
<rect x="1318.3" y="136.0" width="88.3" height="2.2" rx="1" fill="#a3a7ab" opacity="0.9"/>
<rect x="1318.3" y="138.2" width="88.3" height="3" fill="#c5c8cb" opacity="0.6"/>
<rect x="1317.3" y="136.0" width="90.3" height="206.0" rx="2.5" fill="none" stroke="#b0b2b4" stroke-width="0.9"/>
<text x="1362.2" y="387.0" font-size="30" text-anchor="middle" fill="#000">1400 s</text>
<rect x="692.3" y="137" width="5.5" height="203" fill="#a4a6a8" opacity="0.55"/>
<polygon points="148.2,883.0 395.8,789.8 676.6,867.7 441.9,991.5" fill="#b5dafc"/>
<line x1="144.8" y1="811.0" x2="395.7" y2="727.0" stroke="#c9c9c9" stroke-width="1"/>
<line x1="395.7" y1="727.0" x2="680.0" y2="796.6" stroke="#c9c9c9" stroke-width="1"/>
<line x1="141.6" y1="738.0" x2="395.7" y2="663.5" stroke="#c9c9c9" stroke-width="1"/>
<line x1="395.7" y1="663.5" x2="683.5" y2="724.6" stroke="#c9c9c9" stroke-width="1"/>
<line x1="138.2" y1="662.4" x2="395.7" y2="598.4" stroke="#c9c9c9" stroke-width="1"/>
<line x1="395.7" y1="598.4" x2="687.0" y2="652.7" stroke="#c9c9c9" stroke-width="1"/>
<line x1="135.0" y1="585.3" x2="395.7" y2="531.5" stroke="#c9c9c9" stroke-width="1"/>
<line x1="395.7" y1="531.5" x2="690.5" y2="577.0" stroke="#c9c9c9" stroke-width="1"/>
<line x1="195.5" y1="496.0" x2="207.4" y2="860.4" stroke="#c9c9c9" stroke-width="1"/>
<line x1="274.3" y1="483.0" x2="281.0" y2="831.0" stroke="#c9c9c9" stroke-width="1"/>
<line x1="346.2" y1="471.7" x2="348.3" y2="805.7" stroke="#c9c9c9" stroke-width="1"/>
<line x1="414.6" y1="465.5" x2="413.5" y2="794.7" stroke="#c9c9c9" stroke-width="1"/>
<line x1="453.4" y1="470.2" x2="449.3" y2="804.6" stroke="#c9c9c9" stroke-width="1"/>
<line x1="493.0" y1="475.1" x2="488.5" y2="815.5" stroke="#c9c9c9" stroke-width="1"/>
<line x1="534.0" y1="480.1" x2="527.7" y2="826.4" stroke="#c9c9c9" stroke-width="1"/>
<line x1="578.0" y1="485.4" x2="568.8" y2="837.8" stroke="#c9c9c9" stroke-width="1"/>
<line x1="623.5" y1="491.0" x2="610.8" y2="849.4" stroke="#c9c9c9" stroke-width="1"/>
<line x1="669.7" y1="496.6" x2="654.7" y2="861.6" stroke="#c9c9c9" stroke-width="1"/>
<line x1="395.7" y1="463.2" x2="395.8" y2="789.8" stroke="#888" stroke-width="1"/>
<line x1="166.7" y1="889.8" x2="413.5" y2="794.7" stroke="#9fb6cc" stroke-width="1" stroke-dasharray="2,1.5"/>
<line x1="204.0" y1="903.6" x2="449.2" y2="804.6" stroke="#9fb6cc" stroke-width="1" stroke-dasharray="2,1.5"/>
<line x1="245.1" y1="918.8" x2="488.5" y2="815.5" stroke="#9fb6cc" stroke-width="1" stroke-dasharray="2,1.5"/>
<line x1="285.9" y1="933.9" x2="527.5" y2="826.3" stroke="#9fb6cc" stroke-width="1" stroke-dasharray="2,1.5"/>
<line x1="329.1" y1="949.8" x2="568.8" y2="837.8" stroke="#9fb6cc" stroke-width="1" stroke-dasharray="2,1.5"/>
<line x1="372.9" y1="966.0" x2="610.6" y2="849.4" stroke="#9fb6cc" stroke-width="1" stroke-dasharray="2,1.5"/>
<line x1="418.7" y1="982.9" x2="654.4" y2="861.5" stroke="#9fb6cc" stroke-width="1" stroke-dasharray="2,1.5"/>
<line x1="207.4" y1="860.7" x2="499.6" y2="961.0" stroke="#9fb6cc" stroke-width="1" stroke-dasharray="2,1.5"/>
<line x1="280.9" y1="833.0" x2="569.8" y2="924.0" stroke="#9fb6cc" stroke-width="1" stroke-dasharray="2,1.5"/>
<line x1="348.3" y1="807.7" x2="633.2" y2="890.6" stroke="#9fb6cc" stroke-width="1" stroke-dasharray="2,1.5"/>
<line x1="131.7" y1="505.7" x2="395.7" y2="463.2" stroke="#444" stroke-width="1" stroke-dasharray="4,1"/>
<line x1="395.7" y1="463.2" x2="694.0" y2="499.6" stroke="#444" stroke-width="1" stroke-dasharray="4,1"/>
<line x1="148.2" y1="883.0" x2="395.8" y2="789.8" stroke="#444" stroke-width="1" stroke-dasharray="4,1"/>
<line x1="395.8" y1="789.8" x2="676.6" y2="867.7" stroke="#444" stroke-width="1" stroke-dasharray="4,1"/>
<line x1="694.0" y1="499.6" x2="676.6" y2="867.7" stroke="#777" stroke-width="1"/>
<line x1="131.7" y1="505.7" x2="148.2" y2="883.0" stroke="#000" stroke-width="2"/>
<line x1="148.2" y1="883.0" x2="441.9" y2="991.5" stroke="#000" stroke-width="2"/>
<line x1="441.9" y1="991.5" x2="676.6" y2="867.7" stroke="#000" stroke-width="2"/>
<line x1="123.2" y1="505.7" x2="131.7" y2="505.7" stroke="#000" stroke-width="2"/>
<text x="118.7" y="514.7" font-size="25.5" text-anchor="end" fill="#000">100</text>
<line x1="126.5" y1="585.3" x2="135.0" y2="585.3" stroke="#000" stroke-width="2"/>
<text x="122.0" y="594.3" font-size="25.5" text-anchor="end" fill="#000">80</text>
<line x1="129.7" y1="662.4" x2="138.2" y2="662.4" stroke="#000" stroke-width="2"/>
<text x="125.2" y="671.4" font-size="25.5" text-anchor="end" fill="#000">60</text>
<line x1="133.1" y1="738.0" x2="141.6" y2="738.0" stroke="#000" stroke-width="2"/>
<text x="128.6" y="747.0" font-size="25.5" text-anchor="end" fill="#000">40</text>
<line x1="136.3" y1="811.0" x2="144.8" y2="811.0" stroke="#000" stroke-width="2"/>
<text x="131.8" y="820.0" font-size="25.5" text-anchor="end" fill="#000">20</text>
<line x1="139.7" y1="883.0" x2="148.2" y2="883.0" stroke="#000" stroke-width="2"/>
<text x="135.2" y="892.0" font-size="25.5" text-anchor="end" fill="#000">0</text>
<text x="56.5" y="709.3" font-size="25.5" text-anchor="start" fill="#000">L*</text>
<line x1="203.8" y1="903.5" x2="203.8" y2="911.5" stroke="#000" stroke-width="2"/>
<line x1="284.1" y1="933.2" x2="284.1" y2="941.2" stroke="#000" stroke-width="2"/>
<line x1="371.3" y1="965.4" x2="371.3" y2="973.4" stroke="#000" stroke-width="2"/>
<text x="204.5" y="938.3" font-size="25.5" text-anchor="middle" fill="#000">−40</text>
<text x="284.0" y="969.7" font-size="25.5" text-anchor="middle" fill="#000">0</text>
<text x="370.9" y="1002.5" font-size="25.5" text-anchor="middle" fill="#000">40</text>
<text x="285.3" y="1016.0" font-size="25.5" text-anchor="middle" fill="#000">a*</text>
<line x1="499.6" y1="961.1" x2="499.6" y2="969.1" stroke="#000" stroke-width="2"/>
<line x1="569.7" y1="924.1" x2="569.7" y2="932.1" stroke="#000" stroke-width="2"/>
<line x1="633.2" y1="890.6" x2="633.2" y2="898.6" stroke="#000" stroke-width="2"/>
<text x="500.0" y="998.2" font-size="25.5" text-anchor="middle" fill="#000">−40</text>
<text x="569.7" y="959.0" font-size="25.5" text-anchor="middle" fill="#000">0</text>
<text x="632.8" y="924.3" font-size="25.5" text-anchor="middle" fill="#000">40</text>
<text x="560.0" y="1005.0" font-size="25.5" text-anchor="start" fill="#000">b*</text>
<circle cx="420.85" cy="527" r="11.1" fill="url(#sph)"/>
<circle cx="417.4" cy="522.8" r="6.1" fill="url(#mhl)"/>
<circle cx="485.1" cy="579" r="10.8" fill="url(#sph)"/>
<circle cx="481.6" cy="574.8" r="5.9" fill="url(#mhl)"/>
<circle cx="584.5" cy="680.4" r="10.8" fill="url(#sph)"/>
<circle cx="581.0" cy="676.2" r="5.9" fill="url(#mhl)"/>
<circle cx="550.8" cy="781.9" r="10.9" fill="url(#sph)"/>
<circle cx="547.3" cy="777.7" r="6.0" fill="url(#mhl)"/>
<circle cx="418.1" cy="859.2" r="10.7" fill="url(#sph)"/>
<circle cx="414.6" cy="855.0" r="5.9" fill="url(#mhl)"/>
<text x="445.9" y="529.6" font-size="27.5" text-anchor="start" fill="#000">0 s</text>
<text x="509.0" y="587.8" font-size="27.5" text-anchor="start" fill="#000">30 s</text>
<text x="602.3" y="687.0" font-size="27.5" text-anchor="start" fill="#000">180 s</text>
<text x="572.9" y="791.1" font-size="27.5" text-anchor="start" fill="#000">300 s</text>
<text x="439.1" y="868.4" font-size="27.5" text-anchor="start" fill="#000">600 s</text>
<text x="238.4" y="534.7" font-size="27.5" text-anchor="start" fill="#000">Transparent</text>
<text x="231.9" y="698.5" font-size="27.5" text-anchor="start" fill="#000">A variety of colors</text>
<text x="318.2" y="873.5" font-size="27.5" text-anchor="start" fill="#000">Black</text>
<g clip-path="url(#cieclip)">
<polygon points="1089.5,777.7 1374.7,776.5 1374.6,785.7" fill="url(#w0)"/>
<polygon points="1089.5,777.7 1385.7,783.6 1385.3,793.2" fill="url(#w1)"/>
<polygon points="1089.5,777.7 1397.6,791.3 1397.0,801.2" fill="url(#w2)"/>
<polygon points="1089.5,777.7 1410.7,799.7 1409.8,810.0" fill="url(#w3)"/>
<polygon points="1089.5,777.7 1412.1,807.6 1410.9,818.0" fill="url(#w4)"/>
<polygon points="1089.5,777.7 1394.5,813.5 1393.2,823.2" fill="url(#w5)"/>
<polygon points="1089.5,777.7 1378.6,818.7 1377.1,828.0" fill="url(#w6)"/>
<polygon points="1089.5,777.7 1364.3,823.5 1362.6,832.3" fill="url(#w7)"/>
<polygon points="1089.5,777.7 1351.2,827.8 1349.4,836.2" fill="url(#w8)"/>
<polygon points="1089.5,777.7 1339.2,831.8 1337.3,839.8" fill="url(#w9)"/>
<polygon points="1089.5,777.7 1328.1,835.5 1326.2,843.1" fill="url(#w10)"/>
<polygon points="1089.5,777.7 1317.9,838.9 1315.8,846.2" fill="url(#w11)"/>
<polygon points="1089.5,777.7 1308.4,842.1 1306.3,849.1" fill="url(#w12)"/>
<polygon points="1089.5,777.7 1299.6,845.0 1297.3,851.7" fill="url(#w13)"/>
<polygon points="1089.5,777.7 1291.3,847.8 1289.0,854.2" fill="url(#w14)"/>
<polygon points="1089.5,777.7 1283.6,850.4 1281.1,856.6" fill="url(#w15)"/>
<polygon points="1089.5,777.7 1276.3,852.8 1273.7,858.8" fill="url(#w16)"/>
<polygon points="1089.5,777.7 1269.4,855.2 1266.8,860.9" fill="url(#w17)"/>
<polygon points="1089.5,777.7 1262.8,857.4 1260.2,862.9" fill="url(#w18)"/>
<polygon points="1089.5,777.7 1256.6,859.5 1253.9,864.8" fill="url(#w19)"/>
<polygon points="1089.5,777.7 1250.7,861.5 1247.9,866.6" fill="url(#w20)"/>
<polygon points="1089.5,777.7 1245.1,863.4 1242.2,868.3" fill="url(#w21)"/>
<polygon points="1089.5,777.7 1239.7,865.2 1236.8,870.0" fill="url(#w22)"/>
<polygon points="1089.5,777.7 1234.5,866.9 1231.5,871.6" fill="url(#w23)"/>
<polygon points="1089.5,777.7 1229.5,868.6 1226.5,873.1" fill="url(#w24)"/>
<polygon points="1089.5,777.7 1224.7,870.2 1221.7,874.5" fill="url(#w25)"/>
<polygon points="1089.5,777.7 1220.1,871.8 1217.0,876.0" fill="url(#w26)"/>
<polygon points="1089.5,777.7 1215.7,873.3 1212.5,877.3" fill="url(#w27)"/>
<polygon points="1089.5,777.7 1211.4,874.8 1208.2,878.6" fill="url(#w28)"/>
<polygon points="1089.5,777.7 1207.2,876.2 1204.0,879.9" fill="url(#w29)"/>
<polygon points="1089.5,777.7 1203.1,877.6 1199.9,881.2" fill="url(#w30)"/>
<polygon points="1089.5,777.7 1199.2,878.9 1195.9,882.4" fill="url(#w31)"/>
<polygon points="1089.5,777.7 1195.3,880.2 1192.0,883.5" fill="url(#w32)"/>
<polygon points="1089.5,777.7 1191.6,881.5 1188.2,884.7" fill="url(#w33)"/>
<polygon points="1089.5,777.7 1187.9,882.7 1184.5,885.8" fill="url(#w34)"/>
<polygon points="1089.5,777.7 1184.3,883.9 1180.9,886.9" fill="url(#w35)"/>
<polygon points="1089.5,777.7 1180.8,885.1 1177.3,888.0" fill="url(#w36)"/>
<polygon points="1089.5,777.7 1177.4,886.2 1173.9,889.0" fill="url(#w37)"/>
<polygon points="1089.5,777.7 1174.0,887.4 1170.4,890.0" fill="url(#w38)"/>
<polygon points="1089.5,777.7 1170.7,888.5 1167.1,891.1" fill="url(#w39)"/>
<polygon points="1089.5,777.7 1167.4,889.6 1163.8,892.0" fill="url(#w40)"/>
<polygon points="1089.5,777.7 1164.2,890.7 1160.5,893.0" fill="url(#w41)"/>
<polygon points="1089.5,777.7 1161.0,891.7 1157.3,894.0" fill="url(#w42)"/>
<polygon points="1089.5,777.7 1157.8,892.8 1154.1,894.9" fill="url(#w43)"/>
<polygon points="1089.5,777.7 1154.7,893.8 1150.9,895.9" fill="url(#w44)"/>
<polygon points="1089.5,777.7 1151.6,894.9 1147.8,896.8" fill="url(#w45)"/>
<polygon points="1089.5,777.7 1148.5,895.9 1144.7,897.7" fill="url(#w46)"/>
<polygon points="1089.5,777.7 1145.4,896.9 1141.6,898.6" fill="url(#w47)"/>
<polygon points="1089.5,777.7 1142.4,897.9 1138.5,899.5" fill="url(#w48)"/>
<polygon points="1089.5,777.7 1139.4,898.9 1135.5,900.4" fill="url(#w49)"/>
<polygon points="1089.5,777.7 1136.4,899.9 1132.4,901.3" fill="url(#w50)"/>
<polygon points="1089.5,777.7 1133.4,900.8 1129.4,902.2" fill="url(#w51)"/>
<polygon points="1089.5,777.7 1130.4,901.8 1126.3,903.1" fill="url(#w52)"/>
<polygon points="1089.5,777.7 1127.3,902.8 1123.3,904.0" fill="url(#w53)"/>
<polygon points="1089.5,777.7 1124.3,903.8 1120.3,904.8" fill="url(#w54)"/>
<polygon points="1089.5,777.7 1121.3,904.7 1117.2,905.7" fill="url(#w55)"/>
<polygon points="1089.5,777.7 1118.3,905.7 1114.2,906.6" fill="url(#w56)"/>
<polygon points="1089.5,777.7 1115.3,906.7 1111.1,907.5" fill="url(#w57)"/>
<polygon points="1089.5,777.7 1112.2,907.7 1108.0,908.3" fill="url(#w58)"/>
<polygon points="1089.5,777.7 1109.1,908.7 1104.9,909.2" fill="url(#w59)"/>
<polygon points="1089.5,777.7 1106.0,909.7 1101.8,910.1" fill="url(#w60)"/>
<polygon points="1089.5,777.7 1102.9,910.7 1098.6,911.0" fill="url(#w61)"/>
<polygon points="1089.5,777.7 1099.7,911.7 1095.4,911.9" fill="url(#w62)"/>
<polygon points="1089.5,777.7 1096.5,912.7 1092.2,912.8" fill="url(#w63)"/>
<polygon points="1089.5,777.7 1093.3,913.7 1088.9,913.7" fill="url(#w64)"/>
<polygon points="1089.5,777.7 1090.0,914.7 1085.6,914.7" fill="url(#w65)"/>
<polygon points="1089.5,777.7 1086.7,915.8 1082.2,915.6" fill="url(#w66)"/>
<polygon points="1089.5,777.7 1083.3,916.8 1078.8,916.6" fill="url(#w67)"/>
<polygon points="1089.5,777.7 1079.8,917.9 1075.3,917.5" fill="url(#w68)"/>
<polygon points="1089.5,777.7 1076.3,919.0 1071.8,918.5" fill="url(#w69)"/>
<polygon points="1089.5,777.7 1072.7,920.2 1068.2,919.5" fill="url(#w70)"/>
<polygon points="1089.5,777.7 1069.1,921.3 1064.5,920.6" fill="url(#w71)"/>
<polygon points="1089.5,777.7 1065.3,922.5 1060.7,921.6" fill="url(#w72)"/>
<polygon points="1089.5,777.7 1061.5,923.7 1056.8,922.7" fill="url(#w73)"/>
<polygon points="1089.5,777.7 1057.5,924.9 1052.8,923.8" fill="url(#w74)"/>
<polygon points="1089.5,777.7 1053.5,926.2 1048.7,924.9" fill="url(#w75)"/>
<polygon points="1089.5,777.7 1049.3,927.5 1044.5,926.1" fill="url(#w76)"/>
<polygon points="1089.5,777.7 1045.0,928.8 1040.2,927.3" fill="url(#w77)"/>
<polygon points="1089.5,777.7 1040.6,930.2 1035.7,928.5" fill="url(#w78)"/>
<polygon points="1089.5,777.7 1036.0,931.6 1031.1,929.8" fill="url(#w79)"/>
<polygon points="1089.5,777.7 1031.2,933.1 1026.3,931.1" fill="url(#w80)"/>
<polygon points="1089.5,777.7 1026.3,934.6 1021.3,932.5" fill="url(#w81)"/>
<polygon points="1089.5,777.7 1021.1,936.2 1016.1,934.0" fill="url(#w82)"/>
<polygon points="1089.5,777.7 1015.8,937.9 1010.7,935.5" fill="url(#w83)"/>
<polygon points="1089.5,777.7 1010.2,939.7 1005.0,937.0" fill="url(#w84)"/>
<polygon points="1089.5,777.7 1004.3,941.5 999.1,938.7" fill="url(#w85)"/>
<polygon points="1089.5,777.7 998.2,943.4 992.9,940.4" fill="url(#w86)"/>
<polygon points="1089.5,777.7 991.7,945.5 986.3,942.2" fill="url(#w87)"/>
<polygon points="1089.5,777.7 984.9,947.6 979.4,944.1" fill="url(#w88)"/>
<polygon points="1089.5,777.7 979.3,947.3 973.9,943.6" fill="url(#w89)"/>
<polygon points="1089.5,777.7 975.0,944.9 969.7,941.1" fill="url(#w90)"/>
<polygon points="1089.5,777.7 970.7,942.5 965.5,938.6" fill="url(#w91)"/>
<polygon points="1089.5,777.7 966.4,940.1 961.2,936.0" fill="url(#w92)"/>
<polygon points="1089.5,777.7 962.1,937.5 957.1,933.3" fill="url(#w93)"/>
<polygon points="1089.5,777.7 958.0,934.7 953.1,930.4" fill="url(#w94)"/>
<polygon points="1089.5,777.7 954.1,931.7 949.2,927.3" fill="url(#w95)"/>
<polygon points="1089.5,777.7 950.4,928.4 945.6,923.9" fill="url(#w96)"/>
<polygon points="1089.5,777.7 946.8,924.9 942.2,920.3" fill="url(#w97)"/>
<polygon points="1089.5,777.7 943.5,921.3 938.9,916.5" fill="url(#w98)"/>
<polygon points="1089.5,777.7 940.3,917.5 935.9,912.7" fill="url(#w99)"/>
<polygon points="1089.5,777.7 937.2,913.7 932.9,908.7" fill="url(#w100)"/>
<polygon points="1089.5,777.7 934.2,909.7 930.0,904.7" fill="url(#w101)"/>
<polygon points="1089.5,777.7 931.3,905.7 927.3,900.5" fill="url(#w102)"/>
<polygon points="1089.5,777.7 928.6,901.6 924.7,896.4" fill="url(#w103)"/>
<polygon points="1089.5,777.7 925.9,897.5 922.1,892.2" fill="url(#w104)"/>
<polygon points="1089.5,777.7 923.3,893.4 919.6,888.0" fill="url(#w105)"/>
<polygon points="1089.5,777.7 920.7,889.2 917.2,883.7" fill="url(#w106)"/>
<polygon points="1089.5,777.7 918.3,885.0 914.9,879.4" fill="url(#w107)"/>
<polygon points="1089.5,777.7 915.8,880.7 912.6,875.1" fill="url(#w108)"/>
<polygon points="1089.5,777.7 913.4,876.5 910.4,870.8" fill="url(#w109)"/>
<polygon points="1089.5,777.7 911.1,872.2 908.1,866.4" fill="url(#w110)"/>
<polygon points="1089.5,777.7 908.7,867.9 905.9,862.1" fill="url(#w111)"/>
<polygon points="1089.5,777.7 906.4,863.6 903.8,857.7" fill="url(#w112)"/>
<polygon points="1089.5,777.7 904.2,859.3 901.7,853.3" fill="url(#w113)"/>
<polygon points="1089.5,777.7 902.0,854.9 899.6,848.8" fill="url(#w114)"/>
<polygon points="1089.5,777.7 899.9,850.4 897.7,844.3" fill="url(#w115)"/>
<polygon points="1089.5,777.7 897.9,845.9 895.8,839.7" fill="url(#w116)"/>
<polygon points="1089.5,777.7 896.0,841.4 894.0,835.1" fill="url(#w117)"/>
<polygon points="1089.5,777.7 894.0,836.8 892.2,830.5" fill="url(#w118)"/>
<polygon points="1089.5,777.7 892.1,832.2 890.5,825.9" fill="url(#w119)"/>
<polygon points="1089.5,777.7 890.3,827.6 888.7,821.2" fill="url(#w120)"/>
<polygon points="1089.5,777.7 888.4,822.9 887.1,816.4" fill="url(#w121)"/>
<polygon points="1089.5,777.7 886.6,818.2 885.4,811.7" fill="url(#w122)"/>
<polygon points="1089.5,777.7 884.8,813.5 883.8,806.9" fill="url(#w123)"/>
<polygon points="1089.5,777.7 883.1,808.6 882.2,802.0" fill="url(#w124)"/>
<polygon points="1089.5,777.7 881.4,803.8 880.7,797.1" fill="url(#w125)"/>
<polygon points="1089.5,777.7 879.7,798.8 879.1,792.1" fill="url(#w126)"/>
<polygon points="1089.5,777.7 878.1,793.9 877.6,787.1" fill="url(#w127)"/>
<polygon points="1089.5,777.7 876.4,788.8 876.2,782.0" fill="url(#w128)"/>
<polygon points="1089.5,777.7 874.8,783.7 874.7,776.8" fill="url(#w129)"/>
<polygon points="1089.5,777.7 873.2,778.5 873.3,771.6" fill="url(#w130)"/>
<polygon points="1089.5,777.7 871.6,773.3 871.8,766.3" fill="url(#w131)"/>
<polygon points="1089.5,777.7 870.0,767.9 870.4,760.9" fill="url(#w132)"/>
<polygon points="1089.5,777.7 868.4,762.5 869.0,755.4" fill="url(#w133)"/>
<polygon points="1089.5,777.7 866.8,757.0 867.6,749.8" fill="url(#w134)"/>
<polygon points="1089.5,777.7 865.3,751.4 866.3,744.2" fill="url(#w135)"/>
<polygon points="1089.5,777.7 863.8,745.6 865.0,738.4" fill="url(#w136)"/>
<polygon points="1089.5,777.7 862.4,739.8 863.7,732.5" fill="url(#w137)"/>
<polygon points="1089.5,777.7 860.9,733.9 862.5,726.5" fill="url(#w138)"/>
<polygon points="1089.5,777.7 859.5,727.8 861.2,720.4" fill="url(#w139)"/>
<polygon points="1089.5,777.7 858.1,721.6 860.1,714.2" fill="url(#w140)"/>
<polygon points="1089.5,777.7 856.8,715.3 858.9,707.9" fill="url(#w141)"/>
<polygon points="1089.5,777.7 855.4,708.8 857.8,701.4" fill="url(#w142)"/>
<polygon points="1089.5,777.7 854.1,702.2 856.7,694.7" fill="url(#w143)"/>
<polygon points="1089.5,777.7 852.9,695.5 855.7,687.9" fill="url(#w144)"/>
<polygon points="1089.5,777.7 851.7,688.6 854.7,681.0" fill="url(#w145)"/>
<polygon points="1089.5,777.7 850.6,681.5 853.8,673.9" fill="url(#w146)"/>
<polygon points="1089.5,777.7 849.5,674.3 853.0,666.6" fill="url(#w147)"/>
<polygon points="1089.5,777.7 848.6,666.9 852.3,659.2" fill="url(#w148)"/>
<polygon points="1089.5,777.7 847.7,659.3 851.6,651.6" fill="url(#w149)"/>
<polygon points="1089.5,777.7 846.9,651.6 851.1,643.9" fill="url(#w150)"/>
<polygon points="1089.5,777.7 846.3,643.7 850.7,636.0" fill="url(#w151)"/>
<polygon points="1089.5,777.7 845.8,635.6 850.5,627.9" fill="url(#w152)"/>
<polygon points="1089.5,777.7 845.4,627.4 850.4,619.7" fill="url(#w153)"/>
<polygon points="1089.5,777.7 845.3,619.1 850.6,611.3" fill="url(#w154)"/>
<polygon points="1089.5,777.7 845.5,610.7 851.0,603.0" fill="url(#w155)"/>
<polygon points="1089.5,777.7 846.0,602.2 851.7,594.5" fill="url(#w156)"/>
<polygon points="1089.5,777.7 846.8,593.7 852.8,586.0" fill="url(#w157)"/>
<polygon points="1089.5,777.7 847.9,585.2 854.2,577.5" fill="url(#w158)"/>
<polygon points="1089.5,777.7 849.4,576.7 855.9,569.1" fill="url(#w159)"/>
<polygon points="1089.5,777.7 851.3,568.4 858.2,560.8" fill="url(#w160)"/>
<polygon points="1089.5,777.7 853.9,560.3 861.0,552.9" fill="url(#w161)"/>
<polygon points="1089.5,777.7 857.1,552.7 864.5,545.3" fill="url(#w162)"/>
<polygon points="1089.5,777.7 861.0,545.4 868.5,538.2" fill="url(#w163)"/>
<polygon points="1089.5,777.7 865.5,538.7 873.3,531.7" fill="url(#w164)"/>
<polygon points="1089.5,777.7 870.7,532.7 878.7,525.8" fill="url(#w165)"/>
<polygon points="1089.5,777.7 876.8,527.6 885.0,520.9" fill="url(#w166)"/>
<polygon points="1089.5,777.7 883.9,523.9 892.2,517.4" fill="url(#w167)"/>
<polygon points="1089.5,777.7 891.9,521.3 900.3,515.0" fill="url(#w168)"/>
<polygon points="1089.5,777.7 900.5,519.7 908.9,513.8" fill="url(#w169)"/>
<polygon points="1089.5,777.7 909.8,519.6 918.2,514.0" fill="url(#w170)"/>
<polygon points="1089.5,777.7 919.8,521.0 928.2,515.6" fill="url(#w171)"/>
<polygon points="1089.5,777.7 929.8,523.0 938.1,518.0" fill="url(#w172)"/>
<polygon points="1089.5,777.7 939.7,525.4 947.9,520.7" fill="url(#w173)"/>
<polygon points="1089.5,777.7 949.6,528.5 957.7,524.1" fill="url(#w174)"/>
<polygon points="1089.5,777.7 959.1,531.8 967.1,527.7" fill="url(#w175)"/>
<polygon points="1089.5,777.7 968.3,535.0 976.2,531.3" fill="url(#w176)"/>
<polygon points="1089.5,777.7 977.1,538.4 984.9,534.9" fill="url(#w177)"/>
<polygon points="1089.5,777.7 985.6,541.9 993.3,538.7" fill="url(#w178)"/>
<polygon points="1089.5,777.7 993.8,545.3 1001.3,542.4" fill="url(#w179)"/>
<polygon points="1089.5,777.7 1001.6,548.8 1009.0,546.1" fill="url(#w180)"/>
<polygon points="1089.5,777.7 1009.1,552.3 1016.4,549.8" fill="url(#w181)"/>
<polygon points="1089.5,777.7 1016.4,555.7 1023.5,553.5" fill="url(#w182)"/>
<polygon points="1089.5,777.7 1023.3,559.1 1030.4,557.1" fill="url(#w183)"/>
<polygon points="1089.5,777.7 1029.9,562.4 1036.9,560.6" fill="url(#w184)"/>
<polygon points="1089.5,777.7 1036.3,565.7 1043.2,564.1" fill="url(#w185)"/>
<polygon points="1089.5,777.7 1042.5,568.9 1049.2,567.5" fill="url(#w186)"/>
<polygon points="1089.5,777.7 1048.4,572.1 1055.0,570.9" fill="url(#w187)"/>
<polygon points="1089.5,777.7 1054.0,575.2 1060.6,574.1" fill="url(#w188)"/>
<polygon points="1089.5,777.7 1059.5,578.2 1065.9,577.3" fill="url(#w189)"/>
<polygon points="1089.5,777.7 1064.8,581.1 1071.1,580.4" fill="url(#w190)"/>
<polygon points="1089.5,777.7 1069.9,584.0 1076.1,583.4" fill="url(#w191)"/>
<polygon points="1089.5,777.7 1074.8,586.8 1081.0,586.4" fill="url(#w192)"/>
<polygon points="1089.5,777.7 1079.6,589.5 1085.7,589.3" fill="url(#w193)"/>
<polygon points="1089.5,777.7 1084.2,592.2 1090.2,592.1" fill="url(#w194)"/>
<polygon points="1089.5,777.7 1088.7,594.8 1094.6,594.8" fill="url(#w195)"/>
<polygon points="1089.5,777.7 1093.1,597.3 1098.9,597.5" fill="url(#w196)"/>
<polygon points="1089.5,777.7 1097.4,599.8 1103.1,600.2" fill="url(#w197)"/>
<polygon points="1089.5,777.7 1101.5,602.3 1107.1,602.7" fill="url(#w198)"/>
<polygon points="1089.5,777.7 1105.5,604.7 1111.1,605.3" fill="url(#w199)"/>
<polygon points="1089.5,777.7 1109.5,607.0 1115.0,607.7" fill="url(#w200)"/>
<polygon points="1089.5,777.7 1113.4,609.3 1118.8,610.2" fill="url(#w201)"/>
<polygon points="1089.5,777.7 1117.1,611.6 1122.5,612.6" fill="url(#w202)"/>
<polygon points="1089.5,777.7 1120.9,613.8 1126.1,614.9" fill="url(#w203)"/>
<polygon points="1089.5,777.7 1124.5,616.0 1129.7,617.2" fill="url(#w204)"/>
<polygon points="1089.5,777.7 1128.1,618.2 1133.2,619.5" fill="url(#w205)"/>
<polygon points="1089.5,777.7 1131.6,620.3 1136.7,621.8" fill="url(#w206)"/>
<polygon points="1089.5,777.7 1135.1,622.5 1140.1,624.0" fill="url(#w207)"/>
<polygon points="1089.5,777.7 1138.5,624.6 1143.4,626.2" fill="url(#w208)"/>
<polygon points="1089.5,777.7 1141.9,626.7 1146.7,628.4" fill="url(#w209)"/>
<polygon points="1089.5,777.7 1145.3,628.7 1150.0,630.6" fill="url(#w210)"/>
<polygon points="1089.5,777.7 1148.6,630.8 1153.3,632.8" fill="url(#w211)"/>
<polygon points="1089.5,777.7 1151.9,632.8 1156.5,634.9" fill="url(#w212)"/>
<polygon points="1089.5,777.7 1155.1,634.9 1159.7,637.0" fill="url(#w213)"/>
<polygon points="1089.5,777.7 1158.4,636.9 1162.9,639.2" fill="url(#w214)"/>
<polygon points="1089.5,777.7 1161.6,638.9 1166.0,641.3" fill="url(#w215)"/>
<polygon points="1089.5,777.7 1164.8,640.9 1169.2,643.4" fill="url(#w216)"/>
<polygon points="1089.5,777.7 1168.0,642.9 1172.3,645.5" fill="url(#w217)"/>
<polygon points="1089.5,777.7 1171.2,644.9 1175.4,647.6" fill="url(#w218)"/>
<polygon points="1089.5,777.7 1174.4,646.9 1178.5,649.7" fill="url(#w219)"/>
<polygon points="1089.5,777.7 1177.6,648.9 1181.7,651.8" fill="url(#w220)"/>
<polygon points="1089.5,777.7 1180.8,650.9 1184.8,653.9" fill="url(#w221)"/>
<polygon points="1089.5,777.7 1184.0,653.0 1187.9,656.1" fill="url(#w222)"/>
<polygon points="1089.5,777.7 1187.2,655.0 1191.1,658.2" fill="url(#w223)"/>
<polygon points="1089.5,777.7 1190.4,657.1 1194.2,660.4" fill="url(#w224)"/>
<polygon points="1089.5,777.7 1193.6,659.1 1197.4,662.5" fill="url(#w225)"/>
<polygon points="1089.5,777.7 1196.9,661.2 1200.6,664.7" fill="url(#w226)"/>
<polygon points="1089.5,777.7 1200.2,663.3 1203.8,666.9" fill="url(#w227)"/>
<polygon points="1089.5,777.7 1203.5,665.5 1207.1,669.2" fill="url(#w228)"/>
<polygon points="1089.5,777.7 1206.9,667.6 1210.3,671.4" fill="url(#w229)"/>
<polygon points="1089.5,777.7 1210.2,669.8 1213.6,673.7" fill="url(#w230)"/>
<polygon points="1089.5,777.7 1213.7,672.0 1217.0,676.1" fill="url(#w231)"/>
<polygon points="1089.5,777.7 1217.2,674.3 1220.4,678.4" fill="url(#w232)"/>
<polygon points="1089.5,777.7 1220.7,676.6 1223.9,680.8" fill="url(#w233)"/>
<polygon points="1089.5,777.7 1224.3,678.9 1227.4,683.3" fill="url(#w234)"/>
<polygon points="1089.5,777.7 1227.9,681.3 1231.0,685.8" fill="url(#w235)"/>
<polygon points="1089.5,777.7 1231.7,683.7 1234.6,688.3" fill="url(#w236)"/>
<polygon points="1089.5,777.7 1235.5,686.2 1238.3,690.9" fill="url(#w237)"/>
<polygon points="1089.5,777.7 1239.4,688.7 1242.2,693.6" fill="url(#w238)"/>
<polygon points="1089.5,777.7 1243.4,691.3 1246.1,696.3" fill="url(#w239)"/>
<polygon points="1089.5,777.7 1247.4,693.9 1250.1,699.1" fill="url(#w240)"/>
<polygon points="1089.5,777.7 1251.6,696.7 1254.2,701.9" fill="url(#w241)"/>
<polygon points="1089.5,777.7 1256.0,699.5 1258.4,704.9" fill="url(#w242)"/>
<polygon points="1089.5,777.7 1260.4,702.4 1262.7,707.9" fill="url(#w243)"/>
<polygon points="1089.5,777.7 1265.0,705.4 1267.2,711.1" fill="url(#w244)"/>
<polygon points="1089.5,777.7 1269.7,708.5 1271.9,714.3" fill="url(#w245)"/>
<polygon points="1089.5,777.7 1274.7,711.7 1276.7,717.7" fill="url(#w246)"/>
<polygon points="1089.5,777.7 1279.8,715.0 1281.7,721.1" fill="url(#w247)"/>
<polygon points="1089.5,777.7 1285.1,718.4 1286.9,724.8" fill="url(#w248)"/>
<polygon points="1089.5,777.7 1290.6,722.0 1292.3,728.5" fill="url(#w249)"/>
<polygon points="1089.5,777.7 1296.4,725.8 1298.0,732.5" fill="url(#w250)"/>
<polygon points="1089.5,777.7 1302.4,729.7 1303.9,736.6" fill="url(#w251)"/>
<polygon points="1089.5,777.7 1308.7,733.8 1310.0,740.9" fill="url(#w252)"/>
<polygon points="1089.5,777.7 1315.4,738.1 1316.5,745.4" fill="url(#w253)"/>
<polygon points="1089.5,777.7 1322.4,742.7 1323.4,750.2" fill="url(#w254)"/>
<polygon points="1089.5,777.7 1329.8,747.5 1330.6,755.3" fill="url(#w255)"/>
<polygon points="1089.5,777.7 1337.6,752.6 1338.3,760.6" fill="url(#w256)"/>
<polygon points="1089.5,777.7 1346.0,758.0 1346.5,766.3" fill="url(#w257)"/>
<polygon points="1089.5,777.7 1354.9,763.8 1355.2,772.3" fill="url(#w258)"/>
<polygon points="1089.5,777.7 1364.5,769.9 1364.6,778.8" fill="url(#w259)"/>
<rect x="850" y="712.9" width="600" height="1" fill="#fff" opacity="0.35"/>
</g>
<path d="M985.76,938.12 C985.11,937.97 983.08,937.67 981.87,937.18 C980.66,936.70 980.04,936.09 978.50,935.20 C976.97,934.31 974.34,932.81 972.67,931.83 C971.00,930.86 970.05,930.35 968.48,929.36 C966.91,928.37 965.17,927.31 963.24,925.89 C961.31,924.47 959.36,923.16 956.88,920.84 C954.40,918.52 951.58,915.85 948.35,911.97 C945.12,908.10 941.59,903.79 937.50,897.61 C933.41,891.43 928.91,884.28 923.81,874.88 C918.71,865.48 912.63,854.60 906.90,841.20 C901.18,827.81 895.10,812.00 889.47,794.50 C883.83,777.00 877.72,756.30 873.08,736.21 C868.44,716.12 864.08,693.94 861.64,673.96 C859.19,653.97 857.71,633.79 858.42,616.31 C859.13,598.83 861.54,582.04 865.90,569.06 C870.26,556.09 877.07,545.36 884.60,538.46 C892.14,531.56 901.70,528.83 911.09,527.66 C920.48,526.49 930.92,529.12 940.94,531.42 C950.97,533.73 961.43,537.80 971.25,541.48 C981.06,545.16 990.49,549.25 999.83,553.51 C1009.17,557.77 1018.20,562.30 1027.29,567.03 C1036.38,571.76 1045.39,576.77 1054.37,581.89 C1063.35,587.01 1072.24,592.34 1081.16,597.74 C1090.07,603.14 1098.95,608.68 1107.87,614.28 C1116.78,619.88 1125.75,625.60 1134.65,631.32 C1143.56,637.04 1152.44,642.84 1161.29,648.60 C1170.14,654.36 1179.03,660.16 1187.78,665.88 C1196.52,671.61 1205.21,677.35 1213.74,682.97 C1222.27,688.59 1230.72,694.18 1238.95,699.61 C1247.18,705.04 1255.30,710.41 1263.12,715.56 C1270.94,720.71 1278.62,725.74 1285.86,730.51 C1293.11,735.29 1300.13,739.97 1306.59,744.23 C1313.05,748.50 1318.97,752.40 1324.62,756.12 C1330.27,759.84 1335.64,763.39 1340.48,766.57 C1345.32,769.75 1349.67,772.57 1353.65,775.19 C1357.63,777.80 1361.15,780.15 1364.35,782.27 C1367.56,784.39 1370.32,786.23 1372.88,787.91 C1375.44,789.60 1377.64,791.03 1379.69,792.37 C1381.73,793.72 1383.48,794.88 1385.15,795.99 C1386.82,797.09 1388.33,798.09 1389.71,799.01 C1391.10,799.92 1392.33,800.75 1393.46,801.48 C1394.58,802.22 1395.29,802.66 1396.45,803.42 C1397.61,804.18 1398.96,805.07 1400.41,806.04 C1401.87,807.01 1404.40,808.68 1405.20,809.21 Z" fill="none" stroke="#0000ff" stroke-width="2" stroke-linejoin="round"/>
<rect x="855.9" y="495.6" width="598" height="445" fill="none" stroke="#000" stroke-width="2.2"/>
<line x1="846.8" y1="940.6" x2="855.9" y2="940.6" stroke="#000" stroke-width="2.2"/>
<text x="841.1" y="950.2" font-size="27.6" text-anchor="end" fill="#000">0.0</text>
<line x1="855.5" y1="940.6" x2="855.5" y2="949.0" stroke="#000" stroke-width="2.2"/>
<text x="855.5" y="975.6" font-size="27.6" text-anchor="middle" fill="#000">0.0</text>
<line x1="846.8" y1="841.5" x2="855.9" y2="841.5" stroke="#000" stroke-width="2.2"/>
<text x="841.1" y="851.1" font-size="27.6" text-anchor="end" fill="#000">0.2</text>
<line x1="1005.1" y1="940.6" x2="1005.1" y2="949.0" stroke="#000" stroke-width="2.2"/>
<text x="1005.1" y="975.6" font-size="27.6" text-anchor="middle" fill="#000">0.2</text>
<line x1="846.8" y1="742.5" x2="855.9" y2="742.5" stroke="#000" stroke-width="2.2"/>
<text x="841.1" y="752.1" font-size="27.6" text-anchor="end" fill="#000">0.4</text>
<line x1="1154.8" y1="940.6" x2="1154.8" y2="949.0" stroke="#000" stroke-width="2.2"/>
<text x="1154.8" y="975.6" font-size="27.6" text-anchor="middle" fill="#000">0.4</text>
<line x1="846.8" y1="643.5" x2="855.9" y2="643.5" stroke="#000" stroke-width="2.2"/>
<text x="841.1" y="653.1" font-size="27.6" text-anchor="end" fill="#000">0.6</text>
<line x1="1304.4" y1="940.6" x2="1304.4" y2="949.0" stroke="#000" stroke-width="2.2"/>
<text x="1304.4" y="975.6" font-size="27.6" text-anchor="middle" fill="#000">0.6</text>
<line x1="846.8" y1="544.4" x2="855.9" y2="544.4" stroke="#000" stroke-width="2.2"/>
<text x="841.1" y="554.0" font-size="27.6" text-anchor="end" fill="#000">0.8</text>
<line x1="1454.1" y1="940.6" x2="1454.1" y2="949.0" stroke="#000" stroke-width="2.2"/>
<text x="1454.1" y="975.6" font-size="27.6" text-anchor="middle" fill="#000">0.8</text>
<text x="1154.4" y="1014.8" font-size="27" text-anchor="middle" fill="#000">x</text>
<text transform="translate(783.5,718.2) rotate(-90)" font-size="27" text-anchor="middle">y</text>
<text x="1306.9" y="538.0" font-size="28.7" text-anchor="start" font-weight="bold" font-style="italic" fill="#000">CIE 1931</text>
<circle cx="1094.2" cy="777" r="9.0" fill="#000"/>
<circle cx="1091.3" cy="774.2" r="5.6" fill="url(#bhl)"/>
<circle cx="1103.3" cy="782.2" r="9.2" fill="#000"/>
<circle cx="1100.4" cy="779.4" r="5.7" fill="url(#bhl)"/>
<circle cx="1147.1" cy="742.8" r="9.2" fill="#000"/>
<circle cx="1144.2" cy="740.0" r="5.7" fill="url(#bhl)"/>
<circle cx="1259.5" cy="727.9" r="9.0" fill="#000"/>
<circle cx="1256.6" cy="725.1" r="5.6" fill="url(#bhl)"/>
<circle cx="1312.1" cy="752.4" r="8.9" fill="#000"/>
<circle cx="1309.2" cy="749.6" r="5.5" fill="url(#bhl)"/>
<text x="914.9" y="750.3" font-size="25" text-anchor="start" fill="#000">transparent (0s)</text>
<text x="1050.7" y="857.2" font-size="25" text-anchor="start" fill="#000">black(600s)</text>
<text x="1148.0" y="777.3" font-size="25" text-anchor="start" fill="#000">30s</text>
<text x="1214.2" y="759.3" font-size="25" text-anchor="start" fill="#000">180s</text>
<text x="1288.5" y="783.5" font-size="25" text-anchor="start" fill="#000">300s</text>
<line x1="1045.0" y1="759.4" x2="1071.5" y2="768.5" stroke="#000" stroke-width="2.2"/>
<polygon points="1081.0,771.8 1067.9,773.1 1071.4,762.7" fill="#000"/>
<line x1="1117.9" y1="825.0" x2="1106.2" y2="804.2" stroke="#000" stroke-width="2.2"/>
<polygon points="1101.3,795.5 1112.0,803.3 1102.4,808.7" fill="#000"/>
<path d="M1139.2,718.8 Q1158,706 1188,703" fill="none" stroke="#ff0000" stroke-width="4.5"/>
<polygon points="1212,700.4 1186.8,690.6 1186.8,710.6" fill="#ff0000"/>
<g clip-path="url(#dclip)" fill="none" stroke-width="3.2" stroke-linejoin="round">
<path d="M111.60,1115.24 L114.59,1114.33 L117.59,1113.44 L120.58,1112.58 L123.58,1111.78 L126.57,1111.05 L129.57,1110.40 L132.56,1109.82 L135.56,1109.31 L138.56,1108.85 L141.55,1108.45 L144.54,1108.10 L147.54,1107.81 L150.53,1107.57 L153.53,1107.38 L156.53,1107.23 L159.52,1107.10 L162.51,1107.00 L165.51,1106.92 L168.50,1106.86 L171.50,1106.81 L174.50,1106.78 L177.49,1106.75 L180.49,1106.71 L183.48,1106.65 L186.47,1106.55 L189.47,1106.41 L192.47,1106.22 L195.46,1106.00 L198.45,1105.75 L201.45,1105.48 L204.44,1105.21 L207.44,1104.93 L210.44,1104.65 L213.43,1104.36 L216.43,1104.08 L219.42,1103.80 L222.41,1103.51 L225.41,1103.22 L228.41,1102.93 L231.40,1102.64 L234.39,1102.34 L237.39,1102.04 L240.38,1101.74 L243.38,1101.44 L246.38,1101.14 L249.37,1100.84 L252.37,1100.53 L255.36,1100.23 L258.36,1099.94 L261.35,1099.65 L264.35,1099.39 L267.34,1099.14 L270.34,1098.93 L273.33,1098.75 L276.32,1098.60 L279.32,1098.47 L282.31,1098.37 L285.31,1098.27 L288.31,1098.17 L291.30,1098.08 L294.29,1097.99 L297.29,1097.90 L300.28,1097.81 L303.28,1097.73 L306.27,1097.65 L309.27,1097.59 L312.26,1097.54 L315.26,1097.50 L318.25,1097.47 L321.25,1097.46 L324.25,1097.45 L327.24,1097.45 L330.24,1097.45 L333.23,1097.45 L336.23,1097.45 L339.22,1097.45 L342.22,1097.45 L345.21,1097.46 L348.21,1097.46 L351.20,1097.48 L354.19,1097.49 L357.19,1097.51 L360.19,1097.54 L363.18,1097.56 L366.18,1097.59 L369.17,1097.62 L372.16,1097.65 L375.16,1097.68 L378.15,1097.71 L381.15,1097.74 L384.14,1097.76 L387.14,1097.78 L390.13,1097.79 L393.13,1097.79 L396.12,1097.77 L399.12,1097.74 L402.12,1097.70 L405.11,1097.65 L408.11,1097.59 L411.10,1097.54 L414.10,1097.48 L417.09,1097.42 L420.09,1097.36 L423.08,1097.29 L426.08,1097.23 L429.07,1097.17 L432.07,1097.10 L435.06,1097.03 L438.05,1096.95 L441.05,1096.87 L444.04,1096.78 L447.04,1096.69 L450.03,1096.60 L453.03,1096.50 L456.02,1096.41 L459.02,1096.32 L462.01,1096.23 L465.01,1096.14 L468.00,1096.06 L471.00,1095.99 L474.00,1095.93 L476.99,1095.91 L479.99,1095.90 L482.98,1095.92 L485.98,1095.95 L488.97,1096.00 L491.97,1096.06 L494.96,1096.12 L497.96,1096.18 L500.95,1096.24 L503.95,1096.30 L506.94,1096.36 L509.94,1096.43 L512.93,1096.50 L515.92,1096.57 L518.92,1096.66 L521.91,1096.75 L524.91,1096.86 L527.90,1096.97 L530.90,1097.09 L533.89,1097.21 L536.89,1097.33 L539.88,1097.45 L542.88,1097.57 L545.88,1097.69 L548.87,1097.81 L551.87,1097.94 L554.86,1098.07 L557.86,1098.21 L560.85,1098.36 L563.85,1098.52 L566.84,1098.69 L569.84,1098.87 L572.83,1099.05 L575.83,1099.24 L578.82,1099.42 L581.82,1099.61 L584.81,1099.80 L587.81,1099.99 L590.80,1100.18 L593.79,1100.38 L596.79,1100.59 L599.78,1100.81 L602.78,1101.04 L605.77,1101.28 L608.77,1101.53 L611.76,1101.80 L614.76,1102.06 L617.75,1102.33 L620.75,1102.61 L623.75,1102.88 L626.74,1103.15 L629.74,1103.42 L632.73,1103.69 L635.73,1103.97 L638.72,1104.24 L641.72,1104.51 L644.71,1104.78 L647.71,1105.05 L650.70,1105.33 L653.70,1105.60 L656.69,1105.87 L659.69,1106.14 L662.68,1106.41 L665.68,1106.68 L668.67,1106.96 L671.67,1107.23 L674.66,1107.51 L677.66,1107.80 L680.65,1108.10 L683.65,1108.41 L686.64,1108.73 L689.63,1109.06 L692.63,1109.40 L695.62,1109.73 L698.62,1110.07 L701.62,1110.41 L704.61,1110.75 L707.61,1111.09 L710.60,1111.43" stroke="#e8482e"/>
<path d="M111.60,1474.87 L114.59,1473.96 L117.59,1473.04 L120.58,1472.11 L123.58,1471.16 L126.57,1470.19 L129.57,1469.17 L132.56,1468.11 L135.56,1467.00 L138.56,1465.84 L141.55,1464.64 L144.54,1463.40 L147.54,1462.11 L150.53,1460.75 L153.53,1459.33 L156.53,1457.84 L159.52,1456.29 L162.51,1454.70 L165.51,1453.07 L168.50,1451.40 L171.50,1449.71 L174.50,1447.99 L177.49,1446.23 L180.49,1444.45 L183.48,1442.64 L186.47,1440.80 L189.47,1438.92 L192.47,1437.00 L195.46,1435.04 L198.45,1433.02 L201.45,1430.97 L204.44,1428.89 L207.44,1426.78 L210.44,1424.67 L213.43,1422.56 L216.43,1420.44 L219.42,1418.33 L222.41,1416.21 L225.41,1414.10 L228.41,1412.01 L231.40,1409.93 L234.39,1407.87 L237.39,1405.84 L240.38,1403.84 L243.38,1401.86 L246.38,1399.90 L249.37,1397.93 L252.37,1395.95 L255.36,1393.95 L258.36,1391.92 L261.35,1389.86 L264.35,1387.78 L267.34,1385.66 L270.34,1383.52 L273.33,1381.34 L276.32,1379.12 L279.32,1376.85 L282.31,1374.54 L285.31,1372.18 L288.31,1369.81 L291.30,1367.42 L294.29,1365.04 L297.29,1362.67 L300.28,1360.32 L303.28,1357.99 L306.27,1355.69 L309.27,1353.41 L312.26,1351.15 L315.26,1348.92 L318.25,1346.73 L321.25,1344.58 L324.25,1342.48 L327.24,1340.42 L330.24,1338.40 L333.23,1336.42 L336.23,1334.48 L339.22,1332.60 L342.22,1330.77 L345.21,1329.01 L348.21,1327.30 L351.20,1325.63 L354.19,1323.99 L357.19,1322.38 L360.19,1320.78 L363.18,1319.21 L366.18,1317.65 L369.17,1316.11 L372.16,1314.56 L375.16,1313.02 L378.15,1311.45 L381.15,1309.85 L384.14,1308.20 L387.14,1306.51 L390.13,1304.79 L393.13,1303.04 L396.12,1301.29 L399.12,1299.55 L402.12,1297.84 L405.11,1296.17 L408.11,1294.55 L411.10,1292.96 L414.10,1291.40 L417.09,1289.85 L420.09,1288.30 L423.08,1286.73 L426.08,1285.14 L429.07,1283.54 L432.07,1281.94 L435.06,1280.35 L438.05,1278.78 L441.05,1277.24 L444.04,1275.76 L447.04,1274.32 L450.03,1272.92 L453.03,1271.56 L456.02,1270.25 L459.02,1268.98 L462.01,1267.77 L465.01,1266.63 L468.00,1265.57 L471.00,1264.57 L474.00,1263.62 L476.99,1262.72 L479.99,1261.85 L482.98,1261.03 L485.98,1260.24 L488.97,1259.49 L491.97,1258.77 L494.96,1258.09 L497.96,1257.42 L500.95,1256.77 L503.95,1256.14 L506.94,1255.51 L509.94,1254.89 L512.93,1254.28 L515.92,1253.67 L518.92,1253.06 L521.91,1252.44 L524.91,1251.80 L527.90,1251.14 L530.90,1250.45 L533.89,1249.73 L536.89,1248.98 L539.88,1248.22 L542.88,1247.44 L545.88,1246.65 L548.87,1245.83 L551.87,1244.99 L554.86,1244.14 L557.86,1243.27 L560.85,1242.38 L563.85,1241.48 L566.84,1240.58 L569.84,1239.66 L572.83,1238.74 L575.83,1237.80 L578.82,1236.86 L581.82,1235.91 L584.81,1234.96 L587.81,1234.01 L590.80,1233.06 L593.79,1232.11 L596.79,1231.17 L599.78,1230.22 L602.78,1229.28 L605.77,1228.33 L608.77,1227.37 L611.76,1226.41 L614.76,1225.44 L617.75,1224.46 L620.75,1223.47 L623.75,1222.49 L626.74,1221.52 L629.74,1220.58 L632.73,1219.68 L635.73,1218.83 L638.72,1218.04 L641.72,1217.30 L644.71,1216.61 L647.71,1215.96 L650.70,1215.35 L653.70,1214.79 L656.69,1214.28 L659.69,1213.84 L662.68,1213.44 L665.68,1213.09 L668.67,1212.78 L671.67,1212.51 L674.66,1212.27 L677.66,1212.08 L680.65,1211.93 L683.65,1211.82 L686.64,1211.74 L689.63,1211.68 L692.63,1211.63 L695.62,1211.59 L698.62,1211.55 L701.62,1211.51 L704.61,1211.47 L707.61,1211.43 L710.60,1211.39" stroke="#f6b61e"/>
<path d="M111.60,1489.70 L114.59,1489.69 L117.59,1489.69 L120.58,1489.68 L123.58,1489.68 L126.57,1489.67 L129.57,1489.67 L132.56,1489.66 L135.56,1489.65 L138.56,1489.65 L141.55,1489.64 L144.54,1489.63 L147.54,1489.62 L150.53,1489.60 L153.53,1489.57 L156.53,1489.53 L159.52,1489.47 L162.51,1489.40 L165.51,1489.32 L168.50,1489.23 L171.50,1489.14 L174.50,1489.04 L177.49,1488.95 L180.49,1488.85 L183.48,1488.75 L186.47,1488.63 L189.47,1488.50 L192.47,1488.35 L195.46,1488.18 L198.45,1487.98 L201.45,1487.76 L204.44,1487.52 L207.44,1487.26 L210.44,1486.99 L213.43,1486.70 L216.43,1486.39 L219.42,1486.05 L222.41,1485.70 L225.41,1485.32 L228.41,1484.93 L231.40,1484.51 L234.39,1484.08 L237.39,1483.63 L240.38,1483.16 L243.38,1482.66 L246.38,1482.15 L249.37,1481.62 L252.37,1481.06 L255.36,1480.48 L258.36,1479.86 L261.35,1479.20 L264.35,1478.52 L267.34,1477.81 L270.34,1477.09 L273.33,1476.36 L276.32,1475.61 L279.32,1474.86 L282.31,1474.09 L285.31,1473.31 L288.31,1472.50 L291.30,1471.68 L294.29,1470.81 L297.29,1469.89 L300.28,1468.91 L303.28,1467.88 L306.27,1466.79 L309.27,1465.65 L312.26,1464.49 L315.26,1463.30 L318.25,1462.09 L321.25,1460.84 L324.25,1459.58 L327.24,1458.29 L330.24,1456.98 L333.23,1455.68 L336.23,1454.37 L339.22,1453.08 L342.22,1451.81 L345.21,1450.56 L348.21,1449.33 L351.20,1448.10 L354.19,1446.88 L357.19,1445.65 L360.19,1444.41 L363.18,1443.14 L366.18,1441.86 L369.17,1440.57 L372.16,1439.26 L375.16,1437.95 L378.15,1436.65 L381.15,1435.36 L384.14,1434.09 L387.14,1432.83 L390.13,1431.60 L393.13,1430.39 L396.12,1429.20 L399.12,1428.04 L402.12,1426.90 L405.11,1425.80 L408.11,1424.73 L411.10,1423.69 L414.10,1422.66 L417.09,1421.63 L420.09,1420.59 L423.08,1419.52 L426.08,1418.43 L429.07,1417.32 L432.07,1416.19 L435.06,1415.05 L438.05,1413.90 L441.05,1412.74 L444.04,1411.58 L447.04,1410.42 L450.03,1409.24 L453.03,1408.05 L456.02,1406.84 L459.02,1405.57 L462.01,1404.25 L465.01,1402.85 L468.00,1401.37 L471.00,1399.82 L474.00,1398.22 L476.99,1396.59 L479.99,1394.93 L482.98,1393.27 L485.98,1391.61 L488.97,1389.95 L491.97,1388.29 L494.96,1386.63 L497.96,1384.99 L500.95,1383.36 L503.95,1381.75 L506.94,1380.16 L509.94,1378.61 L512.93,1377.09 L515.92,1375.59 L518.92,1374.12 L521.91,1372.70 L524.91,1371.32 L527.90,1370.00 L530.90,1368.75 L533.89,1367.57 L536.89,1366.44 L539.88,1365.37 L542.88,1364.35 L545.88,1363.39 L548.87,1362.50 L551.87,1361.68 L554.86,1360.93 L557.86,1360.25 L560.85,1359.60 L563.85,1358.98 L566.84,1358.38 L569.84,1357.78 L572.83,1357.18 L575.83,1356.58 L578.82,1355.97 L581.82,1355.35 L584.81,1354.70 L587.81,1354.00 L590.80,1353.25 L593.79,1352.42 L596.79,1351.52 L599.78,1350.55 L602.78,1349.53 L605.77,1348.46 L608.77,1347.36 L611.76,1346.21 L614.76,1345.01 L617.75,1343.76 L620.75,1342.47 L623.75,1341.15 L626.74,1339.81 L629.74,1338.47 L632.73,1337.13 L635.73,1335.79 L638.72,1334.47 L641.72,1333.16 L644.71,1331.86 L647.71,1330.58 L650.70,1329.34 L653.70,1328.14 L656.69,1327.01 L659.69,1325.94 L662.68,1324.93 L665.68,1323.97 L668.67,1323.08 L671.67,1322.23 L674.66,1321.46 L677.66,1320.76 L680.65,1320.14 L683.65,1319.60 L686.64,1319.12 L689.63,1318.67 L692.63,1318.25 L695.62,1317.84 L698.62,1317.43 L701.62,1317.03 L704.61,1316.62 L707.61,1316.22 L710.60,1315.81" stroke="#3aacf2"/>
<path d="M111.60,1489.70 L114.59,1489.70 L117.59,1489.70 L120.58,1489.70 L123.58,1489.70 L126.57,1489.70 L129.57,1489.70 L132.56,1489.70 L135.56,1489.70 L138.56,1489.70 L141.55,1489.70 L144.54,1489.70 L147.54,1489.70 L150.53,1489.70 L153.53,1489.70 L156.53,1489.70 L159.52,1489.70 L162.51,1489.70 L165.51,1489.70 L168.50,1489.70 L171.50,1489.70 L174.50,1489.70 L177.49,1489.70 L180.49,1489.70 L183.48,1489.70 L186.47,1489.70 L189.47,1489.70 L192.47,1489.70 L195.46,1489.70 L198.45,1489.70 L201.45,1489.70 L204.44,1489.70 L207.44,1489.70 L210.44,1489.70 L213.43,1489.70 L216.43,1489.70 L219.42,1489.70 L222.41,1489.70 L225.41,1489.70 L228.41,1489.70 L231.40,1489.70 L234.39,1489.70 L237.39,1489.70 L240.38,1489.70 L243.38,1489.70 L246.38,1489.70 L249.37,1489.70 L252.37,1489.70 L255.36,1489.70 L258.36,1489.70 L261.35,1489.70 L264.35,1489.70 L267.34,1489.70 L270.34,1489.70 L273.33,1489.70 L276.32,1489.70 L279.32,1489.70 L282.31,1489.70 L285.31,1489.70 L288.31,1489.70 L291.30,1489.70 L294.29,1489.70 L297.29,1489.70 L300.28,1489.70 L303.28,1489.70 L306.27,1489.70 L309.27,1489.70 L312.26,1489.70 L315.26,1489.70 L318.25,1489.70 L321.25,1489.70 L324.25,1489.70 L327.24,1489.70 L330.24,1489.70 L333.23,1489.70 L336.23,1489.70 L339.22,1489.70 L342.22,1489.69 L345.21,1489.69 L348.21,1489.68 L351.20,1489.66 L354.19,1489.64 L357.19,1489.61 L360.19,1489.58 L363.18,1489.54 L366.18,1489.50 L369.17,1489.47 L372.16,1489.43 L375.16,1489.39 L378.15,1489.35 L381.15,1489.31 L384.14,1489.27 L387.14,1489.23 L390.13,1489.18 L393.13,1489.12 L396.12,1489.04 L399.12,1488.95 L402.12,1488.83 L405.11,1488.68 L408.11,1488.52 L411.10,1488.35 L414.10,1488.16 L417.09,1487.97 L420.09,1487.76 L423.08,1487.54 L426.08,1487.28 L429.07,1487.00 L432.07,1486.67 L435.06,1486.31 L438.05,1485.91 L441.05,1485.49 L444.04,1485.06 L447.04,1484.61 L450.03,1484.16 L453.03,1483.69 L456.02,1483.21 L459.02,1482.71 L462.01,1482.18 L465.01,1481.62 L468.00,1481.05 L471.00,1480.46 L474.00,1479.86 L476.99,1479.25 L479.99,1478.64 L482.98,1478.01 L485.98,1477.35 L488.97,1476.67 L491.97,1475.96 L494.96,1475.21 L497.96,1474.45 L500.95,1473.66 L503.95,1472.87 L506.94,1472.06 L509.94,1471.26 L512.93,1470.46 L515.92,1469.65 L518.92,1468.84 L521.91,1468.02 L524.91,1467.20 L527.90,1466.36 L530.90,1465.51 L533.89,1464.65 L536.89,1463.77 L539.88,1462.89 L542.88,1462.01 L545.88,1461.11 L548.87,1460.22 L551.87,1459.31 L554.86,1458.40 L557.86,1457.47 L560.85,1456.52 L563.85,1455.56 L566.84,1454.58 L569.84,1453.59 L572.83,1452.60 L575.83,1451.60 L578.82,1450.60 L581.82,1449.60 L584.81,1448.59 L587.81,1447.58 L590.80,1446.56 L593.79,1445.54 L596.79,1444.52 L599.78,1443.49 L602.78,1442.45 L605.77,1441.40 L608.77,1440.32 L611.76,1439.23 L614.76,1438.11 L617.75,1436.97 L620.75,1435.82 L623.75,1434.66 L626.74,1433.50 L629.74,1432.34 L632.73,1431.18 L635.73,1430.02 L638.72,1428.86 L641.72,1427.71 L644.71,1426.56 L647.71,1425.42 L650.70,1424.29 L653.70,1423.19 L656.69,1422.11 L659.69,1421.06 L662.68,1420.04 L665.68,1419.04 L668.67,1418.05 L671.67,1417.06 L674.66,1416.06 L677.66,1415.06 L680.65,1414.04 L683.65,1413.00 L686.64,1411.96 L689.63,1410.91 L692.63,1409.85 L695.62,1408.79 L698.62,1407.73 L701.62,1406.67 L704.61,1405.62 L707.61,1404.56 L710.60,1403.50" stroke="#2d3f8e"/>
<path d="M111.60,1489.70 L114.59,1489.70 L117.59,1489.70 L120.58,1489.70 L123.58,1489.70 L126.57,1489.70 L129.57,1489.70 L132.56,1489.70 L135.56,1489.70 L138.56,1489.70 L141.55,1489.70 L144.54,1489.70 L147.54,1489.70 L150.53,1489.70 L153.53,1489.70 L156.53,1489.70 L159.52,1489.70 L162.51,1489.70 L165.51,1489.70 L168.50,1489.70 L171.50,1489.70 L174.50,1489.70 L177.49,1489.70 L180.49,1489.70 L183.48,1489.70 L186.47,1489.70 L189.47,1489.70 L192.47,1489.70 L195.46,1489.70 L198.45,1489.70 L201.45,1489.70 L204.44,1489.70 L207.44,1489.70 L210.44,1489.70 L213.43,1489.70 L216.43,1489.70 L219.42,1489.70 L222.41,1489.70 L225.41,1489.70 L228.41,1489.70 L231.40,1489.70 L234.39,1489.70 L237.39,1489.70 L240.38,1489.70 L243.38,1489.70 L246.38,1489.70 L249.37,1489.70 L252.37,1489.70 L255.36,1489.70 L258.36,1489.70 L261.35,1489.70 L264.35,1489.70 L267.34,1489.70 L270.34,1489.70 L273.33,1489.70 L276.32,1489.70 L279.32,1489.70 L282.31,1489.70 L285.31,1489.70 L288.31,1489.70 L291.30,1489.70 L294.29,1489.70 L297.29,1489.70 L300.28,1489.70 L303.28,1489.70 L306.27,1489.70 L309.27,1489.70 L312.26,1489.70 L315.26,1489.70 L318.25,1489.70 L321.25,1489.70 L324.25,1489.70 L327.24,1489.70 L330.24,1489.70 L333.23,1489.70 L336.23,1489.70 L339.22,1489.70 L342.22,1489.70 L345.21,1489.70 L348.21,1489.70 L351.20,1489.70 L354.19,1489.70 L357.19,1489.70 L360.19,1489.70 L363.18,1489.70 L366.18,1489.70 L369.17,1489.70 L372.16,1489.70 L375.16,1489.70 L378.15,1489.70 L381.15,1489.70 L384.14,1489.70 L387.14,1489.70 L390.13,1489.70 L393.13,1489.70 L396.12,1489.70 L399.12,1489.70 L402.12,1489.70 L405.11,1489.69 L408.11,1489.68 L411.10,1489.67 L414.10,1489.65 L417.09,1489.63 L420.09,1489.60 L423.08,1489.57 L426.08,1489.54 L429.07,1489.51 L432.07,1489.48 L435.06,1489.45 L438.05,1489.41 L441.05,1489.38 L444.04,1489.35 L447.04,1489.32 L450.03,1489.29 L453.03,1489.25 L456.02,1489.22 L459.02,1489.19 L462.01,1489.15 L465.01,1489.11 L468.00,1489.06 L471.00,1489.00 L474.00,1488.93 L476.99,1488.85 L479.99,1488.76 L482.98,1488.67 L485.98,1488.57 L488.97,1488.47 L491.97,1488.37 L494.96,1488.27 L497.96,1488.17 L500.95,1488.07 L503.95,1487.97 L506.94,1487.87 L509.94,1487.76 L512.93,1487.64 L515.92,1487.50 L518.92,1487.36 L521.91,1487.20 L524.91,1487.04 L527.90,1486.87 L530.90,1486.69 L533.89,1486.52 L536.89,1486.34 L539.88,1486.16 L542.88,1485.98 L545.88,1485.80 L548.87,1485.63 L551.87,1485.45 L554.86,1485.27 L557.86,1485.10 L560.85,1484.92 L563.85,1484.75 L566.84,1484.57 L569.84,1484.40 L572.83,1484.23 L575.83,1484.05 L578.82,1483.88 L581.82,1483.71 L584.81,1483.53 L587.81,1483.36 L590.80,1483.19 L593.79,1483.01 L596.79,1482.84 L599.78,1482.67 L602.78,1482.49 L605.77,1482.32 L608.77,1482.15 L611.76,1481.97 L614.76,1481.79 L617.75,1481.61 L620.75,1481.41 L623.75,1481.20 L626.74,1480.98 L629.74,1480.75 L632.73,1480.51 L635.73,1480.25 L638.72,1480.00 L641.72,1479.74 L644.71,1479.47 L647.71,1479.21 L650.70,1478.94 L653.70,1478.67 L656.69,1478.39 L659.69,1478.10 L662.68,1477.78 L665.68,1477.44 L668.67,1477.08 L671.67,1476.71 L674.66,1476.32 L677.66,1475.92 L680.65,1475.52 L683.65,1475.12 L686.64,1474.71 L689.63,1474.31 L692.63,1473.91 L695.62,1473.50 L698.62,1473.10 L701.62,1472.70 L704.61,1472.29 L707.61,1471.89 L710.60,1471.49" stroke="#000000"/>
</g>
<rect x="111.6" y="1065.9" width="598.5" height="444.7" fill="none" stroke="#000" stroke-width="2.2"/>
<line x1="102.9" y1="1489.7" x2="111.6" y2="1489.7" stroke="#000" stroke-width="2.2"/>
<text x="96.9" y="1499.3" font-size="27.5" text-anchor="end" fill="#000">0</text>
<line x1="102.9" y1="1405.0" x2="111.6" y2="1405.0" stroke="#000" stroke-width="2.2"/>
<text x="96.9" y="1414.6" font-size="27.5" text-anchor="end" fill="#000">20</text>
<line x1="102.9" y1="1320.3" x2="111.6" y2="1320.3" stroke="#000" stroke-width="2.2"/>
<text x="96.9" y="1329.9" font-size="27.5" text-anchor="end" fill="#000">40</text>
<line x1="102.9" y1="1235.5" x2="111.6" y2="1235.5" stroke="#000" stroke-width="2.2"/>
<text x="96.9" y="1245.1" font-size="27.5" text-anchor="end" fill="#000">60</text>
<line x1="102.9" y1="1150.8" x2="111.6" y2="1150.8" stroke="#000" stroke-width="2.2"/>
<text x="96.9" y="1160.4" font-size="27.5" text-anchor="end" fill="#000">80</text>
<line x1="102.9" y1="1066.1" x2="111.6" y2="1066.1" stroke="#000" stroke-width="2.2"/>
<text x="96.9" y="1075.7" font-size="27.5" text-anchor="end" fill="#000">100</text>
<line x1="111.6" y1="1510.6" x2="111.6" y2="1519.8" stroke="#000" stroke-width="2.2"/>
<text x="111.6" y="1546.9" font-size="27.5" text-anchor="middle" fill="#000">400</text>
<line x1="261.4" y1="1510.6" x2="261.4" y2="1519.8" stroke="#000" stroke-width="2.2"/>
<text x="261.4" y="1546.9" font-size="27.5" text-anchor="middle" fill="#000">500</text>
<line x1="411.1" y1="1510.6" x2="411.1" y2="1519.8" stroke="#000" stroke-width="2.2"/>
<text x="411.1" y="1546.9" font-size="27.5" text-anchor="middle" fill="#000">600</text>
<line x1="560.9" y1="1510.6" x2="560.9" y2="1519.8" stroke="#000" stroke-width="2.2"/>
<text x="560.9" y="1546.9" font-size="27.5" text-anchor="middle" fill="#000">700</text>
<line x1="710.6" y1="1510.6" x2="710.6" y2="1519.8" stroke="#000" stroke-width="2.2"/>
<text x="710.6" y="1546.9" font-size="27.5" text-anchor="middle" fill="#000">800</text>
<text x="411.0" y="1588.1" font-size="27.5" text-anchor="middle" fill="#000">Wavelength (nm)</text>
<text transform="translate(40.8,1288.9) rotate(-90)" font-size="27.5" text-anchor="middle">Transmittance (%)</text>
<rect x="147.7" y="1160.6" width="36.2" height="3.2" fill="#e8482e"/>
<text x="203.6" y="1171.5" font-size="27.5" text-anchor="start" fill="#000">0 s</text>
<rect x="147.7" y="1193.8" width="36.2" height="3.2" fill="#f6b61e"/>
<text x="203.6" y="1204.7" font-size="27.5" text-anchor="start" fill="#000">30 s</text>
<rect x="147.7" y="1227.0" width="36.2" height="3.2" fill="#3aacf2"/>
<text x="203.6" y="1237.9" font-size="27.5" text-anchor="start" fill="#000">180 s</text>
<rect x="147.7" y="1260.2" width="36.2" height="3.2" fill="#2d3f8e"/>
<text x="203.6" y="1271.1" font-size="27.5" text-anchor="start" fill="#000">300 s</text>
<rect x="147.7" y="1293.4" width="36.2" height="3.2" fill="#000000"/>
<text x="203.6" y="1304.3" font-size="27.5" text-anchor="start" fill="#000">600 s</text>
<rect x="896.1" y="1067.7" width="49.9" height="444.9" fill="#fbdcd6"/>
<rect x="1060.2" y="1067.7" width="201.7" height="444.9" fill="#cde6fb"/>
<path d="M890.5,1115.5 L897.0,1115.7 L897.00,1115.70 L897.22,1117.69 L897.44,1119.68 L897.66,1121.66 L897.87,1123.65 L898.08,1125.64 L898.28,1127.63 L898.46,1129.62 L898.64,1131.62 L898.81,1133.61 L898.98,1135.60 L899.14,1137.59 L899.29,1139.59 L899.44,1141.58 L899.58,1143.58 L899.71,1145.57 L899.85,1147.57 L899.98,1149.56 L900.10,1151.56 L900.23,1153.56 L900.35,1155.55 L900.47,1157.55 L900.60,1159.55 L900.72,1161.54 L900.84,1163.54 L900.95,1165.53 L901.07,1167.53 L901.19,1169.53 L901.31,1171.52 L901.43,1173.52 L901.54,1175.52 L901.66,1177.51 L901.78,1179.51 L901.90,1181.51 L902.02,1183.50 L902.13,1185.50 L902.25,1187.50 L902.37,1189.49 L902.49,1191.49 L902.61,1193.49 L902.74,1195.48 L902.86,1197.48 L902.98,1199.47 L903.10,1201.47 L903.22,1203.47 L903.34,1205.46 L903.45,1207.46 L903.57,1209.46 L903.68,1211.45 L903.79,1213.45 L903.90,1215.45 L904.02,1217.44 L904.13,1219.44 L904.24,1221.44 L904.36,1223.43 L904.47,1225.43 L904.59,1227.43 L904.71,1229.42 L904.84,1231.42 L904.97,1233.42 L905.10,1235.41 L905.24,1237.41 L905.38,1239.40 L905.53,1241.40 L905.68,1243.39 L905.84,1245.38 L906.01,1247.38 L906.18,1249.37 L906.35,1251.36 L906.54,1253.35 L906.72,1255.34 L906.92,1257.34 L907.11,1259.33 L907.31,1261.32 L907.52,1263.31 L907.72,1265.29 L907.94,1267.28 L908.15,1269.27 L908.37,1271.26 L908.59,1273.25 L908.82,1275.23 L909.05,1277.22 L909.29,1279.21 L909.52,1281.19 L909.77,1283.18 L910.01,1285.16 L910.26,1287.15 L910.51,1289.13 L910.77,1291.12 L911.03,1293.10 L911.29,1295.08 L911.56,1297.06 L911.83,1299.04 L912.10,1301.03 L912.38,1303.01 L912.66,1304.99 L912.95,1306.97 L913.24,1308.94 L913.54,1310.92 L913.83,1312.90 L914.14,1314.88 L914.44,1316.85 L914.75,1318.83 L915.06,1320.80 L915.38,1322.78 L915.70,1324.75 L916.02,1326.73 L916.34,1328.70 L916.67,1330.68 L917.00,1332.65 L917.33,1334.62 L917.66,1336.59 L918.00,1338.56 L918.33,1340.54 L918.68,1342.51 L919.02,1344.48 L919.36,1346.45 L919.71,1348.42 L920.06,1350.39 L920.41,1352.35 L920.76,1354.32 L921.12,1356.29 L921.47,1358.26 L921.84,1360.23 L922.20,1362.19 L922.57,1364.16 L922.94,1366.12 L923.32,1368.09 L923.71,1370.05 L924.11,1372.01 L924.51,1373.97 L924.92,1375.93 L925.34,1377.88 L925.77,1379.83 L926.21,1381.79 L926.66,1383.73 L927.12,1385.68 L927.58,1387.63 L928.05,1389.57 L928.52,1391.51 L929.00,1393.46 L929.49,1395.40 L929.98,1397.33 L930.48,1399.27 L930.98,1401.21 L931.49,1403.14 L932.01,1405.07 L932.53,1407.00 L933.07,1408.93 L933.62,1410.85 L934.17,1412.77 L934.74,1414.69 L935.33,1416.60 L935.93,1418.51 L936.55,1420.41 L937.18,1422.31 L937.84,1424.20 L938.52,1426.08 L939.21,1427.95 L939.92,1429.82 L940.65,1431.69 L941.40,1433.54 L942.19,1435.38 L943.00,1437.21 L943.86,1439.01 L944.75,1440.80 L945.70,1442.56 L946.69,1444.30 L947.73,1446.00 L948.82,1447.68 L949.95,1449.33 L951.12,1450.95 L952.31,1452.56 L953.53,1454.14 L954.79,1455.70 L956.07,1457.23 L957.39,1458.73 L958.75,1460.19 L960.16,1461.62 L961.60,1463.00 L963.09,1464.33 L964.63,1465.61 L966.21,1466.82 L967.85,1467.98 L969.53,1469.06 L971.25,1470.06 L973.02,1470.99 L974.83,1471.84 L976.67,1472.63 L978.53,1473.36 L980.40,1474.05 L982.30,1474.70 L984.20,1475.31 L986.11,1475.89 L988.03,1476.45 L989.95,1477.00 L991.88,1477.53 L993.82,1478.05 L995.75,1478.56 L997.68,1479.08 L999.61,1479.59 L1001.55,1480.10 L1003.48,1480.60 L1005.43,1481.07 L1007.38,1481.51 L1009.33,1481.93 L1011.30,1482.31 L1013.26,1482.68 L1015.23,1483.02 L1017.21,1483.34 L1019.18,1483.65 L1021.16,1483.95 L1023.14,1484.23 L1025.12,1484.51 L1027.10,1484.77 L1029.09,1485.01 L1031.08,1485.23 L1033.07,1485.44 L1035.06,1485.64 L1037.05,1485.83 L1039.04,1486.01 L1041.03,1486.19 L1043.02,1486.36 L1045.02,1486.53 L1047.01,1486.69 L1049.00,1486.86 L1050.99,1487.03 L1052.99,1487.20 L1052.99,1487.20 L1053.00,1487.20 L1054.98,1486.89 L1056.95,1486.57 L1058.91,1486.21 L1060.86,1485.78 L1062.78,1485.26 L1064.67,1484.62 L1066.51,1483.87 L1068.31,1483.01 L1070.08,1482.08 L1071.80,1481.07 L1073.48,1479.99 L1075.12,1478.85 L1076.71,1477.64 L1078.24,1476.37 L1079.73,1475.03 L1081.16,1473.64 L1082.53,1472.19 L1083.84,1470.69 L1085.09,1469.13 L1086.27,1467.52 L1087.38,1465.86 L1088.43,1464.16 L1089.41,1462.42 L1090.33,1460.65 L1091.20,1458.85 L1092.02,1457.03 L1092.80,1455.19 L1093.54,1453.33 L1094.26,1451.46 L1094.95,1449.59 L1095.61,1447.70 L1096.25,1445.81 L1096.88,1443.91 L1097.49,1442.00 L1098.08,1440.09 L1098.65,1438.18 L1099.21,1436.26 L1099.76,1434.33 L1100.29,1432.41 L1100.82,1430.48 L1101.33,1428.54 L1101.83,1426.61 L1102.31,1424.67 L1102.78,1422.72 L1103.24,1420.78 L1103.69,1418.83 L1104.12,1416.87 L1104.54,1414.92 L1104.95,1412.96 L1105.36,1411.00 L1105.76,1409.04 L1106.15,1407.08 L1106.55,1405.12 L1106.94,1403.16 L1107.33,1401.20 L1107.73,1399.24 L1108.12,1397.28 L1108.52,1395.32 L1108.92,1393.36 L1109.32,1391.40 L1109.72,1389.44 L1110.12,1387.48 L1110.52,1385.52 L1110.91,1383.56 L1111.31,1381.60 L1111.70,1379.64 L1112.09,1377.68 L1112.47,1375.71 L1112.86,1373.75 L1113.23,1371.79 L1113.60,1369.82 L1113.97,1367.85 L1114.33,1365.89 L1114.67,1363.92 L1115.02,1361.95 L1115.36,1359.98 L1115.70,1358.00 L1116.04,1356.03 L1116.38,1354.06 L1116.73,1352.09 L1117.09,1350.13 L1117.45,1348.16 L1117.84,1346.20 L1118.23,1344.24 L1118.65,1342.28 L1119.08,1340.33 L1119.53,1338.38 L1120.00,1336.44 L1120.48,1334.49 L1120.97,1332.56 L1121.48,1330.62 L1121.99,1328.69 L1122.52,1326.76 L1123.05,1324.83 L1123.59,1322.91 L1124.15,1320.98 L1124.71,1319.06 L1125.28,1317.15 L1125.86,1315.23 L1126.45,1313.33 L1127.07,1311.42 L1127.69,1309.52 L1128.33,1307.63 L1128.98,1305.74 L1129.64,1303.85 L1130.30,1301.96 L1130.97,1300.07 L1131.63,1298.19 L1132.29,1296.30 L1132.94,1294.41 L1133.60,1292.52 L1134.26,1290.63 L1134.93,1288.75 L1135.62,1286.87 L1136.32,1285.00 L1137.04,1283.13 L1137.78,1281.27 L1138.54,1279.42 L1139.32,1277.58 L1140.12,1275.75 L1140.93,1273.92 L1141.74,1272.09 L1142.56,1270.27 L1143.38,1268.44 L1144.21,1266.63 L1145.06,1264.82 L1145.93,1263.02 L1146.83,1261.23 L1147.76,1259.46 L1148.71,1257.70 L1149.70,1255.96 L1150.71,1254.24 L1151.76,1252.54 L1152.83,1250.85 L1153.92,1249.17 L1155.03,1247.51 L1156.16,1245.86 L1157.30,1244.21 L1158.44,1242.58 L1159.60,1240.94 L1160.76,1239.32 L1161.93,1237.69 L1163.11,1236.08 L1164.29,1234.47 L1165.49,1232.86 L1166.69,1231.26 L1167.90,1229.67 L1169.11,1228.08 L1170.34,1226.50 L1171.58,1224.93 L1172.82,1223.36 L1174.07,1221.81 L1175.34,1220.26 L1176.61,1218.72 L1177.90,1217.18 L1179.20,1215.66 L1180.51,1214.15 L1181.83,1212.65 L1183.17,1211.16 L1184.52,1209.69 L1185.88,1208.23 L1187.27,1206.78 L1188.66,1205.35 L1190.08,1203.94 L1191.51,1202.54 L1192.95,1201.16 L1194.41,1199.79 L1195.88,1198.43 L1197.36,1197.09 L1198.85,1195.76 L1200.35,1194.44 L1201.86,1193.12 L1203.38,1191.82 L1204.90,1190.53 L1206.43,1189.24 L1207.97,1187.96 L1209.51,1186.68 L1211.06,1185.41 L1212.61,1184.15 L1214.16,1182.89 L1215.72,1181.63 L1217.27,1180.38 L1218.83,1179.13 L1220.40,1177.88 L1221.96,1176.63 L1223.52,1175.38 L1225.08,1174.13 L1226.64,1172.87 L1228.20,1171.62 L1229.75,1170.37 L1231.31,1169.11 L1232.87,1167.86 L1234.44,1166.61 L1236.00,1165.37 L1237.57,1164.13 L1239.14,1162.89 L1240.71,1161.66 L1242.29,1160.43 L1243.88,1159.21 L1245.47,1157.99 L1247.06,1156.79 L1248.66,1155.59 L1250.27,1154.39 L1251.88,1153.21 L1253.50,1152.04 L1255.12,1150.87 L1256.76,1149.72 L1258.40,1148.58 L1260.05,1147.45 L1261.71,1146.34 L1263.38,1145.23 L1265.05,1144.13 L1266.73,1143.04 L1268.41,1141.96 L1270.09,1140.88 L1271.78,1139.81 L1273.48,1138.75 L1275.18,1137.70 L1276.90,1136.68 L1278.62,1135.67 L1280.36,1134.68 L1282.12,1133.72 L1283.89,1132.79 L1285.67,1131.90 L1287.48,1131.03 L1289.30,1130.21 L1291.13,1129.42 L1292.99,1128.68 L1294.86,1127.97 L1296.75,1127.31 L1298.65,1126.70 L1300.56,1126.13 L1302.49,1125.60 L1304.43,1125.10 L1306.37,1124.64 L1308.33,1124.21 L1310.28,1123.81 L1312.25,1123.44 L1314.22,1123.08 L1316.19,1122.75 L1318.16,1122.43 L1320.14,1122.13 L1322.12,1121.85 L1324.10,1121.57 L1326.08,1121.31 L1328.07,1121.05 L1330.05,1120.80 L1332.04,1120.55 L1334.02,1120.32 L1336.01,1120.11 L1338.00,1119.91 L1339.99,1119.74 L1341.99,1119.59 L1343.98,1119.47 L1345.98,1119.36 L1347.98,1119.27 L1349.98,1119.19 L1351.97,1119.12 L1353.97,1119.07 L1355.97,1119.02 L1357.97,1118.98 L1359.97,1118.94 L1361.97,1118.90 L1363.97,1118.86 L1365.97,1118.81 L1365.97,1118.81" fill="none" stroke="#000" stroke-width="3.4" stroke-linejoin="round" stroke-linecap="round"/>
<rect x="851.4" y="1067.7" width="607.3" height="444.9" fill="none" stroke="#000" stroke-width="2.2"/>
<line x1="842.7" y1="1491.8" x2="851.4" y2="1491.8" stroke="#000" stroke-width="2.2"/>
<text x="836.1" y="1501.4" font-size="27.5" text-anchor="end" fill="#000">0</text>
<line x1="842.7" y1="1408.7" x2="851.4" y2="1408.7" stroke="#000" stroke-width="2.2"/>
<text x="836.1" y="1418.3" font-size="27.5" text-anchor="end" fill="#000">20</text>
<line x1="842.7" y1="1325.5" x2="851.4" y2="1325.5" stroke="#000" stroke-width="2.2"/>
<text x="836.1" y="1335.1" font-size="27.5" text-anchor="end" fill="#000">40</text>
<line x1="842.7" y1="1242.4" x2="851.4" y2="1242.4" stroke="#000" stroke-width="2.2"/>
<text x="836.1" y="1252.0" font-size="27.5" text-anchor="end" fill="#000">60</text>
<line x1="842.7" y1="1159.2" x2="851.4" y2="1159.2" stroke="#000" stroke-width="2.2"/>
<text x="836.1" y="1168.8" font-size="27.5" text-anchor="end" fill="#000">80</text>
<line x1="842.7" y1="1076.1" x2="851.4" y2="1076.1" stroke="#000" stroke-width="2.2"/>
<text x="836.1" y="1085.7" font-size="27.5" text-anchor="end" fill="#000">100</text>
<line x1="890.9" y1="1512.6" x2="890.9" y2="1521.6" stroke="#000" stroke-width="2.2"/>
<text x="890.9" y="1549.6" font-size="27.5" text-anchor="middle" fill="#000">0</text>
<line x1="1023.0" y1="1512.6" x2="1023.0" y2="1521.6" stroke="#000" stroke-width="2.2"/>
<text x="1023.0" y="1549.6" font-size="27.5" text-anchor="middle" fill="#000">100</text>
<line x1="1155.0" y1="1512.6" x2="1155.0" y2="1521.6" stroke="#000" stroke-width="2.2"/>
<text x="1155.0" y="1549.6" font-size="27.5" text-anchor="middle" fill="#000">200</text>
<line x1="1287.0" y1="1512.6" x2="1287.0" y2="1521.6" stroke="#000" stroke-width="2.2"/>
<text x="1287.0" y="1549.6" font-size="27.5" text-anchor="middle" fill="#000">300</text>
<line x1="1419.1" y1="1512.6" x2="1419.1" y2="1521.6" stroke="#000" stroke-width="2.2"/>
<text x="1419.1" y="1549.6" font-size="27.5" text-anchor="middle" fill="#000">400</text>
<text x="1155.6" y="1593.5" font-size="27.8" text-anchor="middle" fill="#000">Time (s)</text>
<text transform="translate(779.8,1290.3) rotate(-90)" font-size="28" text-anchor="middle">Transmittance (%)</text>
<text x="900.6" y="1104.8" font-size="27.3" text-anchor="start" fill="#000">1.6 V</text>
<text x="1105.8" y="1495.9" font-size="27.3" text-anchor="start" fill="#000">0.2 V</text>
<text transform="translate(970.6,1186.2) rotate(-90)" font-size="27.5" text-anchor="middle">Deposition</text>
<text transform="translate(1179.8,1394.8) rotate(-90)" font-size="27.5" text-anchor="middle">Dissolution</text>
<line x1="932.3" y1="1126.6" x2="932.3" y2="1226" stroke="#000" stroke-width="3"/>
<polygon points="932.3,1238.6 927.6,1222 937,1222" fill="#000"/>
<line x1="1141" y1="1454.8" x2="1141" y2="1356" stroke="#000" stroke-width="3"/>
<polygon points="1141,1343 1136.6,1358.5 1145.4,1358.5" fill="#000"/>
<text x="854.8" y="1498.7" font-size="28" fill="#dd5533"><tspan font-style="italic">t</tspan><tspan font-size="17.3" dy="7.6">c</tspan><tspan dy="-7.6"> = 37.7 s</tspan></text>
<text x="1167.9" y="1287.2" font-size="28" fill="#3b58a4"><tspan font-style="italic">t</tspan><tspan font-size="17.3" dy="7.6">b</tspan><tspan dy="-7.6"> = 153.2 s</tspan></text>
</svg></body></html>
